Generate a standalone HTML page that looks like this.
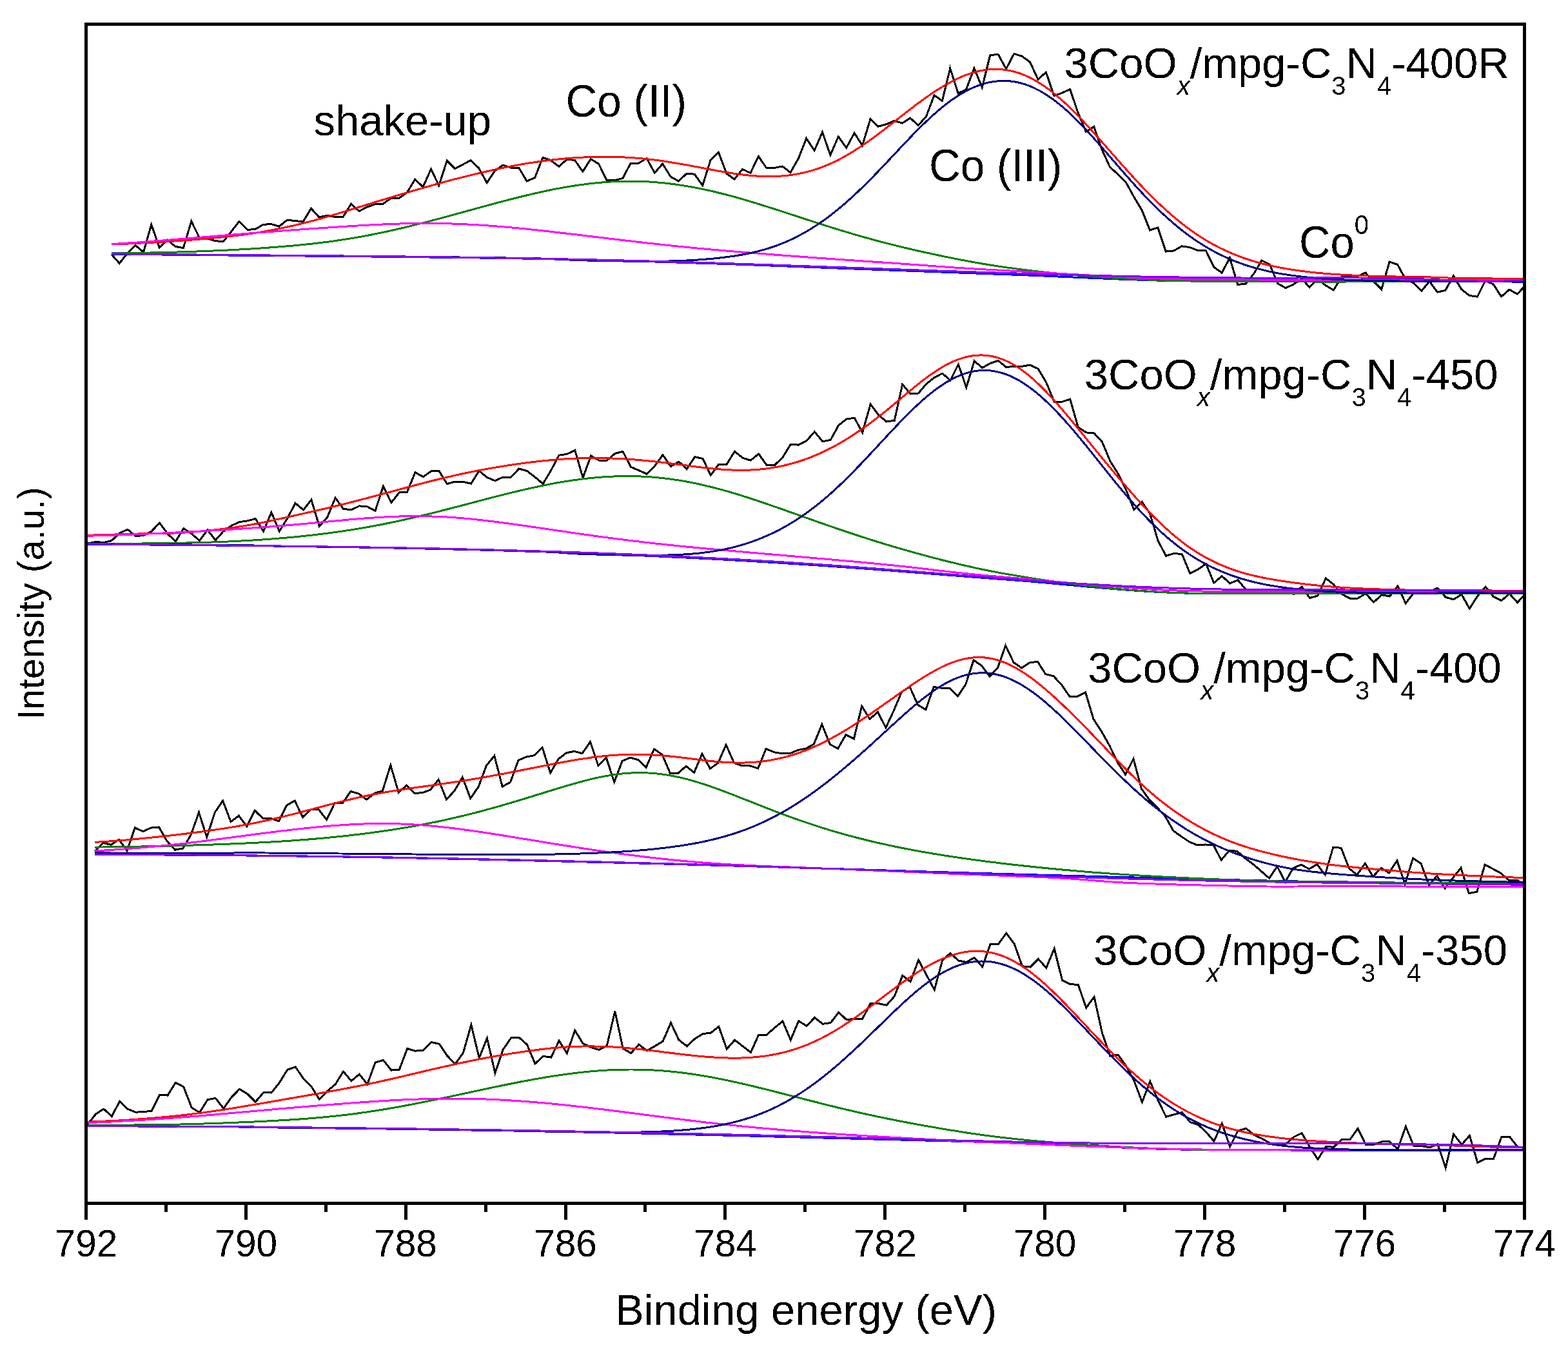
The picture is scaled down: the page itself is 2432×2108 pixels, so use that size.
<!DOCTYPE html>
<html><head><meta charset="utf-8"><title>XPS Co 2p3/2 spectra</title><style>
html,body{margin:0;padding:0;background:#fff;width:2432px;height:2108px;overflow:hidden}
svg{display:block}
.t{font-family:"Liberation Sans",Arial,sans-serif;fill:#000}
</style></head><body>
<svg xmlns="http://www.w3.org/2000/svg" width="2432" height="2108" viewBox="0 0 2432 2108">
<defs><filter id="bin" x="0" y="0" width="1" height="1" filterUnits="objectBoundingBox"><feComponentTransfer><feFuncA type="discrete" tableValues="0 1"/></feComponentTransfer></filter><clipPath id="c"><rect x="133.4" y="37.0" width="2230.8" height="1829.0"/></clipPath></defs>
<rect width="2432" height="2108" fill="#fff"/>
<g clip-path="url(#c)" fill="none" shape-rendering="crispEdges" stroke-width="3" stroke-linejoin="miter" stroke-miterlimit="4">
<polyline points="172.9,394.5 185.3,408.5 197.7,392.6 210.1,380.5 222.5,391.1 234.8,348.3 247.2,383.9 259.6,372.0 272.0,382.4 284.4,384.6 296.8,343.3 309.2,368.6 321.6,370.1 334.0,373.7 346.3,374.7 358.7,359.2 371.1,343.3 383.5,356.3 395.9,355.6 408.3,348.3 420.7,347.6 433.1,351.2 445.5,341.1 457.8,342.7 470.2,343.6 482.6,323.3 495.0,337.1 507.4,334.2 519.8,336.4 532.2,336.4 544.6,316.1 557.0,327.7 569.3,321.1 581.7,316.8 594.1,316.1 606.5,307.4 618.9,307.4 631.3,298.7 643.7,278.3 656.1,289.9 668.5,262.4 680.8,287.8 693.2,249.3 705.6,261.7 718.0,255.1 730.4,248.6 742.8,260.9 755.2,283.6 767.6,264.8 780.0,256.1 792.3,260.1 804.7,260.1 817.1,281.0 829.5,275.7 841.9,244.4 854.3,248.7 866.7,258.3 879.1,247.4 891.5,248.4 903.9,266.2 916.2,246.7 928.6,254.3 941.0,279.2 953.4,279.7 965.8,276.6 978.2,253.1 990.6,253.1 1003.0,245.6 1015.4,268.2 1027.7,254.0 1040.1,274.0 1052.5,281.0 1064.9,269.3 1077.3,270.2 1089.7,287.7 1102.1,248.4 1114.5,236.2 1126.9,269.3 1139.2,278.0 1151.6,262.4 1164.0,268.4 1176.4,242.3 1188.8,260.6 1201.2,260.3 1213.6,258.0 1226.0,267.6 1238.4,245.8 1250.7,214.5 1263.1,233.6 1275.5,204.9 1287.9,240.6 1300.3,211.9 1312.7,229.3 1325.1,206.3 1337.5,225.8 1349.9,184.9 1362.2,196.2 1374.6,192.7 1387.0,187.5 1399.4,191.0 1411.8,183.1 1424.2,194.5 1436.6,180.6 1449.0,147.7 1461.4,156.4 1473.7,105.9 1486.1,144.7 1498.5,139.0 1510.9,105.9 1523.3,135.5 1535.7,85.9 1548.1,84.2 1560.5,106.8 1572.9,83.3 1585.2,87.3 1597.6,96.3 1610.0,123.3 1622.4,112.0 1634.8,148.6 1647.2,144.2 1659.6,138.5 1672.0,174.7 1684.4,204.3 1696.7,196.4 1709.1,232.1 1721.5,259.1 1733.9,270.4 1746.3,282.6 1758.7,305.3 1771.1,326.0 1783.5,357.0 1795.9,353.0 1808.2,390.1 1820.6,388.9 1833.0,381.9 1845.4,383.7 1857.8,388.4 1870.2,388.4 1882.6,414.0 1895.0,423.2 1907.4,400.0 1919.7,441.5 1932.1,440.1 1944.5,424.9 1956.9,404.0 1969.3,410.1 1981.7,439.7 1994.1,446.7 2006.5,441.0 2018.9,432.2 2031.2,445.7 2043.6,433.0 2056.0,442.6 2068.4,450.0 2080.8,429.6 2093.2,428.7 2105.6,428.7 2118.0,423.0 2130.4,436.5 2142.8,448.7 2155.1,406.1 2167.5,410.3 2179.9,432.9 2192.3,438.7 2204.7,451.5 2217.1,436.4 2229.5,453.2 2241.9,450.3 2254.3,427.7 2266.6,448.6 2279.0,458.5 2291.4,460.2 2303.8,435.3 2316.2,441.0 2328.6,460.2 2341.0,449.2 2353.4,456.1 2365.8,442.8" stroke="#000"/>
<polyline points="136.0,843.0 148.4,840.5 160.8,841.5 173.2,838.6 185.6,827.0 197.9,821.2 210.3,831.4 222.7,830.7 235.1,824.1 247.5,811.1 259.9,827.8 272.3,840.1 284.7,819.5 297.1,827.8 309.4,838.6 321.8,822.0 334.2,837.9 346.6,824.1 359.0,815.4 371.4,809.6 383.8,807.9 396.2,804.6 408.6,824.1 420.9,794.8 433.3,824.1 445.7,804.0 458.1,780.5 470.5,791.0 482.9,775.3 495.3,816.2 507.7,802.3 520.1,772.2 532.4,789.2 544.8,791.0 557.2,784.9 569.6,785.8 582.0,792.4 594.4,754.1 606.8,779.7 619.2,764.0 631.6,763.1 643.9,732.7 656.3,739.6 668.7,730.9 681.1,730.9 693.5,750.6 705.9,747.1 718.3,747.5 730.7,750.1 743.1,730.4 755.4,740.5 767.8,745.7 780.2,740.1 792.6,740.1 805.0,727.0 817.4,730.5 829.8,740.1 842.2,750.5 854.6,729.6 867.0,706.1 879.3,704.4 891.7,698.3 904.1,741.0 916.5,707.0 928.9,714.0 941.3,714.3 953.7,703.5 966.1,700.4 978.5,724.4 990.8,729.6 1003.2,735.2 1015.6,722.7 1028.0,705.6 1040.4,723.5 1052.8,716.1 1065.2,727.5 1077.6,708.7 1090.0,711.4 1102.3,737.0 1114.7,720.4 1127.1,720.2 1139.5,700.2 1151.9,710.3 1164.3,714.1 1176.7,704.0 1189.1,721.4 1201.5,721.4 1213.8,709.7 1226.2,689.4 1238.6,690.1 1251.0,683.6 1263.4,669.7 1275.8,684.8 1288.2,682.4 1300.6,659.8 1313.0,650.0 1325.3,648.3 1337.7,670.9 1350.1,627.0 1362.5,643.6 1374.9,654.0 1387.3,652.3 1399.7,596.1 1412.1,611.0 1424.5,610.0 1436.8,595.4 1449.2,585.6 1461.6,579.2 1474.0,590.0 1486.4,565.2 1498.8,600.9 1511.2,560.0 1523.6,570.5 1536.0,563.5 1548.3,559.5 1560.7,569.6 1573.1,568.2 1585.5,568.2 1597.9,566.1 1610.3,572.2 1622.7,593.1 1635.1,623.2 1647.5,623.2 1659.8,619.2 1672.2,662.7 1684.6,670.9 1697.0,672.0 1709.4,685.4 1721.8,715.0 1734.2,735.0 1746.6,760.2 1759.0,790.7 1771.3,778.5 1783.7,796.9 1796.1,838.8 1808.5,862.3 1820.9,858.4 1833.3,859.7 1845.7,889.3 1858.1,883.2 1870.5,874.5 1882.8,904.1 1895.2,893.6 1907.6,904.9 1920.0,899.7 1932.4,914.5 1944.8,914.5 1957.2,914.5 1969.6,914.5 1982.0,915.4 1994.3,918.0 2006.7,921.5 2019.1,910.1 2031.5,927.6 2043.9,924.1 2056.3,897.1 2068.7,906.7 2081.1,921.5 2093.5,928.1 2105.9,928.1 2118.2,920.6 2130.6,934.1 2143.0,922.7 2155.4,925.1 2167.8,909.1 2180.2,935.8 2192.6,919.8 2205.0,918.6 2217.4,917.4 2229.7,912.1 2242.1,926.3 2254.5,929.8 2266.9,922.1 2279.3,944.0 2291.7,924.5 2304.1,910.3 2316.5,925.7 2328.9,931.6 2341.2,920.9 2353.6,934.6 2366.0,921.0" stroke="#000"/>
<polyline points="147.4,1320.4 159.8,1307.4 172.2,1310.3 184.6,1302.3 197.0,1319.7 209.3,1283.9 221.7,1289.7 234.1,1284.1 246.5,1283.0 258.9,1304.5 271.3,1318.2 283.7,1316.1 296.1,1295.0 308.5,1260.2 320.8,1298.7 333.2,1260.2 345.6,1242.1 358.0,1274.7 370.4,1265.3 382.8,1282.0 395.2,1257.3 407.6,1269.3 420.0,1269.5 432.3,1273.6 444.7,1249.2 457.1,1241.9 469.5,1267.5 481.9,1255.8 494.3,1255.8 506.7,1271.5 519.1,1245.8 531.5,1245.8 543.8,1227.5 556.2,1231.0 568.6,1240.2 581.0,1230.4 593.4,1226.6 605.8,1186.9 618.2,1229.2 630.6,1218.2 643.0,1230.4 655.3,1229.7 667.7,1224.9 680.1,1209.2 692.5,1240.2 704.9,1226.6 717.3,1205.7 729.7,1238.4 742.1,1220.5 754.5,1187.4 766.8,1172.4 779.2,1220.1 791.6,1213.2 804.0,1179.2 816.4,1174.0 828.8,1171.7 841.2,1159.5 853.6,1198.9 866.0,1177.5 878.4,1167.9 890.7,1165.3 903.1,1168.8 915.5,1150.5 927.9,1187.9 940.3,1175.2 952.7,1213.2 965.1,1180.4 977.5,1175.2 989.9,1178.7 1002.2,1190.2 1014.6,1161.8 1027.0,1170.5 1039.4,1199.2 1051.8,1199.2 1064.2,1188.4 1076.6,1198.4 1089.0,1169.3 1101.4,1192.3 1113.7,1183.5 1126.1,1155.4 1138.5,1183.2 1150.9,1187.9 1163.3,1187.9 1175.7,1191.9 1188.1,1161.5 1200.5,1166.7 1212.9,1168.8 1225.2,1168.8 1237.6,1163.5 1250.0,1161.1 1262.4,1154.2 1274.8,1123.5 1287.2,1154.5 1299.6,1161.1 1312.0,1139.7 1324.4,1146.1 1336.7,1095.3 1349.1,1115.3 1361.5,1104.4 1373.9,1128.7 1386.3,1102.3 1398.7,1072.7 1411.1,1065.7 1423.5,1093.2 1435.9,1100.9 1448.2,1065.4 1460.6,1067.3 1473.0,1067.5 1485.4,1080.2 1497.8,1061.4 1510.2,1024.0 1522.6,1032.7 1535.0,1049.2 1547.4,1036.1 1559.7,1001.3 1572.1,1027.4 1584.5,1036.1 1596.9,1028.0 1609.3,1026.2 1621.7,1045.7 1634.1,1048.8 1646.5,1062.2 1658.9,1080.2 1671.2,1080.2 1683.6,1073.9 1696.0,1115.3 1708.4,1134.5 1720.8,1156.3 1733.2,1182.4 1745.6,1201.5 1758.0,1177.2 1770.4,1223.3 1782.7,1240.7 1795.1,1252.9 1807.5,1266.5 1819.9,1288.7 1832.3,1297.5 1844.7,1305.8 1857.1,1311.0 1869.5,1310.0 1881.9,1310.5 1894.2,1334.0 1906.6,1319.2 1919.0,1320.4 1931.4,1331.4 1943.8,1340.6 1956.2,1351.4 1968.6,1362.2 1981.0,1344.1 1993.4,1368.0 2005.8,1346.5 2018.1,1341.3 2030.5,1347.9 2042.9,1340.6 2055.3,1357.0 2067.7,1314.5 2080.1,1315.2 2092.5,1347.1 2104.9,1357.0 2117.3,1339.2 2129.6,1359.8 2142.0,1346.2 2154.4,1354.0 2166.8,1335.0 2179.2,1371.2 2191.6,1331.1 2204.0,1339.5 2216.4,1372.9 2228.8,1358.9 2241.1,1377.9 2253.5,1361.7 2265.9,1346.2 2278.3,1385.6 2290.7,1383.4 2303.1,1341.2 2315.5,1347.8 2327.9,1354.5 2340.3,1365.6 2352.6,1365.1 2365.0,1372.3" stroke="#000"/>
<polyline points="136.1,1744.0 148.5,1728.1 160.9,1720.1 173.3,1731.7 185.7,1708.2 198.0,1720.1 210.4,1725.2 222.8,1724.5 235.2,1723.3 247.6,1698.3 260.0,1699.1 272.4,1679.2 284.8,1686.0 297.2,1717.9 309.5,1725.9 321.9,1705.9 334.3,1703.4 346.7,1719.4 359.1,1702.0 371.5,1689.3 383.9,1696.9 396.3,1709.2 408.7,1694.7 421.0,1695.0 433.4,1679.3 445.8,1659.3 458.2,1654.9 470.6,1673.2 483.0,1685.4 495.4,1705.4 507.8,1692.3 520.2,1681.9 532.5,1661.9 544.9,1676.7 557.3,1666.2 569.7,1681.9 582.1,1647.9 594.5,1644.5 606.9,1660.1 619.3,1659.3 631.7,1626.5 644.0,1630.2 656.4,1629.1 668.8,1616.6 681.2,1619.2 693.6,1637.5 706.0,1650.6 718.4,1633.1 730.8,1589.6 743.2,1641.0 755.5,1610.5 767.9,1664.5 780.3,1627.9 792.7,1610.0 805.1,1609.3 817.5,1620.4 829.9,1650.0 842.3,1638.4 854.7,1640.1 867.1,1614.5 879.4,1633.7 891.8,1598.3 904.2,1618.7 916.6,1624.4 929.0,1628.4 941.4,1621.8 953.8,1568.7 966.2,1626.2 978.6,1633.7 990.9,1620.1 1003.3,1629.7 1015.7,1622.7 1028.1,1615.2 1040.5,1586.7 1052.9,1613.1 1065.3,1622.7 1077.7,1611.4 1090.1,1603.5 1102.4,1602.3 1114.8,1592.2 1127.2,1627.2 1139.6,1613.2 1152.0,1622.8 1164.4,1632.4 1176.8,1605.0 1189.2,1605.0 1201.6,1594.1 1213.9,1584.1 1226.3,1613.2 1238.7,1583.6 1251.1,1591.5 1263.5,1578.4 1275.9,1588.3 1288.3,1586.6 1300.7,1570.2 1313.1,1581.9 1325.4,1580.1 1337.8,1580.1 1350.2,1556.3 1362.6,1556.6 1375.0,1559.3 1387.4,1545.3 1399.8,1513.1 1412.2,1522.7 1424.6,1489.1 1436.9,1512.2 1449.3,1535.4 1461.7,1489.5 1474.1,1478.4 1486.5,1490.1 1498.9,1492.3 1511.3,1485.4 1523.7,1499.6 1536.1,1464.5 1548.4,1464.5 1560.8,1447.4 1573.2,1464.0 1585.6,1498.8 1598.0,1500.0 1610.4,1487.5 1622.8,1501.4 1635.2,1471.4 1647.6,1520.5 1659.9,1526.6 1672.3,1527.5 1684.7,1563.2 1697.1,1546.3 1709.5,1602.4 1721.9,1638.0 1734.3,1636.3 1746.7,1653.7 1759.1,1676.8 1771.4,1709.6 1783.8,1677.4 1796.2,1707.0 1808.6,1732.3 1821.0,1728.8 1833.4,1725.3 1845.8,1740.6 1858.2,1744.5 1870.6,1755.8 1882.9,1770.2 1895.3,1742.7 1907.7,1778.4 1920.1,1754.0 1932.5,1750.5 1944.9,1760.1 1957.3,1766.2 1969.7,1773.2 1982.1,1774.0 1994.4,1774.4 2006.8,1763.6 2019.2,1757.5 2031.6,1779.3 2044.0,1798.4 2056.4,1778.4 2068.8,1779.3 2081.2,1767.1 2093.6,1768.0 2106.0,1750.6 2118.3,1775.5 2130.7,1775.5 2143.1,1770.9 2155.5,1770.9 2167.9,1782.4 2180.3,1747.4 2192.7,1777.4 2205.1,1777.6 2217.5,1779.8 2229.8,1774.8 2242.2,1811.4 2254.6,1759.2 2267.0,1775.5 2279.4,1761.5 2291.8,1803.6 2304.2,1797.0 2316.6,1797.3 2329.0,1763.1 2341.3,1763.1 2353.7,1778.8 2366.1,1780.7" stroke="#000"/>
<polyline points="172.9,394.2 178.9,394.3 184.9,394.3 190.9,394.4 196.9,394.5 202.9,394.5 208.9,394.6 214.9,394.7 220.9,394.7 226.9,394.8 232.9,394.8 238.9,394.9 244.9,395.0 250.9,395.0 256.9,395.1 262.9,395.2 268.9,395.2 274.9,395.3 280.9,395.3 286.9,395.4 292.9,395.5 298.9,395.5 304.9,395.6 310.9,395.6 316.9,395.7 322.9,395.7 328.9,395.8 334.9,395.8 340.9,395.9 346.9,395.9 352.9,396.0 358.9,396.1 364.9,396.1 370.9,396.2 376.9,396.2 382.9,396.3 388.9,396.3 394.9,396.4 400.9,396.4 406.9,396.5 412.9,396.5 418.9,396.6 424.9,396.6 430.9,396.7 436.9,396.7 442.9,396.8 448.9,396.8 454.9,396.9 460.9,396.9 466.9,397.0 472.9,397.0 478.9,397.1 484.9,397.1 490.9,397.2 496.9,397.2 502.9,397.3 508.9,397.4 514.9,397.4 520.9,397.5 526.9,397.5 532.9,397.6 538.9,397.6 544.9,397.7 550.9,397.8 556.9,397.8 562.9,397.9 568.9,397.9 574.9,398.0 580.9,398.1 586.9,398.1 592.9,398.2 598.9,398.3 604.9,398.3 610.9,398.4 616.9,398.4 622.9,398.5 628.9,398.6 634.9,398.6 640.9,398.7 646.9,398.8 652.9,398.8 658.9,398.9 664.9,399.0 670.9,399.1 676.9,399.1 682.9,399.2 688.9,399.3 694.9,399.4 700.9,399.4 706.9,399.5 712.9,399.6 718.9,399.7 724.9,399.7 730.9,399.8 736.9,399.9 742.9,400.0 748.9,400.1 754.9,400.2 760.9,400.3 766.9,400.4 772.9,400.4 778.9,400.5 784.9,400.6 790.9,400.7 796.9,400.8 802.9,400.9 808.9,401.0 814.9,401.1 820.9,401.2 826.9,401.4 832.9,401.5 838.9,401.6 844.9,401.7 850.9,401.8 856.9,401.9 862.9,402.1 868.9,402.2 874.9,402.3 880.9,402.4 886.9,402.6 892.9,402.7 898.9,402.9 904.9,403.0 910.9,403.1 916.9,403.3 922.9,403.4 928.9,403.6 934.9,403.8 940.9,403.9 946.9,404.1 952.9,404.2 958.9,404.4 964.9,404.6 970.9,404.7 976.9,404.9 982.9,405.1 988.9,405.2 994.9,405.4 1000.9,405.6 1006.9,405.8 1012.9,405.9 1018.9,406.1 1024.9,406.3 1030.9,406.5 1036.9,406.7 1042.9,406.9 1048.9,407.0 1054.9,407.2 1060.9,407.4 1066.9,407.6 1072.9,407.8 1078.9,408.0 1084.9,408.2 1090.9,408.3 1096.9,408.5 1102.9,408.7 1108.9,408.9 1114.9,409.1 1120.9,409.3 1126.9,409.5 1132.9,409.7 1138.9,409.9 1144.9,410.2 1150.9,410.4 1156.9,410.6 1162.9,410.8 1168.9,411.0 1174.9,411.2 1180.9,411.5 1186.9,411.7 1192.9,411.9 1198.9,412.2 1204.9,412.4 1210.9,412.6 1216.9,412.8 1222.9,413.1 1228.9,413.3 1234.9,413.5 1240.9,413.8 1246.9,414.0 1252.9,414.2 1258.9,414.5 1264.9,414.7 1270.9,414.9 1276.9,415.2 1282.9,415.4 1288.9,415.6 1294.9,415.8 1300.9,416.1 1306.9,416.3 1312.9,416.5 1318.9,416.7 1324.9,417.0 1330.9,417.2 1336.9,417.4 1342.9,417.6 1348.9,417.9 1354.9,418.1 1360.9,418.3 1366.9,418.5 1372.9,418.8 1378.9,419.0 1384.9,419.2 1390.9,419.4 1396.9,419.7 1402.9,419.9 1408.9,420.1 1414.9,420.3 1420.9,420.6 1426.9,420.8 1432.9,421.0 1438.9,421.2 1444.9,421.5 1450.9,421.7 1456.9,421.9 1462.9,422.1 1468.9,422.4 1474.9,422.6 1480.9,422.8 1486.9,423.0 1492.9,423.2 1498.9,423.5 1504.9,423.7 1510.9,423.9 1516.9,424.1 1522.9,424.3 1528.9,424.6 1534.9,424.8 1540.9,425.0 1546.9,425.2 1552.9,425.4 1558.9,425.6 1564.9,425.8 1570.9,426.1 1576.9,426.3 1582.9,426.5 1588.9,426.8 1594.9,427.0 1600.9,427.3 1606.9,427.5 1612.9,427.8 1618.9,428.0 1624.9,428.3 1630.9,428.5 1636.9,428.8 1642.9,429.1 1648.9,429.3 1654.9,429.6 1660.9,429.9 1666.9,430.1 1672.9,430.4 1678.9,430.7 1684.9,430.9 1690.9,431.2 1696.9,431.4 1702.9,431.7 1708.9,431.9 1714.9,432.2 1720.9,432.4 1726.9,432.7 1732.9,432.9 1738.9,433.2 1744.9,433.4 1750.9,433.6 1756.9,433.8 1762.9,434.0 1768.9,434.2 1774.9,434.4 1780.9,434.6 1786.9,434.8 1792.9,435.0 1798.9,435.1 1804.9,435.3 1810.9,435.4 1816.9,435.5 1822.9,435.7 1828.9,435.8 1834.9,435.9 1840.9,436.0 1846.9,436.0 1852.9,436.1 1858.9,436.1 1864.9,436.2 1870.9,436.2 1876.9,436.2 1882.9,436.2 1888.9,436.3 1894.9,436.3 1900.9,436.3 1906.9,436.3 1912.9,436.3 1918.9,436.3 1924.9,436.3 1930.9,436.3 1936.9,436.4 1942.9,436.4 1948.9,436.4 1954.9,436.4 1960.9,436.4 1966.9,436.4 1972.9,436.4 1978.9,436.4 1984.9,436.4 1990.9,436.4 1996.9,436.4 2002.9,436.4 2008.9,436.5 2014.9,436.5 2020.9,436.5 2026.9,436.5 2032.9,436.5 2038.9,436.5 2044.9,436.5 2050.9,436.5 2056.9,436.5 2062.9,436.5 2068.9,436.5 2074.9,436.5 2080.9,436.5 2086.9,436.6 2092.9,436.6 2098.9,436.6 2104.9,436.6 2110.9,436.6 2116.9,436.6 2122.9,436.6 2128.9,436.6 2134.9,436.6 2140.9,436.6 2146.9,436.6 2152.9,436.7 2158.9,436.7 2164.9,436.7 2170.9,436.7 2176.9,436.7 2182.9,436.7 2188.9,436.7 2194.9,436.7 2200.9,436.7 2206.9,436.7 2212.9,436.8 2218.9,436.8 2224.9,436.8 2230.9,436.8 2236.9,436.8 2242.9,436.8 2248.9,436.8 2254.9,436.8 2260.9,436.8 2266.9,436.8 2272.9,436.9 2278.9,436.9 2284.9,436.9 2290.9,436.9 2296.9,436.9 2302.9,436.9 2308.9,436.9 2314.9,436.9 2320.9,436.9 2326.9,436.9 2332.9,436.9 2338.9,437.0 2344.9,437.0 2350.9,437.0 2356.9,437.0 2362.9,437.0 2368.9,437.0" stroke="#0000FF"/>
<polyline points="172.9,392.7 178.9,392.7 184.9,392.6 190.9,392.6 196.9,392.5 202.9,392.4 208.9,392.4 214.9,392.3 220.9,392.2 226.9,392.1 232.9,392.0 238.9,391.9 244.9,391.8 250.9,391.6 256.9,391.5 262.9,391.3 268.9,391.2 274.9,391.0 280.9,390.8 286.9,390.7 292.9,390.5 298.9,390.3 304.9,390.0 310.9,389.8 316.9,389.6 322.9,389.4 328.9,389.1 334.9,388.8 340.9,388.6 346.9,388.3 352.9,388.0 358.9,387.7 364.9,387.4 370.9,387.0 376.9,386.7 382.9,386.3 388.9,386.0 394.9,385.6 400.9,385.2 406.9,384.8 412.9,384.4 418.9,383.9 424.9,383.5 430.9,383.0 436.9,382.5 442.9,382.0 448.9,381.5 454.9,381.0 460.9,380.4 466.9,379.8 472.9,379.2 478.9,378.6 484.9,378.0 490.9,377.3 496.9,376.6 502.9,375.8 508.9,375.1 514.9,374.3 520.9,373.4 526.9,372.5 532.9,371.6 538.9,370.7 544.9,369.7 550.9,368.7 556.9,367.7 562.9,366.6 568.9,365.5 574.9,364.3 580.9,363.1 586.9,361.9 592.9,360.6 598.9,359.4 604.9,358.0 610.9,356.7 616.9,355.3 622.9,353.9 628.9,352.5 634.9,351.1 640.9,349.6 646.9,348.1 652.9,346.6 658.9,345.0 664.9,343.5 670.9,341.9 676.9,340.3 682.9,338.7 688.9,337.1 694.9,335.5 700.9,333.8 706.9,332.2 712.9,330.5 718.9,328.9 724.9,327.2 730.9,325.6 736.9,323.9 742.9,322.3 748.9,320.6 754.9,319.0 760.9,317.4 766.9,315.7 772.9,314.1 778.9,312.5 784.9,311.0 790.9,309.4 796.9,307.9 802.9,306.4 808.9,304.9 814.9,303.4 820.9,302.0 826.9,300.6 832.9,299.2 838.9,297.9 844.9,296.6 850.9,295.3 856.9,294.1 862.9,292.9 868.9,291.8 874.9,290.7 880.9,289.7 886.9,288.7 892.9,287.8 898.9,286.9 904.9,286.1 910.9,285.3 916.9,284.6 922.9,284.0 928.9,283.4 934.9,282.9 940.9,282.4 946.9,282.0 952.9,281.7 958.9,281.5 964.9,281.3 970.9,281.2 976.9,281.1 982.9,281.2 988.9,281.3 994.9,281.4 1000.9,281.7 1006.9,282.0 1012.9,282.4 1018.9,282.9 1024.9,283.4 1030.9,284.0 1036.9,284.7 1042.9,285.4 1048.9,286.2 1054.9,287.1 1060.9,288.0 1066.9,289.0 1072.9,290.1 1078.9,291.2 1084.9,292.4 1090.9,293.6 1096.9,294.9 1102.9,296.2 1108.9,297.6 1114.9,299.1 1120.9,300.6 1126.9,302.1 1132.9,303.7 1138.9,305.3 1144.9,307.0 1150.9,308.7 1156.9,310.5 1162.9,312.3 1168.9,314.1 1174.9,315.9 1180.9,317.8 1186.9,319.7 1192.9,321.6 1198.9,323.5 1204.9,325.4 1210.9,327.3 1216.9,329.3 1222.9,331.3 1228.9,333.2 1234.9,335.2 1240.9,337.2 1246.9,339.1 1252.9,341.1 1258.9,343.0 1264.9,345.0 1270.9,346.9 1276.9,348.8 1282.9,350.7 1288.9,352.6 1294.9,354.5 1300.9,356.3 1306.9,358.1 1312.9,359.9 1318.9,361.7 1324.9,363.5 1330.9,365.2 1336.9,367.0 1342.9,368.6 1348.9,370.3 1354.9,372.0 1360.9,373.6 1366.9,375.2 1372.9,376.7 1378.9,378.3 1384.9,379.8 1390.9,381.3 1396.9,382.7 1402.9,384.2 1408.9,385.6 1414.9,387.0 1420.9,388.4 1426.9,389.8 1432.9,391.1 1438.9,392.4 1444.9,393.7 1450.9,395.0 1456.9,396.3 1462.9,397.5 1468.9,398.8 1474.9,400.0 1480.9,401.2 1486.9,402.4 1492.9,403.5 1498.9,404.6 1504.9,405.7 1510.9,406.8 1516.9,407.9 1522.9,408.9 1528.9,409.9 1534.9,410.9 1540.9,411.8 1546.9,412.8 1552.9,413.7 1558.9,414.5 1564.9,415.4 1570.9,416.2 1576.9,417.0 1582.9,417.8 1588.9,418.5 1594.9,419.3 1600.9,420.0 1606.9,420.7 1612.9,421.4 1618.9,422.0 1624.9,422.7 1630.9,423.3 1636.9,423.9 1642.9,424.5 1648.9,425.1 1654.9,425.6 1660.9,426.2 1666.9,426.7 1672.9,427.2 1678.9,427.7 1684.9,428.2 1690.9,428.7 1696.9,429.1 1702.9,429.5 1708.9,430.0 1714.9,430.4 1720.9,430.8 1726.9,431.1 1732.9,431.5 1738.9,431.9 1744.9,432.2 1750.9,432.5 1756.9,432.8 1762.9,433.1 1768.9,433.4 1774.9,433.7 1780.9,434.0 1786.9,434.2 1792.9,434.4 1798.9,434.7 1804.9,434.9 1810.9,435.1 1816.9,435.3 1822.9,435.4 1828.9,435.6 1834.9,435.7 1840.9,435.8 1846.9,436.0 1852.9,436.1 1858.9,436.1 1864.9,436.2 1870.9,436.3 1876.9,436.3 1882.9,436.3 1888.9,436.4 1894.9,436.4 1900.9,436.5 1906.9,436.5 1912.9,436.5 1918.9,436.6 1924.9,436.6 1930.9,436.6 1936.9,436.7 1942.9,436.7 1948.9,436.7 1954.9,436.7 1960.9,436.8 1966.9,436.8 1972.9,436.8 1978.9,436.8 1984.9,436.8 1990.9,436.8 1996.9,436.9 2002.9,436.9 2008.9,436.9 2014.9,436.9 2020.9,436.9 2026.9,436.9 2032.9,437.0 2038.9,437.0 2044.9,437.0 2050.9,437.0 2056.9,437.0 2062.9,437.0 2068.9,437.0 2074.9,437.0 2080.9,437.0 2086.9,437.0 2092.9,436.9 2098.9,436.9 2104.9,436.8 2110.9,436.7 2116.9,436.6 2122.9,436.5 2128.9,436.4 2134.9,436.3 2140.9,436.2 2146.9,436.1 2152.9,436.1 2158.9,436.0 2164.9,436.0 2170.9,436.0 2176.9,436.0 2182.9,436.0 2188.9,436.0 2194.9,436.0 2200.9,436.0 2206.9,436.1 2212.9,436.1 2218.9,436.1 2224.9,436.1 2230.9,436.1 2236.9,436.1 2242.9,436.2 2248.9,436.2 2254.9,436.2 2260.9,436.2 2266.9,436.2 2272.9,436.2 2278.9,436.3 2284.9,436.3 2290.9,436.3 2296.9,436.3 2302.9,436.3 2308.9,436.3 2314.9,436.4 2320.9,436.4 2326.9,436.4 2332.9,436.4 2338.9,436.4 2344.9,436.4 2350.9,436.5 2356.9,436.5 2362.9,436.5 2368.9,436.5" stroke="#008000"/>
<polyline points="172.9,379.0 178.9,378.8 184.9,378.5 190.9,378.3 196.9,378.1 202.9,377.8 208.9,377.5 214.9,377.2 220.9,376.9 226.9,376.6 232.9,376.3 238.9,376.0 244.9,375.6 250.9,375.3 256.9,374.9 262.9,374.5 268.9,374.1 274.9,373.7 280.9,373.3 286.9,372.8 292.9,372.4 298.9,371.9 304.9,371.4 310.9,370.9 316.9,370.4 322.9,369.9 328.9,369.3 334.9,368.8 340.9,368.2 346.9,367.6 352.9,367.0 358.9,366.3 364.9,365.6 370.9,364.9 376.9,364.1 382.9,363.3 388.9,362.4 394.9,361.5 400.9,360.6 406.9,359.6 412.9,358.5 418.9,357.4 424.9,356.3 430.9,355.1 436.9,353.9 442.9,352.6 448.9,351.3 454.9,350.0 460.9,348.5 466.9,347.1 472.9,345.6 478.9,344.1 484.9,342.5 490.9,340.9 496.9,339.2 502.9,337.5 508.9,335.8 514.9,334.0 520.9,332.3 526.9,330.4 532.9,328.6 538.9,326.8 544.9,324.9 550.9,323.1 556.9,321.2 562.9,319.4 568.9,317.5 574.9,315.7 580.9,313.8 586.9,312.0 592.9,310.2 598.9,308.4 604.9,306.6 610.9,304.8 616.9,303.0 622.9,301.2 628.9,299.4 634.9,297.7 640.9,295.9 646.9,294.2 652.9,292.4 658.9,290.7 664.9,289.0 670.9,287.3 676.9,285.6 682.9,284.0 688.9,282.3 694.9,280.7 700.9,279.1 706.9,277.6 712.9,276.0 718.9,274.5 724.9,273.0 730.9,271.5 736.9,270.1 742.9,268.7 748.9,267.3 754.9,265.9 760.9,264.5 766.9,263.2 772.9,261.9 778.9,260.7 784.9,259.4 790.9,258.3 796.9,257.1 802.9,256.0 808.9,254.9 814.9,253.9 820.9,252.9 826.9,252.0 832.9,251.1 838.9,250.2 844.9,249.4 850.9,248.7 856.9,247.9 862.9,247.3 868.9,246.7 874.9,246.1 880.9,245.6 886.9,245.1 892.9,244.7 898.9,244.3 904.9,244.0 910.9,243.7 916.9,243.5 922.9,243.3 928.9,243.2 934.9,243.2 940.9,243.2 946.9,243.2 952.9,243.4 958.9,243.5 964.9,243.8 970.9,244.1 976.9,244.4 982.9,244.8 988.9,245.3 994.9,245.8 1000.9,246.4 1006.9,247.1 1012.9,247.8 1018.9,248.5 1024.9,249.3 1030.9,250.2 1036.9,251.1 1042.9,252.1 1048.9,253.1 1054.9,254.1 1060.9,255.1 1066.9,256.2 1072.9,257.4 1078.9,258.5 1084.9,259.6 1090.9,260.8 1096.9,261.9 1102.9,263.1 1108.9,264.2 1114.9,265.3 1120.9,266.3 1126.9,267.4 1132.9,268.3 1138.9,269.3 1144.9,270.1 1150.9,270.9 1156.9,271.6 1162.9,272.2 1168.9,272.7 1174.9,273.1 1180.9,273.5 1186.9,273.7 1192.9,273.7 1198.9,273.7 1204.9,273.5 1210.9,273.1 1216.9,272.7 1222.9,272.0 1228.9,271.2 1234.9,270.3 1240.9,269.1 1246.9,267.8 1252.9,266.3 1258.9,264.7 1264.9,262.8 1270.9,260.8 1276.9,258.5 1282.9,256.1 1288.9,253.5 1294.9,250.7 1300.9,247.7 1306.9,244.5 1312.9,241.1 1318.9,237.6 1324.9,233.9 1330.9,230.1 1336.9,226.1 1342.9,222.0 1348.9,217.8 1354.9,213.4 1360.9,208.9 1366.9,204.4 1372.9,199.8 1378.9,195.1 1384.9,190.5 1390.9,185.8 1396.9,181.0 1402.9,176.4 1408.9,171.7 1414.9,167.1 1420.9,162.5 1426.9,158.1 1432.9,153.7 1438.9,149.5 1444.9,145.3 1450.9,141.3 1456.9,137.5 1462.9,133.8 1468.9,130.3 1474.9,127.1 1480.9,124.0 1486.9,121.1 1492.9,118.5 1498.9,116.1 1504.9,114.0 1510.9,112.2 1516.9,110.6 1522.9,109.3 1528.9,108.4 1534.9,107.7 1540.9,107.4 1546.9,107.3 1552.9,107.6 1558.9,108.3 1564.9,109.3 1570.9,110.6 1576.9,112.2 1582.9,114.2 1588.9,116.6 1594.9,119.2 1600.9,122.2 1606.9,125.6 1612.9,129.2 1618.9,133.1 1624.9,137.4 1630.9,141.9 1636.9,146.7 1642.9,151.8 1648.9,157.1 1654.9,162.6 1660.9,168.4 1666.9,174.3 1672.9,180.5 1678.9,186.8 1684.9,193.2 1690.9,199.7 1696.9,206.4 1702.9,213.1 1708.9,219.9 1714.9,226.7 1720.9,233.5 1726.9,240.4 1732.9,247.2 1738.9,254.0 1744.9,260.7 1750.9,267.4 1756.9,273.9 1762.9,280.4 1768.9,286.9 1774.9,293.1 1780.9,299.3 1786.9,305.3 1792.9,311.2 1798.9,317.0 1804.9,322.6 1810.9,328.0 1816.9,333.3 1822.9,338.4 1828.9,343.3 1834.9,348.1 1840.9,352.7 1846.9,357.1 1852.9,361.3 1858.9,365.3 1864.9,369.2 1870.9,372.9 1876.9,376.4 1882.9,379.7 1888.9,382.9 1894.9,385.9 1900.9,388.7 1906.9,391.4 1912.9,394.0 1918.9,396.4 1924.9,398.7 1930.9,400.8 1936.9,402.8 1942.9,404.7 1948.9,406.5 1954.9,408.1 1960.9,409.7 1966.9,411.1 1972.9,412.5 1978.9,413.8 1984.9,415.0 1990.9,416.1 1996.9,417.1 2002.9,418.1 2008.9,419.0 2014.9,419.9 2020.9,420.7 2026.9,421.4 2032.9,422.1 2038.9,422.8 2044.9,423.4 2050.9,423.9 2056.9,424.5 2062.9,424.9 2068.9,425.4 2074.9,425.8 2080.9,426.1 2086.9,426.5 2092.9,426.8 2098.9,427.1 2104.9,427.3 2110.9,427.6 2116.9,427.8 2122.9,428.0 2128.9,428.2 2134.9,428.3 2140.9,428.5 2146.9,428.6 2152.9,428.7 2158.9,428.9 2164.9,429.0 2170.9,429.1 2176.9,429.2 2182.9,429.3 2188.9,429.4 2194.9,429.5 2200.9,429.6 2206.9,429.7 2212.9,429.8 2218.9,430.0 2224.9,430.2 2230.9,430.4 2236.9,430.6 2242.9,430.9 2248.9,431.1 2254.9,431.2 2260.9,431.4 2266.9,431.5 2272.9,431.6 2278.9,431.7 2284.9,431.8 2290.9,431.8 2296.9,431.9 2302.9,431.9 2308.9,431.9 2314.9,432.0 2320.9,432.0 2326.9,432.0 2332.9,432.1 2338.9,432.1 2344.9,432.1 2350.9,432.1 2356.9,432.2 2362.9,432.2 2368.9,432.2" stroke="#FF0000"/>
<polyline points="172.9,378.7 178.9,378.3 184.9,377.9 190.9,377.5 196.9,377.1 202.9,376.7 208.9,376.3 214.9,375.9 220.9,375.4 226.9,375.0 232.9,374.5 238.9,374.0 244.9,373.6 250.9,373.1 256.9,372.6 262.9,372.1 268.9,371.6 274.9,371.1 280.9,370.6 286.9,370.2 292.9,369.7 298.9,369.2 304.9,368.7 310.9,368.2 316.9,367.7 322.9,367.2 328.9,366.7 334.9,366.2 340.9,365.7 346.9,365.2 352.9,364.7 358.9,364.2 364.9,363.7 370.9,363.2 376.9,362.8 382.9,362.3 388.9,361.8 394.9,361.3 400.9,360.8 406.9,360.4 412.9,359.9 418.9,359.4 424.9,359.0 430.9,358.5 436.9,358.1 442.9,357.6 448.9,357.2 454.9,356.7 460.9,356.3 466.9,355.9 472.9,355.4 478.9,355.0 484.9,354.6 490.9,354.2 496.9,353.8 502.9,353.4 508.9,353.0 514.9,352.6 520.9,352.2 526.9,351.8 532.9,351.4 538.9,351.0 544.9,350.6 550.9,350.3 556.9,349.9 562.9,349.6 568.9,349.2 574.9,348.9 580.9,348.6 586.9,348.3 592.9,348.0 598.9,347.8 604.9,347.5 610.9,347.3 616.9,347.1 622.9,346.9 628.9,346.8 634.9,346.6 640.9,346.5 646.9,346.5 652.9,346.4 658.9,346.4 664.9,346.4 670.9,346.4 676.9,346.5 682.9,346.6 688.9,346.7 694.9,346.8 700.9,347.0 706.9,347.2 712.9,347.4 718.9,347.7 724.9,348.0 730.9,348.3 736.9,348.6 742.9,349.0 748.9,349.4 754.9,349.8 760.9,350.2 766.9,350.7 772.9,351.2 778.9,351.7 784.9,352.2 790.9,352.7 796.9,353.3 802.9,353.8 808.9,354.4 814.9,355.0 820.9,355.7 826.9,356.3 832.9,356.9 838.9,357.6 844.9,358.2 850.9,358.9 856.9,359.6 862.9,360.3 868.9,361.0 874.9,361.7 880.9,362.4 886.9,363.1 892.9,363.8 898.9,364.5 904.9,365.2 910.9,366.0 916.9,366.7 922.9,367.4 928.9,368.1 934.9,368.8 940.9,369.6 946.9,370.3 952.9,371.0 958.9,371.7 964.9,372.4 970.9,373.1 976.9,373.8 982.9,374.5 988.9,375.2 994.9,375.9 1000.9,376.6 1006.9,377.3 1012.9,377.9 1018.9,378.6 1024.9,379.2 1030.9,379.9 1036.9,380.5 1042.9,381.2 1048.9,381.8 1054.9,382.4 1060.9,383.0 1066.9,383.6 1072.9,384.2 1078.9,384.8 1084.9,385.3 1090.9,385.9 1096.9,386.4 1102.9,387.0 1108.9,387.5 1114.9,388.0 1120.9,388.6 1126.9,389.1 1132.9,389.6 1138.9,390.1 1144.9,390.6 1150.9,391.1 1156.9,391.6 1162.9,392.0 1168.9,392.5 1174.9,393.0 1180.9,393.5 1186.9,393.9 1192.9,394.4 1198.9,394.9 1204.9,395.3 1210.9,395.8 1216.9,396.3 1222.9,396.7 1228.9,397.2 1234.9,397.6 1240.9,398.1 1246.9,398.5 1252.9,399.0 1258.9,399.4 1264.9,399.8 1270.9,400.3 1276.9,400.7 1282.9,401.1 1288.9,401.6 1294.9,402.0 1300.9,402.4 1306.9,402.8 1312.9,403.2 1318.9,403.6 1324.9,404.0 1330.9,404.4 1336.9,404.9 1342.9,405.3 1348.9,405.7 1354.9,406.1 1360.9,406.5 1366.9,406.9 1372.9,407.3 1378.9,407.7 1384.9,408.1 1390.9,408.5 1396.9,409.0 1402.9,409.4 1408.9,409.8 1414.9,410.3 1420.9,410.7 1426.9,411.1 1432.9,411.6 1438.9,412.0 1444.9,412.5 1450.9,412.9 1456.9,413.4 1462.9,413.8 1468.9,414.2 1474.9,414.6 1480.9,415.1 1486.9,415.5 1492.9,415.8 1498.9,416.2 1504.9,416.6 1510.9,417.0 1516.9,417.3 1522.9,417.7 1528.9,418.0 1534.9,418.3 1540.9,418.7 1546.9,419.0 1552.9,419.3 1558.9,419.6 1564.9,419.9 1570.9,420.2 1576.9,420.6 1582.9,420.9 1588.9,421.2 1594.9,421.5 1600.9,421.9 1606.9,422.2 1612.9,422.5 1618.9,422.9 1624.9,423.2 1630.9,423.6 1636.9,423.9 1642.9,424.3 1648.9,424.6 1654.9,425.0 1660.9,425.3 1666.9,425.7 1672.9,426.0 1678.9,426.4 1684.9,426.7 1690.9,427.1 1696.9,427.4 1702.9,427.8 1708.9,428.1 1714.9,428.4 1720.9,428.7 1726.9,429.0 1732.9,429.3 1738.9,429.6 1744.9,429.9 1750.9,430.2 1756.9,430.5 1762.9,430.7 1768.9,431.0 1774.9,431.2 1780.9,431.4 1786.9,431.6 1792.9,431.8 1798.9,432.0 1804.9,432.2 1810.9,432.4 1816.9,432.6 1822.9,432.7 1828.9,432.9 1834.9,433.0 1840.9,433.1 1846.9,433.2 1852.9,433.3 1858.9,433.4 1864.9,433.5 1870.9,433.5 1876.9,433.5 1882.9,433.6 1888.9,433.6 1894.9,433.7 1900.9,433.7 1906.9,433.7 1912.9,433.8 1918.9,433.8 1924.9,433.8 1930.9,433.9 1936.9,433.9 1942.9,433.9 1948.9,434.0 1954.9,434.0 1960.9,434.0 1966.9,434.1 1972.9,434.1 1978.9,434.1 1984.9,434.1 1990.9,434.2 1996.9,434.2 2002.9,434.2 2008.9,434.2 2014.9,434.2 2020.9,434.3 2026.9,434.3 2032.9,434.3 2038.9,434.3 2044.9,434.4 2050.9,434.4 2056.9,434.4 2062.9,434.4 2068.9,434.4 2074.9,434.4 2080.9,434.4 2086.9,434.4 2092.9,434.4 2098.9,434.4 2104.9,434.4 2110.9,434.4 2116.9,434.4 2122.9,434.3 2128.9,434.3 2134.9,434.3 2140.9,434.3 2146.9,434.2 2152.9,434.2 2158.9,434.2 2164.9,434.3 2170.9,434.3 2176.9,434.3 2182.9,434.3 2188.9,434.3 2194.9,434.3 2200.9,434.4 2206.9,434.4 2212.9,434.4 2218.9,434.4 2224.9,434.4 2230.9,434.5 2236.9,434.5 2242.9,434.5 2248.9,434.5 2254.9,434.6 2260.9,434.6 2266.9,434.6 2272.9,434.6 2278.9,434.6 2284.9,434.7 2290.9,434.7 2296.9,434.7 2302.9,434.7 2308.9,434.7 2314.9,434.8 2320.9,434.8 2326.9,434.8 2332.9,434.8 2338.9,434.8 2344.9,434.8 2350.9,434.9 2356.9,434.9 2362.9,434.9 2368.9,434.9" stroke="#FF00FF"/>
<polyline points="172.9,393.8 178.9,393.9 184.9,393.9 190.9,394.0 196.9,394.1 202.9,394.1 208.9,394.2 214.9,394.3 220.9,394.3 226.9,394.4 232.9,394.4 238.9,394.5 244.9,394.6 250.9,394.6 256.9,394.7 262.9,394.8 268.9,394.8 274.9,394.9 280.9,394.9 286.9,395.0 292.9,395.1 298.9,395.1 304.9,395.2 310.9,395.2 316.9,395.3 322.9,395.3 328.9,395.4 334.9,395.4 340.9,395.5 346.9,395.6 352.9,395.6 358.9,395.7 364.9,395.7 370.9,395.8 376.9,395.8 382.9,395.9 388.9,395.9 394.9,396.0 400.9,396.0 406.9,396.1 412.9,396.1 418.9,396.1 424.9,396.2 430.9,396.2 436.9,396.2 442.9,396.2 448.9,396.2 454.9,396.3 460.9,396.3 466.9,396.4 472.9,396.4 478.9,396.5 484.9,396.5 490.9,396.6 496.9,396.6 502.9,396.7 508.9,396.7 514.9,396.8 520.9,396.9 526.9,396.9 532.9,397.0 538.9,397.0 544.9,397.1 550.9,397.2 556.9,397.2 562.9,397.3 568.9,397.3 574.9,397.4 580.9,397.5 586.9,397.5 592.9,397.6 598.9,397.6 604.9,397.7 610.9,397.8 616.9,397.8 622.9,397.9 628.9,398.0 634.9,398.0 640.9,398.1 646.9,398.2 652.9,398.2 658.9,398.3 664.9,398.4 670.9,398.4 676.9,398.5 682.9,398.6 688.9,398.7 694.9,398.7 700.9,398.8 706.9,398.9 712.9,399.0 718.9,399.0 724.9,399.1 730.9,399.2 736.9,399.3 742.9,399.4 748.9,399.5 754.9,399.6 760.9,399.6 766.9,399.7 772.9,399.8 778.9,399.9 784.9,400.0 790.9,400.1 796.9,400.2 802.9,400.3 808.9,400.4 814.9,400.5 820.9,400.6 826.9,400.7 832.9,400.9 838.9,401.0 844.9,401.1 850.9,401.3 856.9,401.5 862.9,401.8 868.9,402.2 874.9,402.5 880.9,402.9 886.9,403.2 892.9,403.5 898.9,403.7 904.9,403.9 910.9,404.0 916.9,404.2 922.9,404.3 928.9,404.4 934.9,404.5 940.9,404.6 946.9,404.7 952.9,404.8 958.9,404.9 964.9,405.0 970.9,405.1 976.9,405.2 982.9,405.2 988.9,405.3 994.9,405.3 1000.9,405.3 1006.9,405.3 1012.9,405.3 1018.9,405.2 1024.9,405.2 1030.9,405.1 1036.9,405.0 1042.9,404.8 1048.9,404.7 1054.9,404.5 1060.9,404.2 1066.9,403.9 1072.9,403.6 1078.9,403.3 1084.9,402.9 1090.9,402.4 1096.9,401.9 1102.9,401.4 1108.9,400.8 1114.9,400.2 1120.9,399.5 1126.9,398.7 1132.9,397.9 1138.9,397.1 1144.9,396.1 1150.9,395.1 1156.9,394.0 1162.9,392.7 1168.9,391.4 1174.9,390.0 1180.9,388.4 1186.9,386.7 1192.9,384.9 1198.9,382.9 1204.9,380.8 1210.9,378.5 1216.9,376.1 1222.9,373.5 1228.9,370.7 1234.9,367.7 1240.9,364.6 1246.9,361.4 1252.9,357.9 1258.9,354.3 1264.9,350.4 1270.9,346.4 1276.9,342.3 1282.9,337.9 1288.9,333.4 1294.9,328.7 1300.9,323.8 1306.9,318.8 1312.9,313.6 1318.9,308.2 1324.9,302.7 1330.9,297.1 1336.9,291.3 1342.9,285.4 1348.9,279.4 1354.9,273.3 1360.9,267.1 1366.9,260.8 1372.9,254.5 1378.9,248.1 1384.9,241.7 1390.9,235.3 1396.9,228.9 1402.9,222.6 1408.9,216.3 1414.9,210.0 1420.9,203.9 1426.9,197.9 1432.9,192.0 1438.9,186.3 1444.9,180.7 1450.9,175.3 1456.9,170.1 1462.9,165.2 1468.9,160.5 1474.9,156.0 1480.9,151.8 1486.9,147.9 1492.9,144.3 1498.9,140.9 1504.9,137.9 1510.9,135.2 1516.9,132.8 1522.9,130.8 1528.9,129.0 1534.9,127.6 1540.9,126.6 1546.9,125.9 1552.9,125.5 1558.9,125.4 1564.9,125.7 1570.9,126.4 1576.9,127.4 1582.9,128.8 1588.9,130.5 1594.9,132.6 1600.9,135.1 1606.9,137.9 1612.9,141.0 1618.9,144.5 1624.9,148.3 1630.9,152.4 1636.9,156.8 1642.9,161.5 1648.9,166.5 1654.9,171.8 1660.9,177.4 1666.9,183.1 1672.9,189.1 1678.9,195.3 1684.9,201.7 1690.9,208.2 1696.9,214.9 1702.9,221.6 1708.9,228.5 1714.9,235.4 1720.9,242.3 1726.9,249.3 1732.9,256.2 1738.9,263.2 1744.9,270.0 1750.9,276.8 1756.9,283.6 1762.9,290.2 1768.9,296.7 1774.9,303.1 1780.9,309.3 1786.9,315.5 1792.9,321.4 1798.9,327.2 1804.9,332.9 1810.9,338.3 1816.9,343.6 1822.9,348.8 1828.9,353.7 1834.9,358.5 1840.9,363.1 1846.9,367.5 1852.9,371.7 1858.9,375.7 1864.9,379.5 1870.9,383.2 1876.9,386.7 1882.9,390.0 1888.9,393.1 1894.9,396.1 1900.9,398.9 1906.9,401.6 1912.9,404.1 1918.9,406.5 1924.9,408.7 1930.9,410.8 1936.9,412.7 1942.9,414.5 1948.9,416.2 1954.9,417.8 1960.9,419.3 1966.9,420.7 1972.9,422.0 1978.9,423.2 1984.9,424.3 1990.9,425.3 1996.9,426.2 2002.9,427.1 2008.9,427.9 2014.9,428.7 2020.9,429.4 2026.9,430.0 2032.9,430.6 2038.9,431.1 2044.9,431.6 2050.9,432.1 2056.9,432.5 2062.9,432.9 2068.9,433.2 2074.9,433.5 2080.9,433.8 2086.9,434.1 2092.9,434.3 2098.9,434.5 2104.9,434.7 2110.9,434.9 2116.9,435.1 2122.9,435.2 2128.9,435.3 2134.9,435.5 2140.9,435.6 2146.9,435.7 2152.9,435.7 2158.9,435.8 2164.9,435.9 2170.9,436.0 2176.9,436.0 2182.9,436.1 2188.9,436.1 2194.9,436.1 2200.9,436.2 2206.9,436.2 2212.9,436.2 2218.9,436.3 2224.9,436.3 2230.9,436.3 2236.9,436.3 2242.9,436.3 2248.9,436.3 2254.9,436.3 2260.9,436.3 2266.9,436.3 2272.9,436.3 2278.9,436.3 2284.9,436.4 2290.9,436.4 2296.9,436.4 2302.9,436.4 2308.9,436.4 2314.9,436.4 2320.9,436.4 2326.9,436.4 2332.9,436.4 2338.9,436.5 2344.9,436.5 2350.9,436.5 2356.9,436.5 2362.9,436.5 2368.9,436.5" stroke="#000080"/>
<polyline points="172.9,393.7 178.9,393.8 184.9,393.9 190.9,393.9 196.9,394.0 202.9,394.0 208.9,394.1 214.9,394.2 220.9,394.2 226.9,394.3 232.9,394.3 238.9,394.4 244.9,394.4 250.9,394.5 256.9,394.5 262.9,394.6 268.9,394.7 274.9,394.7 280.9,394.8 286.9,394.8 292.9,394.9 298.9,394.9 304.9,395.0 310.9,395.0 316.9,395.1 322.9,395.1 328.9,395.2 334.9,395.2 340.9,395.3 346.9,395.3 352.9,395.4 358.9,395.4 364.9,395.5 370.9,395.5 376.9,395.6 382.9,395.7 388.9,395.7 394.9,395.8 400.9,395.8 406.9,395.9 412.9,395.9 418.9,396.0 424.9,396.0 430.9,396.1 436.9,396.1 442.9,396.2 448.9,396.2 454.9,396.3 460.9,396.3 466.9,396.4 472.9,396.5 478.9,396.5 484.9,396.6 490.9,396.6 496.9,396.7 502.9,396.7 508.9,396.8 514.9,396.8 520.9,396.9 526.9,397.0 532.9,397.0 538.9,397.1 544.9,397.1 550.9,397.2 556.9,397.3 562.9,397.3 568.9,397.4 574.9,397.5 580.9,397.5 586.9,397.6 592.9,397.7 598.9,397.7 604.9,397.8 610.9,397.9 616.9,397.9 622.9,398.0 628.9,398.1 634.9,398.1 640.9,398.2 646.9,398.3 652.9,398.4 658.9,398.4 664.9,398.5 670.9,398.6 676.9,398.7 682.9,398.7 688.9,398.8 694.9,398.9 700.9,399.0 706.9,399.1 712.9,399.1 718.9,399.2 724.9,399.3 730.9,399.4 736.9,399.5 742.9,399.6 748.9,399.7 754.9,399.8 760.9,399.9 766.9,400.0 772.9,400.1 778.9,400.2 784.9,400.3 790.9,400.4 796.9,400.5 802.9,400.6 808.9,400.7 814.9,400.8 820.9,400.9 826.9,401.0 832.9,401.1 838.9,401.2 844.9,401.3 850.9,401.4 856.9,401.6 862.9,401.7 868.9,401.8 874.9,401.9 880.9,402.0 886.9,402.2 892.9,402.3 898.9,402.4 904.9,402.5 910.9,402.7 916.9,402.8 922.9,402.9 928.9,403.1 934.9,403.2 940.9,403.4 946.9,403.5 952.9,403.6 958.9,403.8 964.9,403.9 970.9,404.1 976.9,404.2 982.9,404.4 988.9,404.6 994.9,404.7 1000.9,404.9 1006.9,405.0 1012.9,405.2 1018.9,405.4 1024.9,405.5 1030.9,405.7 1036.9,405.9 1042.9,406.0 1048.9,406.2 1054.9,406.4 1060.9,406.6 1066.9,406.7 1072.9,406.9 1078.9,407.1 1084.9,407.3 1090.9,407.5 1096.9,407.7 1102.9,407.9 1108.9,408.0 1114.9,408.2 1120.9,408.4 1126.9,408.6 1132.9,408.8 1138.9,409.0 1144.9,409.2 1150.9,409.4 1156.9,409.6 1162.9,409.8 1168.9,410.0 1174.9,410.2 1180.9,410.4 1186.9,410.6 1192.9,410.8 1198.9,411.0 1204.9,411.2 1210.9,411.4 1216.9,411.6 1222.9,411.8 1228.9,412.1 1234.9,412.3 1240.9,412.5 1246.9,412.7 1252.9,412.9 1258.9,413.1 1264.9,413.3 1270.9,413.5 1276.9,413.7 1282.9,414.0 1288.9,414.2 1294.9,414.4 1300.9,414.6 1306.9,414.8 1312.9,415.0 1318.9,415.2 1324.9,415.4 1330.9,415.7 1336.9,415.9 1342.9,416.1 1348.9,416.3 1354.9,416.5 1360.9,416.7 1366.9,416.9 1372.9,417.2 1378.9,417.4 1384.9,417.6 1390.9,417.8 1396.9,418.0 1402.9,418.2 1408.9,418.4 1414.9,418.6 1420.9,418.8 1426.9,419.1 1432.9,419.3 1438.9,419.5 1444.9,419.7 1450.9,419.9 1456.9,420.1 1462.9,420.3 1468.9,420.5 1474.9,420.7 1480.9,420.9 1486.9,421.1 1492.9,421.3 1498.9,421.5 1504.9,421.7 1510.9,421.9 1516.9,422.1 1522.9,422.3 1528.9,422.5 1534.9,422.7 1540.9,422.9 1546.9,423.1 1552.9,423.3 1558.9,423.5 1564.9,423.7 1570.9,423.8 1576.9,424.0 1582.9,424.2 1588.9,424.4 1594.9,424.6 1600.9,424.8 1606.9,424.9 1612.9,425.1 1618.9,425.3 1624.9,425.4 1630.9,425.6 1636.9,425.8 1642.9,426.0 1648.9,426.1 1654.9,426.3 1660.9,426.4 1666.9,426.6 1672.9,426.8 1678.9,426.9 1684.9,427.1 1690.9,427.2 1696.9,427.4 1702.9,427.5 1708.9,427.7 1714.9,427.8 1720.9,427.9 1726.9,428.1 1732.9,428.2 1738.9,428.3 1744.9,428.5 1750.9,428.6 1756.9,428.7 1762.9,428.8 1768.9,429.0 1774.9,429.1 1780.9,429.2 1786.9,429.3 1792.9,429.4 1798.9,429.5 1804.9,429.6 1810.9,429.7 1816.9,429.8 1822.9,429.9 1828.9,430.0 1834.9,430.1 1840.9,430.2 1846.9,430.2 1852.9,430.3 1858.9,430.4 1864.9,430.5 1870.9,430.5 1876.9,430.6 1882.9,430.6 1888.9,430.7 1894.9,430.8 1900.9,430.8 1906.9,430.8 1912.9,430.9 1918.9,430.9 1924.9,431.0 1930.9,431.0 1936.9,431.0 1942.9,431.0 1948.9,431.1 1954.9,431.1 1960.9,431.1 1966.9,431.1 1972.9,431.1 1978.9,431.1 1984.9,431.1 1990.9,431.1 1996.9,431.1 2002.9,431.1 2008.9,431.1 2014.9,431.0 2020.9,431.0 2026.9,431.0 2032.9,431.0 2038.9,431.0 2044.9,430.9 2050.9,430.9 2056.9,430.9 2062.9,430.9 2068.9,430.9 2074.9,430.9 2080.9,430.9 2086.9,430.9 2092.9,430.9 2098.9,430.9 2104.9,431.0 2110.9,431.0 2116.9,431.0 2122.9,431.1 2128.9,431.1 2134.9,431.2 2140.9,431.3 2146.9,431.4 2152.9,431.5 2158.9,431.6 2164.9,431.7 2170.9,431.8 2176.9,432.0 2182.9,432.1 2188.9,432.3 2194.9,432.5 2200.9,432.7 2206.9,432.9 2212.9,433.2 2218.9,433.4 2224.9,433.7 2230.9,433.9 2236.9,434.2 2242.9,434.4 2248.9,434.7 2254.9,434.9 2260.9,435.1 2266.9,435.3 2272.9,435.5 2278.9,435.7 2284.9,435.9 2290.9,436.0 2296.9,436.1 2302.9,436.2 2308.9,436.2 2314.9,436.2 2320.9,436.2 2326.9,436.1 2332.9,436.0 2338.9,435.8 2344.9,435.6 2350.9,435.4 2356.9,435.0 2362.9,434.6 2368.9,434.2" stroke="#8000FF"/>
<polyline points="136.0,844.3 142.0,844.4 148.0,844.4 154.0,844.4 160.0,844.5 166.0,844.5 172.0,844.6 178.0,844.6 184.0,844.7 190.0,844.7 196.0,844.8 202.0,844.8 208.0,844.8 214.0,844.9 220.0,844.9 226.0,845.0 232.0,845.0 238.0,845.1 244.0,845.2 250.0,845.2 256.0,845.3 262.0,845.3 268.0,845.4 274.0,845.4 280.0,845.5 286.0,845.5 292.0,845.6 298.0,845.6 304.0,845.7 310.0,845.8 316.0,845.8 322.0,845.9 328.0,845.9 334.0,846.0 340.0,846.1 346.0,846.1 352.0,846.2 358.0,846.3 364.0,846.3 370.0,846.4 376.0,846.5 382.0,846.5 388.0,846.6 394.0,846.7 400.0,846.7 406.0,846.8 412.0,846.9 418.0,847.0 424.0,847.0 430.0,847.1 436.0,847.2 442.0,847.3 448.0,847.3 454.0,847.4 460.0,847.5 466.0,847.6 472.0,847.7 478.0,847.8 484.0,847.8 490.0,847.9 496.0,848.0 502.0,848.1 508.0,848.2 514.0,848.3 520.0,848.4 526.0,848.5 532.0,848.6 538.0,848.7 544.0,848.8 550.0,848.9 556.0,849.0 562.0,849.1 568.0,849.2 574.0,849.3 580.0,849.4 586.0,849.5 592.0,849.6 598.0,849.8 604.0,849.9 610.0,850.0 616.0,850.1 622.0,850.2 628.0,850.4 634.0,850.5 640.0,850.6 646.0,850.7 652.0,850.9 658.0,851.0 664.0,851.1 670.0,851.2 676.0,851.4 682.0,851.5 688.0,851.6 694.0,851.8 700.0,851.9 706.0,852.1 712.0,852.2 718.0,852.3 724.0,852.5 730.0,852.6 736.0,852.8 742.0,852.9 748.0,853.1 754.0,853.3 760.0,853.4 766.0,853.6 772.0,853.7 778.0,853.9 784.0,854.1 790.0,854.3 796.0,854.4 802.0,854.6 808.0,854.8 814.0,855.0 820.0,855.2 826.0,855.3 832.0,855.5 838.0,855.7 844.0,855.9 850.0,856.1 856.0,856.3 862.0,856.5 868.0,856.7 874.0,856.9 880.0,857.2 886.0,857.4 892.0,857.6 898.0,857.8 904.0,858.0 910.0,858.3 916.0,858.5 922.0,858.7 928.0,859.0 934.0,859.2 940.0,859.5 946.0,859.7 952.0,859.9 958.0,860.2 964.0,860.5 970.0,860.7 976.0,861.0 982.0,861.2 988.0,861.5 994.0,861.8 1000.0,862.0 1006.0,862.3 1012.0,862.6 1018.0,862.8 1024.0,863.1 1030.0,863.4 1036.0,863.7 1042.0,864.0 1048.0,864.3 1054.0,864.5 1060.0,864.8 1066.0,865.1 1072.0,865.4 1078.0,865.7 1084.0,866.0 1090.0,866.3 1096.0,866.6 1102.0,866.9 1108.0,867.2 1114.0,867.6 1120.0,867.9 1126.0,868.2 1132.0,868.5 1138.0,868.9 1144.0,869.2 1150.0,869.5 1156.0,869.9 1162.0,870.2 1168.0,870.6 1174.0,871.0 1180.0,871.3 1186.0,871.7 1192.0,872.1 1198.0,872.4 1204.0,872.8 1210.0,873.2 1216.0,873.6 1222.0,874.0 1228.0,874.4 1234.0,874.7 1240.0,875.1 1246.0,875.5 1252.0,875.9 1258.0,876.3 1264.0,876.7 1270.0,877.1 1276.0,877.5 1282.0,877.9 1288.0,878.3 1294.0,878.7 1300.0,879.2 1306.0,879.6 1312.0,880.0 1318.0,880.4 1324.0,880.8 1330.0,881.2 1336.0,881.7 1342.0,882.1 1348.0,882.6 1354.0,883.0 1360.0,883.5 1366.0,883.9 1372.0,884.4 1378.0,884.8 1384.0,885.3 1390.0,885.8 1396.0,886.2 1402.0,886.7 1408.0,887.2 1414.0,887.6 1420.0,888.1 1426.0,888.6 1432.0,889.0 1438.0,889.5 1444.0,890.0 1450.0,890.5 1456.0,890.9 1462.0,891.4 1468.0,891.9 1474.0,892.4 1480.0,892.8 1486.0,893.3 1492.0,893.8 1498.0,894.3 1504.0,894.7 1510.0,895.2 1516.0,895.7 1522.0,896.1 1528.0,896.6 1534.0,897.0 1540.0,897.5 1546.0,897.9 1552.0,898.4 1558.0,898.8 1564.0,899.2 1570.0,899.7 1576.0,900.2 1582.0,900.6 1588.0,901.1 1594.0,901.6 1600.0,902.1 1606.0,902.7 1612.0,903.2 1618.0,903.7 1624.0,904.2 1630.0,904.8 1636.0,905.3 1642.0,905.9 1648.0,906.4 1654.0,907.0 1660.0,907.5 1666.0,908.1 1672.0,908.7 1678.0,909.2 1684.0,909.8 1690.0,910.3 1696.0,910.8 1702.0,911.4 1708.0,911.9 1714.0,912.4 1720.0,912.9 1726.0,913.4 1732.0,913.9 1738.0,914.4 1744.0,914.9 1750.0,915.3 1756.0,915.8 1762.0,916.2 1768.0,916.6 1774.0,917.0 1780.0,917.4 1786.0,917.8 1792.0,918.1 1798.0,918.4 1804.0,918.7 1810.0,919.0 1816.0,919.3 1822.0,919.5 1828.0,919.7 1834.0,919.9 1840.0,920.1 1846.0,920.2 1852.0,920.3 1858.0,920.4 1864.0,920.5 1870.0,920.5 1876.0,920.5 1882.0,920.5 1888.0,920.5 1894.0,920.5 1900.0,920.5 1906.0,920.5 1912.0,920.5 1918.0,920.5 1924.0,920.5 1930.0,920.6 1936.0,920.6 1942.0,920.6 1948.0,920.6 1954.0,920.6 1960.0,920.6 1966.0,920.6 1972.0,920.6 1978.0,920.6 1984.0,920.6 1990.0,920.6 1996.0,920.6 2002.0,920.6 2008.0,920.6 2014.0,920.6 2020.0,920.6 2026.0,920.6 2032.0,920.6 2038.0,920.6 2044.0,920.6 2050.0,920.6 2056.0,920.6 2062.0,920.6 2068.0,920.6 2074.0,920.6 2080.0,920.6 2086.0,920.6 2092.0,920.6 2098.0,920.6 2104.0,920.6 2110.0,920.6 2116.0,920.6 2122.0,920.7 2128.0,920.7 2134.0,920.7 2140.0,920.7 2146.0,920.7 2152.0,920.7 2158.0,920.7 2164.0,920.7 2170.0,920.7 2176.0,920.7 2182.0,920.7 2188.0,920.7 2194.0,920.7 2200.0,920.7 2206.0,920.7 2212.0,920.7 2218.0,920.7 2224.0,920.7 2230.0,920.7 2236.0,920.7 2242.0,920.7 2248.0,920.7 2254.0,920.7 2260.0,920.7 2266.0,920.7 2272.0,920.7 2278.0,920.7 2284.0,920.8 2290.0,920.8 2296.0,920.8 2302.0,920.8 2308.0,920.8 2314.0,920.8 2320.0,920.8 2326.0,920.8 2332.0,920.8 2338.0,920.8 2344.0,920.8 2350.0,920.8 2356.0,920.8 2362.0,920.8 2368.0,920.8" stroke="#0000FF"/>
<polyline points="136.0,843.2 142.0,843.2 148.0,843.2 154.0,843.2 160.0,843.2 166.0,843.2 172.0,843.2 178.0,843.2 184.0,843.1 190.0,843.1 196.0,843.1 202.0,843.1 208.0,843.0 214.0,843.0 220.0,843.0 226.0,842.9 232.0,842.9 238.0,842.8 244.0,842.7 250.0,842.7 256.0,842.6 262.0,842.5 268.0,842.4 274.0,842.3 280.0,842.2 286.0,842.1 292.0,841.9 298.0,841.8 304.0,841.7 310.0,841.5 316.0,841.3 322.0,841.2 328.0,841.0 334.0,840.8 340.0,840.5 346.0,840.3 352.0,840.1 358.0,839.8 364.0,839.5 370.0,839.2 376.0,838.9 382.0,838.6 388.0,838.2 394.0,837.9 400.0,837.5 406.0,837.1 412.0,836.7 418.0,836.2 424.0,835.8 430.0,835.3 436.0,834.8 442.0,834.3 448.0,833.8 454.0,833.2 460.0,832.6 466.0,832.0 472.0,831.4 478.0,830.7 484.0,830.1 490.0,829.4 496.0,828.6 502.0,827.9 508.0,827.1 514.0,826.3 520.0,825.5 526.0,824.7 532.0,823.8 538.0,822.9 544.0,822.0 550.0,821.0 556.0,820.0 562.0,819.0 568.0,818.0 574.0,816.9 580.0,815.8 586.0,814.7 592.0,813.5 598.0,812.3 604.0,811.1 610.0,809.8 616.0,808.6 622.0,807.3 628.0,805.9 634.0,804.6 640.0,803.2 646.0,801.8 652.0,800.4 658.0,798.9 664.0,797.5 670.0,796.0 676.0,794.5 682.0,793.0 688.0,791.4 694.0,789.9 700.0,788.3 706.0,786.8 712.0,785.2 718.0,783.6 724.0,782.1 730.0,780.5 736.0,778.9 742.0,777.3 748.0,775.7 754.0,774.2 760.0,772.6 766.0,771.0 772.0,769.5 778.0,768.0 784.0,766.5 790.0,765.0 796.0,763.5 802.0,762.1 808.0,760.6 814.0,759.3 820.0,757.9 826.0,756.6 832.0,755.3 838.0,754.0 844.0,752.8 850.0,751.6 856.0,750.4 862.0,749.3 868.0,748.2 874.0,747.2 880.0,746.3 886.0,745.3 892.0,744.5 898.0,743.7 904.0,742.9 910.0,742.2 916.0,741.5 922.0,741.0 928.0,740.4 934.0,740.0 940.0,739.6 946.0,739.2 952.0,739.0 958.0,738.8 964.0,738.6 970.0,738.6 976.0,738.6 982.0,738.7 988.0,738.8 994.0,739.0 1000.0,739.3 1006.0,739.7 1012.0,740.1 1018.0,740.6 1024.0,741.2 1030.0,741.9 1036.0,742.6 1042.0,743.4 1048.0,744.3 1054.0,745.2 1060.0,746.2 1066.0,747.3 1072.0,748.4 1078.0,749.6 1084.0,750.9 1090.0,752.3 1096.0,753.7 1102.0,755.1 1108.0,756.6 1114.0,758.2 1120.0,759.8 1126.0,761.5 1132.0,763.2 1138.0,765.0 1144.0,766.8 1150.0,768.7 1156.0,770.6 1162.0,772.5 1168.0,774.5 1174.0,776.4 1180.0,778.5 1186.0,780.5 1192.0,782.6 1198.0,784.6 1204.0,786.7 1210.0,788.8 1216.0,790.9 1222.0,793.1 1228.0,795.2 1234.0,797.3 1240.0,799.5 1246.0,801.6 1252.0,803.7 1258.0,805.8 1264.0,808.0 1270.0,810.1 1276.0,812.2 1282.0,814.3 1288.0,816.4 1294.0,818.4 1300.0,820.5 1306.0,822.5 1312.0,824.5 1318.0,826.5 1324.0,828.5 1330.0,830.5 1336.0,832.5 1342.0,834.4 1348.0,836.3 1354.0,838.2 1360.0,840.1 1366.0,841.9 1372.0,843.8 1378.0,845.6 1384.0,847.4 1390.0,849.1 1396.0,850.9 1402.0,852.6 1408.0,854.3 1414.0,856.0 1420.0,857.7 1426.0,859.3 1432.0,861.0 1438.0,862.6 1444.0,864.2 1450.0,865.8 1456.0,867.3 1462.0,868.9 1468.0,870.4 1474.0,871.9 1480.0,873.3 1486.0,874.8 1492.0,876.2 1498.0,877.6 1504.0,878.9 1510.0,880.3 1516.0,881.6 1522.0,882.9 1528.0,884.1 1534.0,885.3 1540.0,886.5 1546.0,887.6 1552.0,888.8 1558.0,889.8 1564.0,890.9 1570.0,891.9 1576.0,892.9 1582.0,893.9 1588.0,894.9 1594.0,895.9 1600.0,896.8 1606.0,897.8 1612.0,898.7 1618.0,899.6 1624.0,900.5 1630.0,901.4 1636.0,902.2 1642.0,903.0 1648.0,903.9 1654.0,904.7 1660.0,905.4 1666.0,906.2 1672.0,906.9 1678.0,907.7 1684.0,908.4 1690.0,909.1 1696.0,909.7 1702.0,910.4 1708.0,911.0 1714.0,911.6 1720.0,912.2 1726.0,912.8 1732.0,913.4 1738.0,913.9 1744.0,914.4 1750.0,914.9 1756.0,915.4 1762.0,915.9 1768.0,916.3 1774.0,916.7 1780.0,917.1 1786.0,917.5 1792.0,917.9 1798.0,918.2 1804.0,918.5 1810.0,918.8 1816.0,919.1 1822.0,919.3 1828.0,919.6 1834.0,919.8 1840.0,919.9 1846.0,920.1 1852.0,920.2 1858.0,920.3 1864.0,920.3 1870.0,920.4 1876.0,920.4 1882.0,920.4 1888.0,920.4 1894.0,920.4 1900.0,920.4 1906.0,920.5 1912.0,920.5 1918.0,920.5 1924.0,920.5 1930.0,920.5 1936.0,920.5 1942.0,920.5 1948.0,920.5 1954.0,920.5 1960.0,920.5 1966.0,920.6 1972.0,920.6 1978.0,920.6 1984.0,920.6 1990.0,920.6 1996.0,920.6 2002.0,920.6 2008.0,920.6 2014.0,920.6 2020.0,920.6 2026.0,920.6 2032.0,920.6 2038.0,920.6 2044.0,920.6 2050.0,920.6 2056.0,920.6 2062.0,920.6 2068.0,920.6 2074.0,920.6 2080.0,920.6 2086.0,920.6 2092.0,920.6 2098.0,920.6 2104.0,920.5 2110.0,920.5 2116.0,920.4 2122.0,920.4 2128.0,920.3 2134.0,920.2 2140.0,920.2 2146.0,920.2 2152.0,920.1 2158.0,920.1 2164.0,920.1 2170.0,920.1 2176.0,920.1 2182.0,920.1 2188.0,920.1 2194.0,920.1 2200.0,920.1 2206.0,920.1 2212.0,920.1 2218.0,920.1 2224.0,920.1 2230.0,920.1 2236.0,920.1 2242.0,920.2 2248.0,920.2 2254.0,920.2 2260.0,920.2 2266.0,920.2 2272.0,920.2 2278.0,920.2 2284.0,920.2 2290.0,920.2 2296.0,920.2 2302.0,920.2 2308.0,920.2 2314.0,920.2 2320.0,920.2 2326.0,920.3 2332.0,920.3 2338.0,920.3 2344.0,920.3 2350.0,920.3 2356.0,920.3 2362.0,920.3 2368.0,920.3" stroke="#008000"/>
<polyline points="136.0,830.2 142.0,830.1 148.0,829.9 154.0,829.7 160.0,829.5 166.0,829.3 172.0,829.2 178.0,829.0 184.0,828.8 190.0,828.6 196.0,828.4 202.0,828.3 208.0,828.1 214.0,828.0 220.0,827.9 226.0,827.8 232.0,827.8 238.0,827.7 244.0,827.7 250.0,827.6 256.0,827.5 262.0,827.3 268.0,827.1 274.0,826.8 280.0,826.5 286.0,826.1 292.0,825.7 298.0,825.3 304.0,824.8 310.0,824.2 316.0,823.7 322.0,823.1 328.0,822.5 334.0,821.8 340.0,821.1 346.0,820.4 352.0,819.6 358.0,818.8 364.0,818.0 370.0,817.1 376.0,816.2 382.0,815.2 388.0,814.2 394.0,813.1 400.0,812.0 406.0,810.8 412.0,809.6 418.0,808.3 424.0,807.0 430.0,805.6 436.0,804.3 442.0,803.0 448.0,801.6 454.0,800.3 460.0,799.0 466.0,797.6 472.0,796.3 478.0,794.9 484.0,793.6 490.0,792.2 496.0,790.8 502.0,789.4 508.0,788.0 514.0,786.5 520.0,785.1 526.0,783.6 532.0,782.2 538.0,780.7 544.0,779.2 550.0,777.6 556.0,776.1 562.0,774.5 568.0,773.0 574.0,771.4 580.0,769.8 586.0,768.2 592.0,766.6 598.0,765.0 604.0,763.4 610.0,761.8 616.0,760.2 622.0,758.5 628.0,756.9 634.0,755.3 640.0,753.7 646.0,752.1 652.0,750.5 658.0,749.0 664.0,747.4 670.0,745.9 676.0,744.4 682.0,742.9 688.0,741.5 694.0,740.1 700.0,738.7 706.0,737.3 712.0,736.0 718.0,734.7 724.0,733.5 730.0,732.2 736.0,731.0 742.0,729.8 748.0,728.7 754.0,727.6 760.0,726.5 766.0,725.5 772.0,724.5 778.0,723.5 784.0,722.5 790.0,721.6 796.0,720.7 802.0,719.9 808.0,719.0 814.0,718.2 820.0,717.4 826.0,716.7 832.0,716.0 838.0,715.3 844.0,714.7 850.0,714.1 856.0,713.5 862.0,713.0 868.0,712.5 874.0,712.1 880.0,711.7 886.0,711.4 892.0,711.1 898.0,710.9 904.0,710.7 910.0,710.6 916.0,710.5 922.0,710.5 928.0,710.5 934.0,710.6 940.0,710.7 946.0,710.8 952.0,711.1 958.0,711.3 964.0,711.6 970.0,712.0 976.0,712.4 982.0,712.8 988.0,713.3 994.0,713.8 1000.0,714.4 1006.0,714.9 1012.0,715.6 1018.0,716.2 1024.0,716.9 1030.0,717.6 1036.0,718.4 1042.0,719.1 1048.0,719.9 1054.0,720.7 1060.0,721.4 1066.0,722.2 1072.0,723.0 1078.0,723.8 1084.0,724.5 1090.0,725.3 1096.0,725.9 1102.0,726.6 1108.0,727.2 1114.0,727.7 1120.0,728.2 1126.0,728.6 1132.0,728.9 1138.0,729.1 1144.0,729.3 1150.0,729.3 1156.0,729.3 1162.0,729.1 1168.0,728.8 1174.0,728.4 1180.0,727.9 1186.0,727.2 1192.0,726.5 1198.0,725.6 1204.0,724.5 1210.0,723.4 1216.0,722.1 1222.0,720.6 1228.0,719.0 1234.0,717.3 1240.0,715.5 1246.0,713.5 1252.0,711.3 1258.0,709.1 1264.0,706.6 1270.0,704.0 1276.0,701.3 1282.0,698.4 1288.0,695.4 1294.0,692.2 1300.0,688.9 1306.0,685.5 1312.0,681.9 1318.0,678.2 1324.0,674.3 1330.0,670.3 1336.0,666.2 1342.0,662.0 1348.0,657.6 1354.0,653.1 1360.0,648.5 1366.0,643.9 1372.0,639.1 1378.0,634.2 1384.0,629.2 1390.0,624.2 1396.0,619.2 1402.0,614.1 1408.0,609.1 1414.0,604.1 1420.0,599.1 1426.0,594.3 1432.0,589.6 1438.0,585.1 1444.0,580.8 1450.0,576.7 1456.0,572.8 1462.0,569.2 1468.0,565.8 1474.0,562.8 1480.0,560.0 1486.0,557.6 1492.0,555.6 1498.0,553.9 1504.0,552.6 1510.0,551.6 1516.0,551.1 1522.0,550.9 1528.0,551.2 1534.0,551.8 1540.0,552.9 1546.0,554.4 1552.0,556.3 1558.0,558.6 1564.0,561.3 1570.0,564.5 1576.0,568.0 1582.0,572.0 1588.0,576.3 1594.0,580.9 1600.0,586.0 1606.0,591.3 1612.0,597.0 1618.0,602.9 1624.0,609.1 1630.0,615.5 1636.0,622.1 1642.0,628.9 1648.0,635.8 1654.0,642.9 1660.0,650.1 1666.0,657.3 1672.0,664.6 1678.0,672.0 1684.0,679.4 1690.0,686.7 1696.0,694.1 1702.0,701.5 1708.0,708.8 1714.0,716.1 1720.0,723.3 1726.0,730.5 1732.0,737.6 1738.0,744.7 1744.0,751.7 1750.0,758.6 1756.0,765.4 1762.0,772.2 1768.0,778.8 1774.0,785.3 1780.0,791.6 1786.0,797.9 1792.0,803.9 1798.0,809.8 1804.0,815.5 1810.0,821.0 1816.0,826.4 1822.0,831.5 1828.0,836.4 1834.0,841.1 1840.0,845.6 1846.0,849.9 1852.0,853.9 1858.0,857.7 1864.0,861.3 1870.0,864.7 1876.0,867.9 1882.0,870.9 1888.0,873.8 1894.0,876.4 1900.0,878.9 1906.0,881.3 1912.0,883.5 1918.0,885.5 1924.0,887.4 1930.0,889.1 1936.0,890.8 1942.0,892.3 1948.0,893.7 1954.0,895.0 1960.0,896.3 1966.0,897.4 1972.0,898.5 1978.0,899.5 1984.0,900.5 1990.0,901.4 1996.0,902.3 2002.0,903.2 2008.0,904.0 2014.0,904.7 2020.0,905.5 2026.0,906.2 2032.0,906.9 2038.0,907.5 2044.0,908.1 2050.0,908.7 2056.0,909.3 2062.0,909.8 2068.0,910.3 2074.0,910.7 2080.0,911.2 2086.0,911.5 2092.0,911.9 2098.0,912.2 2104.0,912.5 2110.0,912.8 2116.0,913.1 2122.0,913.3 2128.0,913.6 2134.0,913.8 2140.0,914.0 2146.0,914.2 2152.0,914.3 2158.0,914.5 2164.0,914.7 2170.0,914.8 2176.0,914.9 2182.0,915.1 2188.0,915.2 2194.0,915.3 2200.0,915.4 2206.0,915.5 2212.0,915.5 2218.0,915.6 2224.0,915.6 2230.0,915.6 2236.0,915.5 2242.0,915.5 2248.0,915.5 2254.0,915.5 2260.0,915.5 2266.0,915.5 2272.0,915.5 2278.0,915.6 2284.0,915.6 2290.0,915.7 2296.0,915.8 2302.0,915.8 2308.0,915.9 2314.0,916.0 2320.0,916.0 2326.0,916.1 2332.0,916.2 2338.0,916.2 2344.0,916.3 2350.0,916.4 2356.0,916.4 2362.0,916.5 2368.0,916.5" stroke="#FF0000"/>
<polyline points="136.0,831.2 142.0,831.1 148.0,830.9 154.0,830.7 160.0,830.5 166.0,830.4 172.0,830.2 178.0,830.0 184.0,829.8 190.0,829.6 196.0,829.3 202.0,829.1 208.0,828.9 214.0,828.7 220.0,828.4 226.0,828.2 232.0,827.9 238.0,827.6 244.0,827.4 250.0,827.1 256.0,826.8 262.0,826.5 268.0,826.2 274.0,825.9 280.0,825.6 286.0,825.3 292.0,825.0 298.0,824.7 304.0,824.4 310.0,824.1 316.0,823.7 322.0,823.4 328.0,823.0 334.0,822.7 340.0,822.3 346.0,821.9 352.0,821.6 358.0,821.2 364.0,820.8 370.0,820.4 376.0,820.0 382.0,819.6 388.0,819.2 394.0,818.8 400.0,818.3 406.0,817.9 412.0,817.5 418.0,817.0 424.0,816.5 430.0,816.1 436.0,815.6 442.0,815.1 448.0,814.6 454.0,814.1 460.0,813.5 466.0,813.0 472.0,812.5 478.0,811.9 484.0,811.4 490.0,810.8 496.0,810.2 502.0,809.7 508.0,809.1 514.0,808.6 520.0,808.0 526.0,807.4 532.0,806.9 538.0,806.3 544.0,805.8 550.0,805.3 556.0,804.8 562.0,804.3 568.0,803.8 574.0,803.4 580.0,803.0 586.0,802.6 592.0,802.2 598.0,801.9 604.0,801.6 610.0,801.3 616.0,801.1 622.0,800.9 628.0,800.8 634.0,800.7 640.0,800.6 646.0,800.6 652.0,800.6 658.0,800.7 664.0,800.8 670.0,801.0 676.0,801.2 682.0,801.4 688.0,801.7 694.0,802.1 700.0,802.5 706.0,802.9 712.0,803.3 718.0,803.8 724.0,804.4 730.0,804.9 736.0,805.6 742.0,806.2 748.0,806.9 754.0,807.6 760.0,808.3 766.0,809.0 772.0,809.8 778.0,810.6 784.0,811.4 790.0,812.2 796.0,813.0 802.0,813.8 808.0,814.7 814.0,815.5 820.0,816.4 826.0,817.3 832.0,818.2 838.0,819.0 844.0,819.9 850.0,820.8 856.0,821.7 862.0,822.6 868.0,823.5 874.0,824.3 880.0,825.2 886.0,826.1 892.0,827.0 898.0,827.8 904.0,828.7 910.0,829.5 916.0,830.4 922.0,831.2 928.0,832.0 934.0,832.8 940.0,833.7 946.0,834.4 952.0,835.2 958.0,836.0 964.0,836.8 970.0,837.5 976.0,838.3 982.0,839.0 988.0,839.7 994.0,840.4 1000.0,841.1 1006.0,841.8 1012.0,842.5 1018.0,843.2 1024.0,843.8 1030.0,844.5 1036.0,845.1 1042.0,845.7 1048.0,846.4 1054.0,847.0 1060.0,847.6 1066.0,848.2 1072.0,848.8 1078.0,849.3 1084.0,849.9 1090.0,850.5 1096.0,851.0 1102.0,851.6 1108.0,852.1 1114.0,852.6 1120.0,853.2 1126.0,853.7 1132.0,854.2 1138.0,854.8 1144.0,855.3 1150.0,855.8 1156.0,856.4 1162.0,856.9 1168.0,857.4 1174.0,857.9 1180.0,858.4 1186.0,859.0 1192.0,859.5 1198.0,860.0 1204.0,860.5 1210.0,861.0 1216.0,861.6 1222.0,862.1 1228.0,862.6 1234.0,863.1 1240.0,863.7 1246.0,864.2 1252.0,864.7 1258.0,865.2 1264.0,865.7 1270.0,866.3 1276.0,866.8 1282.0,867.3 1288.0,867.8 1294.0,868.4 1300.0,868.9 1306.0,869.4 1312.0,870.0 1318.0,870.5 1324.0,871.0 1330.0,871.6 1336.0,872.1 1342.0,872.7 1348.0,873.3 1354.0,873.8 1360.0,874.4 1366.0,875.0 1372.0,875.6 1378.0,876.2 1384.0,876.8 1390.0,877.4 1396.0,878.1 1402.0,878.7 1408.0,879.4 1414.0,880.0 1420.0,880.7 1426.0,881.4 1432.0,882.1 1438.0,882.8 1444.0,883.6 1450.0,884.3 1456.0,885.0 1462.0,885.7 1468.0,886.4 1474.0,887.0 1480.0,887.7 1486.0,888.4 1492.0,889.0 1498.0,889.6 1504.0,890.2 1510.0,890.8 1516.0,891.4 1522.0,892.0 1528.0,892.5 1534.0,893.1 1540.0,893.6 1546.0,894.1 1552.0,894.6 1558.0,895.1 1564.0,895.7 1570.0,896.2 1576.0,896.7 1582.0,897.2 1588.0,897.8 1594.0,898.3 1600.0,898.9 1606.0,899.4 1612.0,900.0 1618.0,900.5 1624.0,901.1 1630.0,901.6 1636.0,902.2 1642.0,902.7 1648.0,903.3 1654.0,903.8 1660.0,904.4 1666.0,904.9 1672.0,905.4 1678.0,905.9 1684.0,906.4 1690.0,906.9 1696.0,907.3 1702.0,907.8 1708.0,908.3 1714.0,908.8 1720.0,909.2 1726.0,909.7 1732.0,910.2 1738.0,910.6 1744.0,911.1 1750.0,911.5 1756.0,912.0 1762.0,912.4 1768.0,912.8 1774.0,913.3 1780.0,913.6 1786.0,914.0 1792.0,914.4 1798.0,914.7 1804.0,915.1 1810.0,915.4 1816.0,915.7 1822.0,915.9 1828.0,916.1 1834.0,916.4 1840.0,916.5 1846.0,916.7 1852.0,916.8 1858.0,916.9 1864.0,917.0 1870.0,917.1 1876.0,917.1 1882.0,917.1 1888.0,917.1 1894.0,917.2 1900.0,917.2 1906.0,917.2 1912.0,917.3 1918.0,917.3 1924.0,917.3 1930.0,917.3 1936.0,917.3 1942.0,917.4 1948.0,917.4 1954.0,917.4 1960.0,917.4 1966.0,917.5 1972.0,917.5 1978.0,917.5 1984.0,917.5 1990.0,917.5 1996.0,917.6 2002.0,917.6 2008.0,917.6 2014.0,917.6 2020.0,917.6 2026.0,917.7 2032.0,917.7 2038.0,917.7 2044.0,917.7 2050.0,917.7 2056.0,917.7 2062.0,917.8 2068.0,917.8 2074.0,917.8 2080.0,917.8 2086.0,917.8 2092.0,917.8 2098.0,917.8 2104.0,917.8 2110.0,917.8 2116.0,917.8 2122.0,917.8 2128.0,917.8 2134.0,917.8 2140.0,917.8 2146.0,917.8 2152.0,917.8 2158.0,917.8 2164.0,917.8 2170.0,917.8 2176.0,917.8 2182.0,917.9 2188.0,917.9 2194.0,917.9 2200.0,917.9 2206.0,917.9 2212.0,918.0 2218.0,918.0 2224.0,918.0 2230.0,918.0 2236.0,918.0 2242.0,918.0 2248.0,918.1 2254.0,918.1 2260.0,918.1 2266.0,918.1 2272.0,918.1 2278.0,918.2 2284.0,918.2 2290.0,918.2 2296.0,918.2 2302.0,918.2 2308.0,918.2 2314.0,918.3 2320.0,918.3 2326.0,918.3 2332.0,918.3 2338.0,918.3 2344.0,918.3 2350.0,918.4 2356.0,918.4 2362.0,918.4 2368.0,918.4" stroke="#FF00FF"/>
<polyline points="136.0,843.7 142.0,843.7 148.0,843.8 154.0,843.8 160.0,843.9 166.0,843.9 172.0,843.9 178.0,844.0 184.0,844.0 190.0,844.1 196.0,844.1 202.0,844.2 208.0,844.2 214.0,844.2 220.0,844.3 226.0,844.3 232.0,844.4 238.0,844.4 244.0,844.5 250.0,844.5 256.0,844.6 262.0,844.6 268.0,844.7 274.0,844.8 280.0,844.8 286.0,844.9 292.0,844.9 298.0,845.0 304.0,845.0 310.0,845.1 316.0,845.1 322.0,845.2 328.0,845.3 334.0,845.3 340.0,845.4 346.0,845.4 352.0,845.5 358.0,845.6 364.0,845.6 370.0,845.7 376.0,845.8 382.0,845.8 388.0,845.9 394.0,846.0 400.0,846.1 406.0,846.2 412.0,846.4 418.0,846.7 424.0,846.9 430.0,847.1 436.0,847.2 442.0,847.3 448.0,847.4 454.0,847.5 460.0,847.6 466.0,847.7 472.0,847.7 478.0,847.8 484.0,847.9 490.0,848.0 496.0,848.1 502.0,848.2 508.0,848.3 514.0,848.3 520.0,848.4 526.0,848.5 532.0,848.6 538.0,848.7 544.0,848.8 550.0,848.9 556.0,849.0 562.0,849.1 568.0,849.2 574.0,849.3 580.0,849.4 586.0,849.6 592.0,849.7 598.0,849.8 604.0,849.9 610.0,850.0 616.0,850.1 622.0,850.2 628.0,850.4 634.0,850.5 640.0,850.6 646.0,850.7 652.0,850.9 658.0,851.0 664.0,851.1 670.0,851.2 676.0,851.4 682.0,851.5 688.0,851.6 694.0,851.8 700.0,851.9 706.0,852.0 712.0,852.2 718.0,852.3 724.0,852.5 730.0,852.6 736.0,852.8 742.0,852.9 748.0,853.1 754.0,853.2 760.0,853.4 766.0,853.5 772.0,853.7 778.0,853.8 784.0,854.0 790.0,854.2 796.0,854.4 802.0,854.5 808.0,854.7 814.0,854.9 820.0,855.1 826.0,855.2 832.0,855.4 838.0,855.6 844.0,855.9 850.0,856.1 856.0,856.4 862.0,856.7 868.0,857.1 874.0,857.6 880.0,858.0 886.0,858.4 892.0,858.8 898.0,859.1 904.0,859.3 910.0,859.5 916.0,859.7 922.0,859.9 928.0,860.1 934.0,860.3 940.0,860.4 946.0,860.6 952.0,860.7 958.0,860.9 964.0,861.0 970.0,861.1 976.0,861.2 982.0,861.3 988.0,861.4 994.0,861.4 1000.0,861.4 1006.0,861.4 1012.0,861.4 1018.0,861.4 1024.0,861.3 1030.0,861.2 1036.0,861.0 1042.0,860.9 1048.0,860.6 1054.0,860.3 1060.0,860.0 1066.0,859.6 1072.0,859.2 1078.0,858.7 1084.0,858.1 1090.0,857.4 1096.0,856.7 1102.0,855.9 1108.0,854.9 1114.0,853.9 1120.0,852.8 1126.0,851.6 1132.0,850.2 1138.0,848.8 1144.0,847.2 1150.0,845.5 1156.0,843.7 1162.0,841.7 1168.0,839.6 1174.0,837.4 1180.0,835.0 1186.0,832.5 1192.0,829.9 1198.0,827.1 1204.0,824.2 1210.0,821.1 1216.0,817.8 1222.0,814.4 1228.0,810.9 1234.0,807.1 1240.0,803.2 1246.0,799.2 1252.0,794.9 1258.0,790.5 1264.0,785.9 1270.0,781.1 1276.0,776.2 1282.0,771.1 1288.0,765.9 1294.0,760.4 1300.0,754.9 1306.0,749.2 1312.0,743.3 1318.0,737.4 1324.0,731.3 1330.0,725.1 1336.0,718.9 1342.0,712.5 1348.0,706.1 1354.0,699.7 1360.0,693.2 1366.0,686.8 1372.0,680.3 1378.0,673.8 1384.0,667.4 1390.0,661.1 1396.0,654.8 1402.0,648.6 1408.0,642.6 1414.0,636.7 1420.0,630.9 1426.0,625.3 1432.0,619.9 1438.0,614.8 1444.0,609.9 1450.0,605.2 1456.0,600.8 1462.0,596.7 1468.0,592.9 1474.0,589.4 1480.0,586.3 1486.0,583.5 1492.0,581.1 1498.0,579.0 1504.0,577.3 1510.0,576.0 1516.0,575.1 1522.0,574.6 1528.0,574.5 1534.0,574.7 1540.0,575.4 1546.0,576.5 1552.0,578.0 1558.0,579.8 1564.0,582.0 1570.0,584.7 1576.0,587.6 1582.0,591.0 1588.0,594.7 1594.0,598.8 1600.0,603.2 1606.0,607.9 1612.0,612.9 1618.0,618.2 1624.0,623.8 1630.0,629.6 1636.0,635.6 1642.0,641.9 1648.0,648.4 1654.0,655.1 1660.0,661.9 1666.0,668.9 1672.0,676.1 1678.0,683.3 1684.0,690.7 1690.0,698.1 1696.0,705.6 1702.0,713.1 1708.0,720.7 1714.0,728.2 1720.0,735.7 1726.0,743.1 1732.0,750.5 1738.0,757.7 1744.0,764.9 1750.0,772.0 1756.0,778.9 1762.0,785.6 1768.0,792.2 1774.0,798.6 1780.0,804.9 1786.0,810.9 1792.0,816.8 1798.0,822.5 1804.0,828.0 1810.0,833.3 1816.0,838.3 1822.0,843.2 1828.0,847.9 1834.0,852.4 1840.0,856.6 1846.0,860.7 1852.0,864.5 1858.0,868.2 1864.0,871.6 1870.0,874.9 1876.0,878.0 1882.0,880.9 1888.0,883.6 1894.0,886.2 1900.0,888.7 1906.0,891.0 1912.0,893.2 1918.0,895.2 1924.0,897.1 1930.0,898.9 1936.0,900.6 1942.0,902.1 1948.0,903.6 1954.0,904.9 1960.0,906.2 1966.0,907.4 1972.0,908.4 1978.0,909.4 1984.0,910.4 1990.0,911.2 1996.0,912.0 2002.0,912.7 2008.0,913.4 2014.0,914.0 2020.0,914.6 2026.0,915.2 2032.0,915.6 2038.0,916.1 2044.0,916.5 2050.0,916.9 2056.0,917.2 2062.0,917.5 2068.0,917.8 2074.0,918.1 2080.0,918.3 2086.0,918.5 2092.0,918.7 2098.0,918.9 2104.0,919.0 2110.0,919.2 2116.0,919.3 2122.0,919.4 2128.0,919.5 2134.0,919.6 2140.0,919.6 2146.0,919.7 2152.0,919.8 2158.0,919.8 2164.0,919.9 2170.0,919.9 2176.0,919.9 2182.0,920.0 2188.0,920.0 2194.0,920.0 2200.0,920.0 2206.0,920.0 2212.0,920.0 2218.0,920.0 2224.0,920.0 2230.0,920.0 2236.0,919.9 2242.0,919.9 2248.0,919.9 2254.0,919.8 2260.0,919.8 2266.0,919.8 2272.0,919.8 2278.0,919.8 2284.0,919.8 2290.0,919.8 2296.0,919.8 2302.0,919.8 2308.0,919.8 2314.0,919.8 2320.0,919.8 2326.0,919.8 2332.0,919.8 2338.0,919.8 2344.0,919.8 2350.0,919.8 2356.0,919.8 2362.0,919.8 2368.0,919.8" stroke="#000080"/>
<polyline points="136.0,843.6 142.0,843.7 148.0,843.7 154.0,843.8 160.0,843.9 166.0,843.9 172.0,844.0 178.0,844.1 184.0,844.1 190.0,844.2 196.0,844.3 202.0,844.3 208.0,844.4 214.0,844.5 220.0,844.5 226.0,844.6 232.0,844.7 238.0,844.7 244.0,844.8 250.0,844.8 256.0,844.9 262.0,845.0 268.0,845.0 274.0,845.1 280.0,845.2 286.0,845.2 292.0,845.3 298.0,845.4 304.0,845.4 310.0,845.5 316.0,845.6 322.0,845.6 328.0,845.7 334.0,845.8 340.0,845.8 346.0,845.9 352.0,846.0 358.0,846.0 364.0,846.1 370.0,846.2 376.0,846.2 382.0,846.3 388.0,846.4 394.0,846.5 400.0,846.5 406.0,846.6 412.0,846.7 418.0,846.7 424.0,846.8 430.0,846.9 436.0,847.0 442.0,847.0 448.0,847.1 454.0,847.2 460.0,847.3 466.0,847.4 472.0,847.4 478.0,847.5 484.0,847.6 490.0,847.7 496.0,847.8 502.0,847.9 508.0,848.0 514.0,848.0 520.0,848.1 526.0,848.2 532.0,848.3 538.0,848.4 544.0,848.5 550.0,848.6 556.0,848.7 562.0,848.8 568.0,848.9 574.0,849.0 580.0,849.1 586.0,849.2 592.0,849.3 598.0,849.4 604.0,849.5 610.0,849.6 616.0,849.7 622.0,849.8 628.0,849.9 634.0,850.1 640.0,850.2 646.0,850.3 652.0,850.4 658.0,850.5 664.0,850.7 670.0,850.8 676.0,850.9 682.0,851.0 688.0,851.2 694.0,851.3 700.0,851.4 706.0,851.6 712.0,851.7 718.0,851.8 724.0,852.0 730.0,852.1 736.0,852.3 742.0,852.4 748.0,852.6 754.0,852.7 760.0,852.9 766.0,853.0 772.0,853.2 778.0,853.3 784.0,853.5 790.0,853.6 796.0,853.8 802.0,854.0 808.0,854.1 814.0,854.3 820.0,854.5 826.0,854.7 832.0,854.8 838.0,855.0 844.0,855.2 850.0,855.4 856.0,855.6 862.0,855.8 868.0,855.9 874.0,856.1 880.0,856.3 886.0,856.5 892.0,856.7 898.0,856.9 904.0,857.2 910.0,857.4 916.0,857.6 922.0,857.8 928.0,858.0 934.0,858.2 940.0,858.4 946.0,858.7 952.0,858.9 958.0,859.1 964.0,859.4 970.0,859.6 976.0,859.8 982.0,860.1 988.0,860.3 994.0,860.6 1000.0,860.8 1006.0,861.1 1012.0,861.3 1018.0,861.6 1024.0,861.9 1030.0,862.1 1036.0,862.4 1042.0,862.7 1048.0,863.0 1054.0,863.2 1060.0,863.5 1066.0,863.8 1072.0,864.1 1078.0,864.4 1084.0,864.7 1090.0,865.0 1096.0,865.3 1102.0,865.6 1108.0,865.9 1114.0,866.2 1120.0,866.5 1126.0,866.8 1132.0,867.2 1138.0,867.5 1144.0,867.8 1150.0,868.1 1156.0,868.5 1162.0,868.8 1168.0,869.2 1174.0,869.5 1180.0,869.9 1186.0,870.2 1192.0,870.6 1198.0,870.9 1204.0,871.3 1210.0,871.7 1216.0,872.0 1222.0,872.4 1228.0,872.8 1234.0,873.2 1240.0,873.6 1246.0,874.0 1252.0,874.4 1258.0,874.8 1264.0,875.2 1270.0,875.6 1276.0,876.0 1282.0,876.4 1288.0,876.8 1294.0,877.3 1300.0,877.7 1306.0,878.1 1312.0,878.6 1318.0,879.0 1324.0,879.4 1330.0,879.9 1336.0,880.3 1342.0,880.8 1348.0,881.2 1354.0,881.7 1360.0,882.1 1366.0,882.6 1372.0,883.0 1378.0,883.5 1384.0,884.0 1390.0,884.4 1396.0,884.9 1402.0,885.4 1408.0,885.8 1414.0,886.3 1420.0,886.8 1426.0,887.2 1432.0,887.7 1438.0,888.2 1444.0,888.6 1450.0,889.1 1456.0,889.6 1462.0,890.0 1468.0,890.5 1474.0,891.0 1480.0,891.4 1486.0,891.9 1492.0,892.4 1498.0,892.8 1504.0,893.3 1510.0,893.8 1516.0,894.2 1522.0,894.7 1528.0,895.1 1534.0,895.6 1540.0,896.0 1546.0,896.5 1552.0,896.9 1558.0,897.4 1564.0,897.8 1570.0,898.3 1576.0,898.7 1582.0,899.1 1588.0,899.6 1594.0,900.0 1600.0,900.4 1606.0,900.8 1612.0,901.3 1618.0,901.7 1624.0,902.1 1630.0,902.5 1636.0,902.9 1642.0,903.3 1648.0,903.7 1654.0,904.0 1660.0,904.4 1666.0,904.8 1672.0,905.2 1678.0,905.5 1684.0,905.9 1690.0,906.3 1696.0,906.6 1702.0,906.9 1708.0,907.3 1714.0,907.6 1720.0,907.9 1726.0,908.3 1732.0,908.6 1738.0,908.9 1744.0,909.2 1750.0,909.5 1756.0,909.7 1762.0,910.0 1768.0,910.3 1774.0,910.5 1780.0,910.8 1786.0,911.0 1792.0,911.3 1798.0,911.5 1804.0,911.7 1810.0,911.9 1816.0,912.1 1822.0,912.3 1828.0,912.5 1834.0,912.7 1840.0,912.9 1846.0,913.0 1852.0,913.2 1858.0,913.3 1864.0,913.5 1870.0,913.6 1876.0,913.7 1882.0,913.8 1888.0,913.9 1894.0,914.0 1900.0,914.1 1906.0,914.2 1912.0,914.3 1918.0,914.3 1924.0,914.4 1930.0,914.5 1936.0,914.5 1942.0,914.6 1948.0,914.6 1954.0,914.6 1960.0,914.7 1966.0,914.7 1972.0,914.7 1978.0,914.8 1984.0,914.8 1990.0,914.8 1996.0,914.8 2002.0,914.8 2008.0,914.8 2014.0,914.9 2020.0,914.9 2026.0,914.9 2032.0,914.9 2038.0,914.9 2044.0,914.9 2050.0,914.9 2056.0,914.9 2062.0,914.9 2068.0,914.9 2074.0,914.9 2080.0,914.9 2086.0,915.0 2092.0,915.0 2098.0,915.0 2104.0,915.0 2110.0,915.0 2116.0,915.1 2122.0,915.1 2128.0,915.1 2134.0,915.1 2140.0,915.2 2146.0,915.2 2152.0,915.3 2158.0,915.3 2164.0,915.4 2170.0,915.4 2176.0,915.5 2182.0,915.5 2188.0,915.6 2194.0,915.7 2200.0,915.7 2206.0,915.8 2212.0,915.9 2218.0,915.9 2224.0,916.0 2230.0,916.1 2236.0,916.2 2242.0,916.3 2248.0,916.3 2254.0,916.4 2260.0,916.5 2266.0,916.6 2272.0,916.6 2278.0,916.7 2284.0,916.8 2290.0,916.9 2296.0,917.0 2302.0,917.0 2308.0,917.1 2314.0,917.2 2320.0,917.3 2326.0,917.3 2332.0,917.4 2338.0,917.5 2344.0,917.5 2350.0,917.6 2356.0,917.7 2362.0,917.7 2368.0,917.8" stroke="#8000FF"/>
<polyline points="147.4,1325.5 153.4,1325.5 159.4,1325.6 165.4,1325.6 171.4,1325.6 177.4,1325.6 183.4,1325.6 189.4,1325.7 195.4,1325.7 201.4,1325.7 207.4,1325.7 213.4,1325.8 219.4,1325.8 225.4,1325.8 231.4,1325.9 237.4,1325.9 243.4,1325.9 249.4,1326.0 255.4,1326.0 261.4,1326.0 267.4,1326.1 273.4,1326.1 279.4,1326.1 285.4,1326.2 291.4,1326.2 297.4,1326.3 303.4,1326.3 309.4,1326.3 315.4,1326.4 321.4,1326.4 327.4,1326.5 333.4,1326.5 339.4,1326.6 345.4,1326.6 351.4,1326.7 357.4,1326.8 363.4,1326.8 369.4,1326.9 375.4,1326.9 381.4,1327.0 387.4,1327.1 393.4,1327.2 399.4,1327.2 405.4,1327.3 411.4,1327.4 417.4,1327.4 423.4,1327.5 429.4,1327.6 435.4,1327.7 441.4,1327.8 447.4,1327.8 453.4,1327.9 459.4,1328.0 465.4,1328.1 471.4,1328.2 477.4,1328.2 483.4,1328.3 489.4,1328.4 495.4,1328.5 501.4,1328.6 507.4,1328.7 513.4,1328.7 519.4,1328.8 525.4,1328.9 531.4,1329.0 537.4,1329.1 543.4,1329.2 549.4,1329.3 555.4,1329.4 561.4,1329.5 567.4,1329.6 573.4,1329.7 579.4,1329.8 585.4,1329.9 591.4,1330.0 597.4,1330.1 603.4,1330.2 609.4,1330.4 615.4,1330.5 621.4,1330.6 627.4,1330.7 633.4,1330.8 639.4,1330.9 645.4,1331.0 651.4,1331.2 657.4,1331.3 663.4,1331.4 669.4,1331.5 675.4,1331.6 681.4,1331.7 687.4,1331.9 693.4,1332.0 699.4,1332.1 705.4,1332.2 711.4,1332.3 717.4,1332.5 723.4,1332.6 729.4,1332.7 735.4,1332.9 741.4,1333.0 747.4,1333.1 753.4,1333.3 759.4,1333.4 765.4,1333.5 771.4,1333.7 777.4,1333.8 783.4,1333.9 789.4,1334.1 795.4,1334.2 801.4,1334.4 807.4,1334.5 813.4,1334.6 819.4,1334.8 825.4,1334.9 831.4,1335.1 837.4,1335.2 843.4,1335.4 849.4,1335.5 855.4,1335.6 861.4,1335.8 867.4,1335.9 873.4,1336.1 879.4,1336.2 885.4,1336.4 891.4,1336.5 897.4,1336.7 903.4,1336.8 909.4,1337.0 915.4,1337.1 921.4,1337.3 927.4,1337.4 933.4,1337.6 939.4,1337.7 945.4,1337.9 951.4,1338.0 957.4,1338.2 963.4,1338.3 969.4,1338.5 975.4,1338.6 981.4,1338.8 987.4,1338.9 993.4,1339.1 999.4,1339.2 1005.4,1339.4 1011.4,1339.5 1017.4,1339.7 1023.4,1339.9 1029.4,1340.0 1035.4,1340.2 1041.4,1340.3 1047.4,1340.5 1053.4,1340.7 1059.4,1340.8 1065.4,1341.0 1071.4,1341.1 1077.4,1341.3 1083.4,1341.5 1089.4,1341.6 1095.4,1341.8 1101.4,1342.0 1107.4,1342.1 1113.4,1342.3 1119.4,1342.5 1125.4,1342.6 1131.4,1342.8 1137.4,1343.0 1143.4,1343.1 1149.4,1343.3 1155.4,1343.5 1161.4,1343.7 1167.4,1343.8 1173.4,1344.0 1179.4,1344.2 1185.4,1344.4 1191.4,1344.5 1197.4,1344.7 1203.4,1344.9 1209.4,1345.1 1215.4,1345.2 1221.4,1345.4 1227.4,1345.6 1233.4,1345.8 1239.4,1346.0 1245.4,1346.1 1251.4,1346.3 1257.4,1346.5 1263.4,1346.7 1269.4,1346.9 1275.4,1347.0 1281.4,1347.2 1287.4,1347.4 1293.4,1347.6 1299.4,1347.8 1305.4,1347.9 1311.4,1348.1 1317.4,1348.3 1323.4,1348.5 1329.4,1348.7 1335.4,1348.8 1341.4,1349.0 1347.4,1349.2 1353.4,1349.4 1359.4,1349.6 1365.4,1349.8 1371.4,1349.9 1377.4,1350.1 1383.4,1350.3 1389.4,1350.5 1395.4,1350.7 1401.4,1350.9 1407.4,1351.1 1413.4,1351.2 1419.4,1351.4 1425.4,1351.6 1431.4,1351.8 1437.4,1352.0 1443.4,1352.2 1449.4,1352.3 1455.4,1352.5 1461.4,1352.7 1467.4,1352.9 1473.4,1353.1 1479.4,1353.3 1485.4,1353.4 1491.4,1353.6 1497.4,1353.8 1503.4,1354.0 1509.4,1354.2 1515.4,1354.3 1521.4,1354.5 1527.4,1354.7 1533.4,1354.9 1539.4,1355.0 1545.4,1355.2 1551.4,1355.4 1557.4,1355.5 1563.4,1355.7 1569.4,1355.9 1575.4,1356.1 1581.4,1356.2 1587.4,1356.4 1593.4,1356.6 1599.4,1356.7 1605.4,1356.9 1611.4,1357.1 1617.4,1357.2 1623.4,1357.4 1629.4,1357.6 1635.4,1357.7 1641.4,1357.9 1647.4,1358.0 1653.4,1358.2 1659.4,1358.4 1665.4,1358.5 1671.4,1358.7 1677.4,1358.9 1683.4,1359.0 1689.4,1359.2 1695.4,1359.3 1701.4,1359.5 1707.4,1359.7 1713.4,1359.8 1719.4,1360.0 1725.4,1360.1 1731.4,1360.3 1737.4,1360.5 1743.4,1360.6 1749.4,1360.8 1755.4,1360.9 1761.4,1361.1 1767.4,1361.2 1773.4,1361.4 1779.4,1361.5 1785.4,1361.7 1791.4,1361.8 1797.4,1362.0 1803.4,1362.1 1809.4,1362.3 1815.4,1362.4 1821.4,1362.6 1827.4,1362.7 1833.4,1362.9 1839.4,1363.0 1845.4,1363.1 1851.4,1363.3 1857.4,1363.4 1863.4,1363.5 1869.4,1363.7 1875.4,1363.8 1881.4,1364.0 1887.4,1364.1 1893.4,1364.2 1899.4,1364.4 1905.4,1364.5 1911.4,1364.7 1917.4,1364.8 1923.4,1365.0 1929.4,1365.1 1935.4,1365.2 1941.4,1365.4 1947.4,1365.5 1953.4,1365.7 1959.4,1365.8 1965.4,1366.0 1971.4,1366.1 1977.4,1366.2 1983.4,1366.4 1989.4,1366.5 1995.4,1366.6 2001.4,1366.8 2007.4,1366.9 2013.4,1367.0 2019.4,1367.1 2025.4,1367.3 2031.4,1367.4 2037.4,1367.5 2043.4,1367.6 2049.4,1367.7 2055.4,1367.8 2061.4,1367.9 2067.4,1368.0 2073.4,1368.1 2079.4,1368.1 2085.4,1368.2 2091.4,1368.3 2097.4,1368.3 2103.4,1368.4 2109.4,1368.5 2115.4,1368.5 2121.4,1368.6 2127.4,1368.6 2133.4,1368.7 2139.4,1368.7 2145.4,1368.8 2151.4,1368.8 2157.4,1368.9 2163.4,1369.0 2169.4,1369.0 2175.4,1369.1 2181.4,1369.1 2187.4,1369.2 2193.4,1369.2 2199.4,1369.3 2205.4,1369.3 2211.4,1369.4 2217.4,1369.4 2223.4,1369.4 2229.4,1369.5 2235.4,1369.5 2241.4,1369.6 2247.4,1369.6 2253.4,1369.6 2259.4,1369.7 2265.4,1369.7 2271.4,1369.7 2277.4,1369.8 2283.4,1369.8 2289.4,1369.8 2295.4,1369.9 2301.4,1369.9 2307.4,1369.9 2313.4,1369.9 2319.4,1369.9 2325.4,1370.0 2331.4,1370.0 2337.4,1370.0 2343.4,1370.0 2349.4,1370.0 2355.4,1370.0 2361.4,1370.0 2367.4,1370.0" stroke="#0000FF"/>
<polyline points="147.4,1314.1 153.4,1314.0 159.4,1314.0 165.4,1313.9 171.4,1313.8 177.4,1313.7 183.4,1313.6 189.4,1313.5 195.4,1313.4 201.4,1313.3 207.4,1313.2 213.4,1313.1 219.4,1313.0 225.4,1312.9 231.4,1312.8 237.4,1312.6 243.4,1312.5 249.4,1312.4 255.4,1312.2 261.4,1312.1 267.4,1312.0 273.4,1311.8 279.4,1311.6 285.4,1311.5 291.4,1311.3 297.4,1311.1 303.4,1310.9 309.4,1310.8 315.4,1310.6 321.4,1310.4 327.4,1310.2 333.4,1309.9 339.4,1309.7 345.4,1309.5 351.4,1309.3 357.4,1309.0 363.4,1308.8 369.4,1308.5 375.4,1308.3 381.4,1308.0 387.4,1307.7 393.4,1307.4 399.4,1307.1 405.4,1306.8 411.4,1306.5 417.4,1306.2 423.4,1305.8 429.4,1305.5 435.4,1305.1 441.4,1304.7 447.4,1304.3 453.4,1303.9 459.4,1303.5 465.4,1303.0 471.4,1302.6 477.4,1302.1 483.4,1301.6 489.4,1301.1 495.4,1300.6 501.4,1300.1 507.4,1299.5 513.4,1298.9 519.4,1298.3 525.4,1297.7 531.4,1297.1 537.4,1296.4 543.4,1295.7 549.4,1295.0 555.4,1294.3 561.4,1293.6 567.4,1292.8 573.4,1292.1 579.4,1291.3 585.4,1290.4 591.4,1289.6 597.4,1288.7 603.4,1287.8 609.4,1286.9 615.4,1286.0 621.4,1285.0 627.4,1284.0 633.4,1283.0 639.4,1281.9 645.4,1280.9 651.4,1279.7 657.4,1278.6 663.4,1277.4 669.4,1276.2 675.4,1275.0 681.4,1273.8 687.4,1272.5 693.4,1271.2 699.4,1269.8 705.4,1268.4 711.4,1267.0 717.4,1265.6 723.4,1264.1 729.4,1262.6 735.4,1261.1 741.4,1259.5 747.4,1258.0 753.4,1256.3 759.4,1254.7 765.4,1253.1 771.4,1251.4 777.4,1249.7 783.4,1247.9 789.4,1246.2 795.4,1244.4 801.4,1242.6 807.4,1240.8 813.4,1239.0 819.4,1237.1 825.4,1235.3 831.4,1233.4 837.4,1231.6 843.4,1229.7 849.4,1227.8 855.4,1226.0 861.4,1224.2 867.4,1222.3 873.4,1220.5 879.4,1218.7 885.4,1217.0 891.4,1215.3 897.4,1213.6 903.4,1212.0 909.4,1210.4 915.4,1208.9 921.4,1207.5 927.4,1206.2 933.4,1204.9 939.4,1203.8 945.4,1202.7 951.4,1201.8 957.4,1200.9 963.4,1200.2 969.4,1199.6 975.4,1199.2 981.4,1198.9 987.4,1198.7 993.4,1198.6 999.4,1198.7 1005.4,1199.0 1011.4,1199.3 1017.4,1199.8 1023.4,1200.5 1029.4,1201.3 1035.4,1202.2 1041.4,1203.2 1047.4,1204.4 1053.4,1205.7 1059.4,1207.1 1065.4,1208.6 1071.4,1210.2 1077.4,1212.0 1083.4,1213.8 1089.4,1215.7 1095.4,1217.6 1101.4,1219.7 1107.4,1221.8 1113.4,1223.9 1119.4,1226.1 1125.4,1228.4 1131.4,1230.7 1137.4,1233.0 1143.4,1235.3 1149.4,1237.7 1155.4,1240.1 1161.4,1242.4 1167.4,1244.8 1173.4,1247.2 1179.4,1249.6 1185.4,1251.9 1191.4,1254.3 1197.4,1256.6 1203.4,1258.9 1209.4,1261.1 1215.4,1263.4 1221.4,1265.6 1227.4,1267.8 1233.4,1270.0 1239.4,1272.1 1245.4,1274.2 1251.4,1276.2 1257.4,1278.2 1263.4,1280.2 1269.4,1282.2 1275.4,1284.1 1281.4,1285.9 1287.4,1287.8 1293.4,1289.5 1299.4,1291.3 1305.4,1293.0 1311.4,1294.7 1317.4,1296.3 1323.4,1297.9 1329.4,1299.5 1335.4,1301.0 1341.4,1302.5 1347.4,1304.0 1353.4,1305.4 1359.4,1306.8 1365.4,1308.2 1371.4,1309.5 1377.4,1310.8 1383.4,1312.1 1389.4,1313.4 1395.4,1314.6 1401.4,1315.8 1407.4,1316.9 1413.4,1318.1 1419.4,1319.2 1425.4,1320.3 1431.4,1321.4 1437.4,1322.4 1443.4,1323.5 1449.4,1324.5 1455.4,1325.4 1461.4,1326.4 1467.4,1327.4 1473.4,1328.3 1479.4,1329.2 1485.4,1330.1 1491.4,1331.0 1497.4,1331.8 1503.4,1332.7 1509.4,1333.5 1515.4,1334.3 1521.4,1335.1 1527.4,1335.9 1533.4,1336.7 1539.4,1337.4 1545.4,1338.1 1551.4,1338.9 1557.4,1339.6 1563.4,1340.3 1569.4,1341.0 1575.4,1341.6 1581.4,1342.3 1587.4,1343.0 1593.4,1343.6 1599.4,1344.2 1605.4,1344.9 1611.4,1345.5 1617.4,1346.1 1623.4,1346.7 1629.4,1347.3 1635.4,1347.8 1641.4,1348.4 1647.4,1349.0 1653.4,1349.5 1659.4,1350.0 1665.4,1350.6 1671.4,1351.1 1677.4,1351.6 1683.4,1352.1 1689.4,1352.6 1695.4,1353.1 1701.4,1353.5 1707.4,1354.0 1713.4,1354.4 1719.4,1354.9 1725.4,1355.3 1731.4,1355.7 1737.4,1356.1 1743.4,1356.5 1749.4,1356.9 1755.4,1357.3 1761.4,1357.6 1767.4,1358.0 1773.4,1358.4 1779.4,1358.7 1785.4,1359.0 1791.4,1359.4 1797.4,1359.7 1803.4,1360.0 1809.4,1360.3 1815.4,1360.6 1821.4,1360.9 1827.4,1361.2 1833.4,1361.5 1839.4,1361.8 1845.4,1362.1 1851.4,1362.4 1857.4,1362.6 1863.4,1362.9 1869.4,1363.1 1875.4,1363.4 1881.4,1363.7 1887.4,1363.9 1893.4,1364.1 1899.4,1364.4 1905.4,1364.6 1911.4,1364.9 1917.4,1365.1 1923.4,1365.3 1929.4,1365.5 1935.4,1365.7 1941.4,1365.9 1947.4,1366.1 1953.4,1366.3 1959.4,1366.5 1965.4,1366.6 1971.4,1366.7 1977.4,1366.9 1983.4,1367.0 1989.4,1367.1 1995.4,1367.2 2001.4,1367.2 2007.4,1367.3 2013.4,1367.3 2019.4,1367.4 2025.4,1367.4 2031.4,1367.4 2037.4,1367.5 2043.4,1367.5 2049.4,1367.5 2055.4,1367.6 2061.4,1367.6 2067.4,1367.7 2073.4,1367.8 2079.4,1367.8 2085.4,1367.9 2091.4,1368.0 2097.4,1368.1 2103.4,1368.1 2109.4,1368.2 2115.4,1368.3 2121.4,1368.4 2127.4,1368.5 2133.4,1368.6 2139.4,1368.7 2145.4,1368.8 2151.4,1368.9 2157.4,1368.9 2163.4,1369.0 2169.4,1369.1 2175.4,1369.2 2181.4,1369.2 2187.4,1369.3 2193.4,1369.3 2199.4,1369.4 2205.4,1369.4 2211.4,1369.4 2217.4,1369.4 2223.4,1369.4 2229.4,1369.4 2235.4,1369.4 2241.4,1369.4 2247.4,1369.3 2253.4,1369.3 2259.4,1369.3 2265.4,1369.3 2271.4,1369.2 2277.4,1369.2 2283.4,1369.2 2289.4,1369.2 2295.4,1369.2 2301.4,1369.2 2307.4,1369.2 2313.4,1369.3 2319.4,1369.3 2325.4,1369.3 2331.4,1369.4 2337.4,1369.4 2343.4,1369.4 2349.4,1369.5 2355.4,1369.5 2361.4,1369.6 2367.4,1369.6" stroke="#008000"/>
<polyline points="147.4,1306.4 153.4,1306.0 159.4,1305.7 165.4,1305.3 171.4,1304.8 177.4,1304.4 183.4,1303.9 189.4,1303.5 195.4,1303.0 201.4,1302.4 207.4,1301.9 213.4,1301.3 219.4,1300.7 225.4,1300.1 231.4,1299.5 237.4,1298.9 243.4,1298.3 249.4,1297.6 255.4,1297.0 261.4,1296.3 267.4,1295.6 273.4,1295.0 279.4,1294.2 285.4,1293.5 291.4,1292.8 297.4,1292.0 303.4,1291.3 309.4,1290.5 315.4,1289.7 321.4,1288.8 327.4,1288.0 333.4,1287.1 339.4,1286.3 345.4,1285.4 351.4,1284.4 357.4,1283.5 363.4,1282.5 369.4,1281.4 375.4,1280.3 381.4,1279.2 387.4,1278.1 393.4,1276.9 399.4,1275.7 405.4,1274.4 411.4,1273.1 417.4,1271.8 423.4,1270.4 429.4,1269.0 435.4,1267.6 441.4,1266.1 447.4,1264.6 453.4,1263.1 459.4,1261.6 465.4,1260.1 471.4,1258.5 477.4,1256.9 483.4,1255.4 489.4,1253.8 495.4,1252.2 501.4,1250.6 507.4,1249.0 513.4,1247.4 519.4,1245.9 525.4,1244.4 531.4,1242.9 537.4,1241.4 543.4,1240.0 549.4,1238.6 555.4,1237.2 561.4,1235.9 567.4,1234.6 573.4,1233.4 579.4,1232.2 585.4,1231.1 591.4,1230.0 597.4,1228.9 603.4,1227.9 609.4,1226.9 615.4,1225.9 621.4,1225.0 627.4,1224.1 633.4,1223.3 639.4,1222.4 645.4,1221.6 651.4,1220.7 657.4,1219.9 663.4,1219.1 669.4,1218.2 675.4,1217.4 681.4,1216.5 687.4,1215.7 693.4,1214.8 699.4,1213.9 705.4,1213.0 711.4,1212.1 717.4,1211.2 723.4,1210.2 729.4,1209.3 735.4,1208.3 741.4,1207.3 747.4,1206.2 753.4,1205.2 759.4,1204.1 765.4,1203.0 771.4,1201.9 777.4,1200.8 783.4,1199.7 789.4,1198.5 795.4,1197.3 801.4,1196.2 807.4,1195.0 813.4,1193.8 819.4,1192.6 825.4,1191.5 831.4,1190.3 837.4,1189.1 843.4,1187.9 849.4,1186.8 855.4,1185.6 861.4,1184.4 867.4,1183.3 873.4,1182.2 879.4,1181.1 885.4,1180.0 891.4,1179.0 897.4,1178.0 903.4,1177.1 909.4,1176.2 915.4,1175.3 921.4,1174.5 927.4,1173.8 933.4,1173.1 939.4,1172.5 945.4,1171.9 951.4,1171.5 957.4,1171.1 963.4,1170.8 969.4,1170.5 975.4,1170.4 981.4,1170.3 987.4,1170.3 993.4,1170.3 999.4,1170.5 1005.4,1170.7 1011.4,1170.9 1017.4,1171.3 1023.4,1171.7 1029.4,1172.2 1035.4,1172.7 1041.4,1173.3 1047.4,1173.9 1053.4,1174.6 1059.4,1175.3 1065.4,1176.0 1071.4,1176.8 1077.4,1177.5 1083.4,1178.3 1089.4,1179.0 1095.4,1179.7 1101.4,1180.4 1107.4,1181.0 1113.4,1181.5 1119.4,1182.0 1125.4,1182.4 1131.4,1182.8 1137.4,1183.0 1143.4,1183.1 1149.4,1183.1 1155.4,1183.0 1161.4,1182.8 1167.4,1182.5 1173.4,1182.0 1179.4,1181.4 1185.4,1180.7 1191.4,1179.8 1197.4,1178.8 1203.4,1177.6 1209.4,1176.3 1215.4,1174.9 1221.4,1173.3 1227.4,1171.6 1233.4,1169.7 1239.4,1167.7 1245.4,1165.5 1251.4,1163.2 1257.4,1160.7 1263.4,1158.1 1269.4,1155.4 1275.4,1152.5 1281.4,1149.5 1287.4,1146.4 1293.4,1143.1 1299.4,1139.8 1305.4,1136.3 1311.4,1132.7 1317.4,1129.0 1323.4,1125.2 1329.4,1121.3 1335.4,1117.3 1341.4,1113.3 1347.4,1109.2 1353.4,1105.1 1359.4,1100.9 1365.4,1096.7 1371.4,1092.4 1377.4,1088.2 1383.4,1083.9 1389.4,1079.7 1395.4,1075.4 1401.4,1071.2 1407.4,1067.1 1413.4,1063.0 1419.4,1059.0 1425.4,1055.0 1431.4,1051.2 1437.4,1047.5 1443.4,1044.0 1449.4,1040.6 1455.4,1037.3 1461.4,1034.3 1467.4,1031.6 1473.4,1029.0 1479.4,1026.8 1485.4,1024.8 1491.4,1023.1 1497.4,1021.7 1503.4,1020.7 1509.4,1020.0 1515.4,1019.6 1521.4,1019.7 1527.4,1020.0 1533.4,1020.8 1539.4,1021.9 1545.4,1023.4 1551.4,1025.2 1557.4,1027.4 1563.4,1029.9 1569.4,1032.8 1575.4,1036.0 1581.4,1039.5 1587.4,1043.2 1593.4,1047.3 1599.4,1051.5 1605.4,1056.0 1611.4,1060.8 1617.4,1065.7 1623.4,1070.8 1629.4,1076.0 1635.4,1081.4 1641.4,1086.9 1647.4,1092.5 1653.4,1098.3 1659.4,1104.1 1665.4,1110.0 1671.4,1116.0 1677.4,1122.0 1683.4,1128.1 1689.4,1134.3 1695.4,1140.5 1701.4,1146.7 1707.4,1153.0 1713.4,1159.3 1719.4,1165.6 1725.4,1171.8 1731.4,1178.1 1737.4,1184.2 1743.4,1190.3 1749.4,1196.3 1755.4,1202.3 1761.4,1208.0 1767.4,1213.7 1773.4,1219.2 1779.4,1224.6 1785.4,1229.8 1791.4,1234.9 1797.4,1239.9 1803.4,1244.6 1809.4,1249.2 1815.4,1253.7 1821.4,1258.0 1827.4,1262.2 1833.4,1266.2 1839.4,1270.1 1845.4,1273.8 1851.4,1277.4 1857.4,1280.9 1863.4,1284.2 1869.4,1287.4 1875.4,1290.5 1881.4,1293.4 1887.4,1296.2 1893.4,1298.9 1899.4,1301.5 1905.4,1303.9 1911.4,1306.3 1917.4,1308.5 1923.4,1310.6 1929.4,1312.6 1935.4,1314.5 1941.4,1316.4 1947.4,1318.1 1953.4,1319.8 1959.4,1321.4 1965.4,1322.9 1971.4,1324.4 1977.4,1325.8 1983.4,1327.2 1989.4,1328.5 1995.4,1329.8 2001.4,1331.0 2007.4,1332.2 2013.4,1333.3 2019.4,1334.4 2025.4,1335.4 2031.4,1336.4 2037.4,1337.4 2043.4,1338.3 2049.4,1339.2 2055.4,1340.1 2061.4,1340.9 2067.4,1341.7 2073.4,1342.4 2079.4,1343.1 2085.4,1343.8 2091.4,1344.4 2097.4,1345.0 2103.4,1345.6 2109.4,1346.2 2115.4,1346.7 2121.4,1347.3 2127.4,1347.8 2133.4,1348.3 2139.4,1348.8 2145.4,1349.3 2151.4,1349.8 2157.4,1350.3 2163.4,1350.8 2169.4,1351.3 2175.4,1351.8 2181.4,1352.3 2187.4,1352.8 2193.4,1353.2 2199.4,1353.7 2205.4,1354.1 2211.4,1354.5 2217.4,1354.9 2223.4,1355.3 2229.4,1355.6 2235.4,1355.9 2241.4,1356.3 2247.4,1356.6 2253.4,1356.9 2259.4,1357.2 2265.4,1357.5 2271.4,1357.8 2277.4,1358.1 2283.4,1358.4 2289.4,1358.6 2295.4,1358.9 2301.4,1359.2 2307.4,1359.4 2313.4,1359.7 2319.4,1360.0 2325.4,1360.2 2331.4,1360.4 2337.4,1360.7 2343.4,1360.9 2349.4,1361.1 2355.4,1361.3 2361.4,1361.4 2367.4,1361.6" stroke="#FF0000"/>
<polyline points="147.4,1319.9 153.4,1319.5 159.4,1319.2 165.4,1318.8 171.4,1318.4 177.4,1318.0 183.4,1317.6 189.4,1317.2 195.4,1316.8 201.4,1316.3 207.4,1315.8 213.4,1315.4 219.4,1314.9 225.4,1314.3 231.4,1313.8 237.4,1313.3 243.4,1312.7 249.4,1312.1 255.4,1311.5 261.4,1310.9 267.4,1310.3 273.4,1309.6 279.4,1309.0 285.4,1308.3 291.4,1307.6 297.4,1306.9 303.4,1306.2 309.4,1305.4 315.4,1304.7 321.4,1303.9 327.4,1303.1 333.4,1302.4 339.4,1301.6 345.4,1300.8 351.4,1300.0 357.4,1299.2 363.4,1298.4 369.4,1297.6 375.4,1296.8 381.4,1296.0 387.4,1295.2 393.4,1294.4 399.4,1293.6 405.4,1292.8 411.4,1292.1 417.4,1291.3 423.4,1290.6 429.4,1289.8 435.4,1289.1 441.4,1288.4 447.4,1287.7 453.4,1287.0 459.4,1286.3 465.4,1285.6 471.4,1285.0 477.4,1284.4 483.4,1283.8 489.4,1283.2 495.4,1282.6 501.4,1282.0 507.4,1281.5 513.4,1281.0 519.4,1280.5 525.4,1280.1 531.4,1279.7 537.4,1279.3 543.4,1278.9 549.4,1278.6 555.4,1278.3 561.4,1278.1 567.4,1277.9 573.4,1277.7 579.4,1277.6 585.4,1277.5 591.4,1277.5 597.4,1277.5 603.4,1277.5 609.4,1277.6 615.4,1277.8 621.4,1278.0 627.4,1278.2 633.4,1278.5 639.4,1278.8 645.4,1279.2 651.4,1279.6 657.4,1280.1 663.4,1280.5 669.4,1281.1 675.4,1281.6 681.4,1282.3 687.4,1282.9 693.4,1283.6 699.4,1284.3 705.4,1285.0 711.4,1285.8 717.4,1286.6 723.4,1287.4 729.4,1288.2 735.4,1289.1 741.4,1289.9 747.4,1290.8 753.4,1291.7 759.4,1292.7 765.4,1293.6 771.4,1294.5 777.4,1295.5 783.4,1296.5 789.4,1297.4 795.4,1298.4 801.4,1299.4 807.4,1300.4 813.4,1301.4 819.4,1302.3 825.4,1303.3 831.4,1304.3 837.4,1305.3 843.4,1306.3 849.4,1307.2 855.4,1308.2 861.4,1309.2 867.4,1310.1 873.4,1311.1 879.4,1312.0 885.4,1313.0 891.4,1313.9 897.4,1314.8 903.4,1315.8 909.4,1316.7 915.4,1317.6 921.4,1318.5 927.4,1319.3 933.4,1320.2 939.4,1321.1 945.4,1321.9 951.4,1322.8 957.4,1323.6 963.4,1324.4 969.4,1325.2 975.4,1326.0 981.4,1326.7 987.4,1327.5 993.4,1328.2 999.4,1329.0 1005.4,1329.7 1011.4,1330.4 1017.4,1331.1 1023.4,1331.7 1029.4,1332.4 1035.4,1333.0 1041.4,1333.6 1047.4,1334.2 1053.4,1334.8 1059.4,1335.4 1065.4,1336.0 1071.4,1336.5 1077.4,1337.0 1083.4,1337.5 1089.4,1338.0 1095.4,1338.4 1101.4,1338.9 1107.4,1339.3 1113.4,1339.7 1119.4,1340.1 1125.4,1340.5 1131.4,1340.8 1137.4,1341.2 1143.4,1341.5 1149.4,1341.8 1155.4,1342.1 1161.4,1342.4 1167.4,1342.7 1173.4,1343.0 1179.4,1343.2 1185.4,1343.5 1191.4,1343.7 1197.4,1344.0 1203.4,1344.2 1209.4,1344.4 1215.4,1344.7 1221.4,1344.9 1227.4,1345.1 1233.4,1345.4 1239.4,1345.6 1245.4,1345.8 1251.4,1346.1 1257.4,1346.3 1263.4,1346.5 1269.4,1346.7 1275.4,1347.0 1281.4,1347.2 1287.4,1347.4 1293.4,1347.7 1299.4,1347.9 1305.4,1348.1 1311.4,1348.4 1317.4,1348.6 1323.4,1348.8 1329.4,1349.1 1335.4,1349.3 1341.4,1349.5 1347.4,1349.8 1353.4,1350.0 1359.4,1350.2 1365.4,1350.5 1371.4,1350.7 1377.4,1351.0 1383.4,1351.2 1389.4,1351.5 1395.4,1351.7 1401.4,1352.0 1407.4,1352.2 1413.4,1352.5 1419.4,1352.8 1425.4,1353.0 1431.4,1353.3 1437.4,1353.6 1443.4,1353.8 1449.4,1354.1 1455.4,1354.4 1461.4,1354.6 1467.4,1354.9 1473.4,1355.1 1479.4,1355.4 1485.4,1355.6 1491.4,1355.9 1497.4,1356.1 1503.4,1356.4 1509.4,1356.6 1515.4,1356.8 1521.4,1357.0 1527.4,1357.3 1533.4,1357.5 1539.4,1357.7 1545.4,1357.9 1551.4,1358.1 1557.4,1358.3 1563.4,1358.6 1569.4,1358.8 1575.4,1359.0 1581.4,1359.2 1587.4,1359.4 1593.4,1359.6 1599.4,1359.9 1605.4,1360.1 1611.4,1360.4 1617.4,1360.6 1623.4,1360.9 1629.4,1361.2 1635.4,1361.5 1641.4,1361.8 1647.4,1362.2 1653.4,1362.5 1659.4,1362.9 1665.4,1363.3 1671.4,1363.8 1677.4,1364.3 1683.4,1364.7 1689.4,1365.2 1695.4,1365.7 1701.4,1366.2 1707.4,1366.7 1713.4,1367.1 1719.4,1367.6 1725.4,1368.0 1731.4,1368.4 1737.4,1368.7 1743.4,1369.1 1749.4,1369.4 1755.4,1369.7 1761.4,1369.9 1767.4,1370.2 1773.4,1370.4 1779.4,1370.6 1785.4,1370.8 1791.4,1371.0 1797.4,1371.2 1803.4,1371.4 1809.4,1371.6 1815.4,1371.7 1821.4,1371.9 1827.4,1372.1 1833.4,1372.2 1839.4,1372.4 1845.4,1372.6 1851.4,1372.7 1857.4,1372.8 1863.4,1373.0 1869.4,1373.1 1875.4,1373.3 1881.4,1373.4 1887.4,1373.6 1893.4,1373.7 1899.4,1373.8 1905.4,1374.0 1911.4,1374.1 1917.4,1374.2 1923.4,1374.4 1929.4,1374.5 1935.4,1374.6 1941.4,1374.7 1947.4,1374.8 1953.4,1374.9 1959.4,1374.9 1965.4,1375.0 1971.4,1375.0 1977.4,1375.1 1983.4,1375.1 1989.4,1375.1 1995.4,1375.1 2001.4,1375.1 2007.4,1375.0 2013.4,1375.0 2019.4,1374.9 2025.4,1374.9 2031.4,1374.8 2037.4,1374.8 2043.4,1374.7 2049.4,1374.7 2055.4,1374.6 2061.4,1374.6 2067.4,1374.6 2073.4,1374.5 2079.4,1374.5 2085.4,1374.5 2091.4,1374.5 2097.4,1374.5 2103.4,1374.5 2109.4,1374.6 2115.4,1374.6 2121.4,1374.6 2127.4,1374.6 2133.4,1374.7 2139.4,1374.7 2145.4,1374.8 2151.4,1374.8 2157.4,1374.9 2163.4,1374.9 2169.4,1374.9 2175.4,1375.0 2181.4,1375.0 2187.4,1375.0 2193.4,1375.1 2199.4,1375.1 2205.4,1375.1 2211.4,1375.1 2217.4,1375.2 2223.4,1375.2 2229.4,1375.2 2235.4,1375.2 2241.4,1375.2 2247.4,1375.2 2253.4,1375.2 2259.4,1375.2 2265.4,1375.2 2271.4,1375.2 2277.4,1375.2 2283.4,1375.2 2289.4,1375.2 2295.4,1375.2 2301.4,1375.2 2307.4,1375.2 2313.4,1375.2 2319.4,1375.3 2325.4,1375.3 2331.4,1375.3 2337.4,1375.3 2343.4,1375.3 2349.4,1375.3 2355.4,1375.3 2361.4,1375.3 2367.4,1375.3" stroke="#FF00FF"/>
<polyline points="147.4,1322.9 153.4,1322.9 159.4,1322.9 165.4,1322.9 171.4,1323.0 177.4,1323.0 183.4,1323.0 189.4,1323.0 195.4,1323.0 201.4,1323.1 207.4,1323.1 213.4,1323.1 219.4,1323.1 225.4,1323.1 231.4,1323.2 237.4,1323.2 243.4,1323.2 249.4,1323.2 255.4,1323.3 261.4,1323.3 267.4,1323.3 273.4,1323.4 279.4,1323.4 285.4,1323.4 291.4,1323.4 297.4,1323.5 303.4,1323.5 309.4,1323.5 315.4,1323.5 321.4,1323.6 327.4,1323.6 333.4,1323.6 339.4,1323.5 345.4,1323.5 351.4,1323.3 357.4,1323.1 363.4,1323.0 369.4,1322.9 375.4,1322.8 381.4,1322.8 387.4,1322.8 393.4,1322.9 399.4,1322.9 405.4,1322.9 411.4,1323.0 417.4,1323.0 423.4,1323.1 429.4,1323.1 435.4,1323.2 441.4,1323.2 447.4,1323.3 453.4,1323.3 459.4,1323.4 465.4,1323.5 471.4,1323.5 477.4,1323.6 483.4,1323.6 489.4,1323.7 495.4,1323.7 501.4,1323.8 507.4,1323.8 513.4,1323.8 519.4,1323.9 525.4,1324.0 531.4,1324.0 537.4,1324.1 543.4,1324.1 549.4,1324.2 555.4,1324.2 561.4,1324.3 567.4,1324.3 573.4,1324.4 579.4,1324.4 585.4,1324.5 591.4,1324.6 597.4,1324.6 603.4,1324.7 609.4,1324.7 615.4,1324.8 621.4,1324.8 627.4,1324.9 633.4,1324.9 639.4,1325.0 645.4,1325.0 651.4,1325.1 657.4,1325.1 663.4,1325.2 669.4,1325.2 675.4,1325.3 681.4,1325.3 687.4,1325.3 693.4,1325.4 699.4,1325.4 705.4,1325.4 711.4,1325.5 717.4,1325.5 723.4,1325.5 729.4,1325.6 735.4,1325.6 741.4,1325.6 747.4,1325.6 753.4,1325.6 759.4,1325.7 765.4,1325.7 771.4,1325.7 777.4,1325.7 783.4,1325.7 789.4,1325.7 795.4,1325.7 801.4,1325.6 807.4,1325.6 813.4,1325.6 819.4,1325.5 825.4,1325.5 831.4,1325.4 837.4,1325.4 843.4,1325.3 849.4,1325.2 855.4,1325.1 861.4,1325.0 867.4,1324.9 873.4,1324.8 879.4,1324.6 885.4,1324.5 891.4,1324.3 897.4,1324.1 903.4,1323.9 909.4,1323.7 915.4,1323.5 921.4,1323.3 927.4,1323.0 933.4,1322.8 939.4,1322.5 945.4,1322.2 951.4,1321.8 957.4,1321.5 963.4,1321.1 969.4,1320.7 975.4,1320.3 981.4,1319.9 987.4,1319.4 993.4,1318.9 999.4,1318.4 1005.4,1317.9 1011.4,1317.3 1017.4,1316.7 1023.4,1316.0 1029.4,1315.3 1035.4,1314.6 1041.4,1313.8 1047.4,1313.0 1053.4,1312.2 1059.4,1311.3 1065.4,1310.3 1071.4,1309.3 1077.4,1308.2 1083.4,1307.1 1089.4,1305.9 1095.4,1304.6 1101.4,1303.2 1107.4,1301.8 1113.4,1300.3 1119.4,1298.7 1125.4,1297.0 1131.4,1295.2 1137.4,1293.4 1143.4,1291.4 1149.4,1289.3 1155.4,1287.2 1161.4,1284.9 1167.4,1282.5 1173.4,1279.9 1179.4,1277.3 1185.4,1274.5 1191.4,1271.7 1197.4,1268.7 1203.4,1265.6 1209.4,1262.3 1215.4,1258.9 1221.4,1255.5 1227.4,1251.9 1233.4,1248.1 1239.4,1244.3 1245.4,1240.3 1251.4,1236.2 1257.4,1232.1 1263.4,1227.8 1269.4,1223.4 1275.4,1218.9 1281.4,1214.3 1287.4,1209.6 1293.4,1204.8 1299.4,1199.9 1305.4,1195.0 1311.4,1189.9 1317.4,1184.8 1323.4,1179.7 1329.4,1174.4 1335.4,1169.1 1341.4,1163.8 1347.4,1158.4 1353.4,1153.0 1359.4,1147.5 1365.4,1142.0 1371.4,1136.5 1377.4,1131.0 1383.4,1125.5 1389.4,1120.0 1395.4,1114.6 1401.4,1109.2 1407.4,1103.9 1413.4,1098.7 1419.4,1093.6 1425.4,1088.6 1431.4,1083.8 1437.4,1079.2 1443.4,1074.8 1449.4,1070.6 1455.4,1066.7 1461.4,1063.0 1467.4,1059.6 1473.4,1056.5 1479.4,1053.7 1485.4,1051.3 1491.4,1049.1 1497.4,1047.3 1503.4,1045.9 1509.4,1044.8 1515.4,1044.1 1521.4,1043.8 1527.4,1043.8 1533.4,1044.2 1539.4,1045.0 1545.4,1046.2 1551.4,1047.7 1557.4,1049.5 1563.4,1051.8 1569.4,1054.4 1575.4,1057.3 1581.4,1060.5 1587.4,1064.0 1593.4,1067.9 1599.4,1072.0 1605.4,1076.4 1611.4,1081.0 1617.4,1085.8 1623.4,1090.9 1629.4,1096.2 1635.4,1101.6 1641.4,1107.2 1647.4,1112.9 1653.4,1118.7 1659.4,1124.6 1665.4,1130.7 1671.4,1136.7 1677.4,1142.9 1683.4,1149.0 1689.4,1155.2 1695.4,1161.4 1701.4,1167.6 1707.4,1173.7 1713.4,1179.8 1719.4,1185.9 1725.4,1191.9 1731.4,1197.9 1737.4,1203.7 1743.4,1209.5 1749.4,1215.2 1755.4,1220.8 1761.4,1226.3 1767.4,1231.6 1773.4,1236.9 1779.4,1242.0 1785.4,1247.0 1791.4,1251.9 1797.4,1256.6 1803.4,1261.2 1809.4,1265.6 1815.4,1270.0 1821.4,1274.2 1827.4,1278.2 1833.4,1282.2 1839.4,1286.0 1845.4,1289.6 1851.4,1293.2 1857.4,1296.6 1863.4,1299.8 1869.4,1303.0 1875.4,1306.1 1881.4,1309.0 1887.4,1311.8 1893.4,1314.5 1899.4,1317.1 1905.4,1319.6 1911.4,1322.0 1917.4,1324.3 1923.4,1326.5 1929.4,1328.6 1935.4,1330.6 1941.4,1332.6 1947.4,1334.4 1953.4,1336.2 1959.4,1337.8 1965.4,1339.4 1971.4,1340.9 1977.4,1342.3 1983.4,1343.7 1989.4,1344.9 1995.4,1346.1 2001.4,1347.2 2007.4,1348.2 2013.4,1349.2 2019.4,1350.1 2025.4,1350.9 2031.4,1351.7 2037.4,1352.4 2043.4,1353.0 2049.4,1353.6 2055.4,1354.2 2061.4,1354.8 2067.4,1355.3 2073.4,1355.8 2079.4,1356.3 2085.4,1356.8 2091.4,1357.2 2097.4,1357.7 2103.4,1358.1 2109.4,1358.5 2115.4,1358.9 2121.4,1359.4 2127.4,1359.7 2133.4,1360.1 2139.4,1360.5 2145.4,1360.9 2151.4,1361.2 2157.4,1361.6 2163.4,1361.9 2169.4,1362.2 2175.4,1362.6 2181.4,1362.9 2187.4,1363.2 2193.4,1363.5 2199.4,1363.7 2205.4,1364.0 2211.4,1364.3 2217.4,1364.5 2223.4,1364.8 2229.4,1365.0 2235.4,1365.2 2241.4,1365.5 2247.4,1365.7 2253.4,1365.9 2259.4,1366.1 2265.4,1366.3 2271.4,1366.4 2277.4,1366.6 2283.4,1366.8 2289.4,1366.9 2295.4,1367.1 2301.4,1367.2 2307.4,1367.4 2313.4,1367.5 2319.4,1367.6 2325.4,1367.7 2331.4,1367.9 2337.4,1368.0 2343.4,1368.1 2349.4,1368.2 2355.4,1368.3 2361.4,1368.4 2367.4,1368.6" stroke="#000080"/>
<polyline points="147.4,1325.0 153.4,1325.0 159.4,1325.0 165.4,1325.1 171.4,1325.1 177.4,1325.1 183.4,1325.2 189.4,1325.2 195.4,1325.2 201.4,1325.3 207.4,1325.3 213.4,1325.3 219.4,1325.4 225.4,1325.4 231.4,1325.5 237.4,1325.5 243.4,1325.5 249.4,1325.6 255.4,1325.6 261.4,1325.7 267.4,1325.7 273.4,1325.8 279.4,1325.8 285.4,1325.9 291.4,1325.9 297.4,1326.0 303.4,1326.0 309.4,1326.1 315.4,1326.1 321.4,1326.2 327.4,1326.2 333.4,1326.3 339.4,1326.4 345.4,1326.4 351.4,1326.5 357.4,1326.5 363.4,1326.6 369.4,1326.7 375.4,1326.7 381.4,1326.8 387.4,1326.9 393.4,1326.9 399.4,1327.0 405.4,1327.1 411.4,1327.1 417.4,1327.2 423.4,1327.3 429.4,1327.4 435.4,1327.4 441.4,1327.5 447.4,1327.6 453.4,1327.7 459.4,1327.7 465.4,1327.8 471.4,1327.9 477.4,1328.0 483.4,1328.1 489.4,1328.2 495.4,1328.2 501.4,1328.3 507.4,1328.4 513.4,1328.5 519.4,1328.6 525.4,1328.7 531.4,1328.8 537.4,1328.9 543.4,1329.0 549.4,1329.1 555.4,1329.2 561.4,1329.2 567.4,1329.3 573.4,1329.4 579.4,1329.5 585.4,1329.6 591.4,1329.7 597.4,1329.8 603.4,1329.9 609.4,1330.0 615.4,1330.2 621.4,1330.3 627.4,1330.4 633.4,1330.5 639.4,1330.6 645.4,1330.7 651.4,1330.8 657.4,1330.9 663.4,1331.0 669.4,1331.1 675.4,1331.3 681.4,1331.4 687.4,1331.5 693.4,1331.6 699.4,1331.7 705.4,1331.8 711.4,1332.0 717.4,1332.1 723.4,1332.2 729.4,1332.3 735.4,1332.4 741.4,1332.6 747.4,1332.7 753.4,1332.8 759.4,1333.0 765.4,1333.1 771.4,1333.2 777.4,1333.3 783.4,1333.5 789.4,1333.6 795.4,1333.7 801.4,1333.9 807.4,1334.0 813.4,1334.1 819.4,1334.3 825.4,1334.4 831.4,1334.5 837.4,1334.7 843.4,1334.8 849.4,1335.0 855.4,1335.1 861.4,1335.2 867.4,1335.4 873.4,1335.5 879.4,1335.7 885.4,1335.8 891.4,1336.0 897.4,1336.1 903.4,1336.3 909.4,1336.4 915.4,1336.6 921.4,1336.7 927.4,1336.9 933.4,1337.0 939.4,1337.2 945.4,1337.3 951.4,1337.5 957.4,1337.6 963.4,1337.8 969.4,1338.0 975.4,1338.1 981.4,1338.3 987.4,1338.4 993.4,1338.6 999.4,1338.8 1005.4,1338.9 1011.4,1339.1 1017.4,1339.3 1023.4,1339.4 1029.4,1339.6 1035.4,1339.8 1041.4,1339.9 1047.4,1340.1 1053.4,1340.3 1059.4,1340.4 1065.4,1340.6 1071.4,1340.8 1077.4,1340.9 1083.4,1341.1 1089.4,1341.3 1095.4,1341.5 1101.4,1341.6 1107.4,1341.8 1113.4,1342.0 1119.4,1342.2 1125.4,1342.4 1131.4,1342.5 1137.4,1342.7 1143.4,1342.9 1149.4,1343.1 1155.4,1343.3 1161.4,1343.5 1167.4,1343.6 1173.4,1343.8 1179.4,1344.0 1185.4,1344.2 1191.4,1344.4 1197.4,1344.6 1203.4,1344.8 1209.4,1345.0 1215.4,1345.1 1221.4,1345.3 1227.4,1345.5 1233.4,1345.7 1239.4,1345.9 1245.4,1346.1 1251.4,1346.3 1257.4,1346.5 1263.4,1346.7 1269.4,1346.9 1275.4,1347.1 1281.4,1347.3 1287.4,1347.5 1293.4,1347.7 1299.4,1347.9 1305.4,1348.1 1311.4,1348.3 1317.4,1348.5 1323.4,1348.7 1329.4,1348.9 1335.4,1349.1 1341.4,1349.3 1347.4,1349.5 1353.4,1349.8 1359.4,1350.0 1365.4,1350.2 1371.4,1350.4 1377.4,1350.6 1383.4,1350.8 1389.4,1351.0 1395.4,1351.2 1401.4,1351.4 1407.4,1351.6 1413.4,1351.9 1419.4,1352.1 1425.4,1352.3 1431.4,1352.5 1437.4,1352.7 1443.4,1352.9 1449.4,1353.1 1455.4,1353.3 1461.4,1353.5 1467.4,1353.8 1473.4,1354.0 1479.4,1354.2 1485.4,1354.4 1491.4,1354.6 1497.4,1354.8 1503.4,1355.0 1509.4,1355.2 1515.4,1355.4 1521.4,1355.6 1527.4,1355.9 1533.4,1356.1 1539.4,1356.3 1545.4,1356.5 1551.4,1356.7 1557.4,1356.9 1563.4,1357.1 1569.4,1357.3 1575.4,1357.5 1581.4,1357.7 1587.4,1357.9 1593.4,1358.1 1599.4,1358.3 1605.4,1358.5 1611.4,1358.7 1617.4,1358.9 1623.4,1359.1 1629.4,1359.3 1635.4,1359.5 1641.4,1359.7 1647.4,1359.9 1653.4,1360.1 1659.4,1360.3 1665.4,1360.4 1671.4,1360.6 1677.4,1360.8 1683.4,1361.0 1689.4,1361.2 1695.4,1361.4 1701.4,1361.6 1707.4,1361.7 1713.4,1361.9 1719.4,1362.1 1725.4,1362.3 1731.4,1362.4 1737.4,1362.6 1743.4,1362.8 1749.4,1363.0 1755.4,1363.1 1761.4,1363.3 1767.4,1363.5 1773.4,1363.6 1779.4,1363.8 1785.4,1363.9 1791.4,1364.1 1797.4,1364.2 1803.4,1364.4 1809.4,1364.6 1815.4,1364.7 1821.4,1364.8 1827.4,1365.0 1833.4,1365.1 1839.4,1365.3 1845.4,1365.4 1851.4,1365.6 1857.4,1365.7 1863.4,1365.8 1869.4,1366.0 1875.4,1366.1 1881.4,1366.2 1887.4,1366.3 1893.4,1366.5 1899.4,1366.6 1905.4,1366.7 1911.4,1366.8 1917.4,1366.9 1923.4,1367.0 1929.4,1367.1 1935.4,1367.3 1941.4,1367.4 1947.4,1367.5 1953.4,1367.6 1959.4,1367.7 1965.4,1367.8 1971.4,1367.9 1977.4,1368.0 1983.4,1368.1 1989.4,1368.1 1995.4,1368.2 2001.4,1368.3 2007.4,1368.4 2013.4,1368.5 2019.4,1368.6 2025.4,1368.7 2031.4,1368.7 2037.4,1368.8 2043.4,1368.9 2049.4,1369.0 2055.4,1369.1 2061.4,1369.1 2067.4,1369.2 2073.4,1369.3 2079.4,1369.4 2085.4,1369.4 2091.4,1369.5 2097.4,1369.6 2103.4,1369.6 2109.4,1369.7 2115.4,1369.8 2121.4,1369.8 2127.4,1369.9 2133.4,1370.0 2139.4,1370.0 2145.4,1370.1 2151.4,1370.2 2157.4,1370.2 2163.4,1370.3 2169.4,1370.3 2175.4,1370.4 2181.4,1370.5 2187.4,1370.5 2193.4,1370.6 2199.4,1370.6 2205.4,1370.7 2211.4,1370.7 2217.4,1370.8 2223.4,1370.9 2229.4,1370.9 2235.4,1371.0 2241.4,1371.0 2247.4,1371.1 2253.4,1371.1 2259.4,1371.2 2265.4,1371.3 2271.4,1371.3 2277.4,1371.4 2283.4,1371.4 2289.4,1371.5 2295.4,1371.5 2301.4,1371.6 2307.4,1371.7 2313.4,1371.7 2319.4,1371.8 2325.4,1371.8 2331.4,1371.9 2337.4,1372.0 2343.4,1372.0 2349.4,1372.1 2355.4,1372.1 2361.4,1372.2 2367.4,1372.3" stroke="#8000FF"/>
<polyline points="136.1,1746.7 142.1,1746.7 148.1,1746.7 154.1,1746.8 160.1,1746.8 166.1,1746.8 172.1,1746.8 178.1,1746.8 184.1,1746.9 190.1,1746.9 196.1,1746.9 202.1,1746.9 208.1,1747.0 214.1,1747.0 220.1,1747.0 226.1,1747.1 232.1,1747.1 238.1,1747.1 244.1,1747.1 250.1,1747.2 256.1,1747.2 262.1,1747.2 268.1,1747.3 274.1,1747.3 280.1,1747.3 286.1,1747.4 292.1,1747.4 298.1,1747.5 304.1,1747.5 310.1,1747.5 316.1,1747.6 322.1,1747.6 328.1,1747.7 334.1,1747.7 340.1,1747.8 346.1,1747.8 352.1,1747.8 358.1,1747.9 364.1,1748.0 370.1,1748.0 376.1,1748.1 382.1,1748.1 388.1,1748.2 394.1,1748.2 400.1,1748.3 406.1,1748.4 412.1,1748.4 418.1,1748.5 424.1,1748.5 430.1,1748.6 436.1,1748.7 442.1,1748.7 448.1,1748.8 454.1,1748.9 460.1,1748.9 466.1,1749.0 472.1,1749.1 478.1,1749.1 484.1,1749.2 490.1,1749.3 496.1,1749.3 502.1,1749.4 508.1,1749.5 514.1,1749.5 520.1,1749.6 526.1,1749.7 532.1,1749.8 538.1,1749.8 544.1,1749.9 550.1,1750.0 556.1,1750.1 562.1,1750.2 568.1,1750.2 574.1,1750.3 580.1,1750.4 586.1,1750.5 592.1,1750.6 598.1,1750.7 604.1,1750.7 610.1,1750.8 616.1,1750.9 622.1,1751.0 628.1,1751.1 634.1,1751.2 640.1,1751.3 646.1,1751.4 652.1,1751.5 658.1,1751.6 664.1,1751.7 670.1,1751.7 676.1,1751.8 682.1,1751.9 688.1,1752.0 694.1,1752.1 700.1,1752.2 706.1,1752.3 712.1,1752.4 718.1,1752.5 724.1,1752.6 730.1,1752.7 736.1,1752.8 742.1,1752.9 748.1,1753.0 754.1,1753.1 760.1,1753.2 766.1,1753.3 772.1,1753.4 778.1,1753.5 784.1,1753.6 790.1,1753.7 796.1,1753.9 802.1,1754.0 808.1,1754.1 814.1,1754.2 820.1,1754.3 826.1,1754.4 832.1,1754.5 838.1,1754.6 844.1,1754.8 850.1,1754.9 856.1,1755.0 862.1,1755.1 868.1,1755.2 874.1,1755.4 880.1,1755.5 886.1,1755.6 892.1,1755.7 898.1,1755.8 904.1,1756.0 910.1,1756.1 916.1,1756.2 922.1,1756.4 928.1,1756.5 934.1,1756.6 940.1,1756.8 946.1,1756.9 952.1,1757.0 958.1,1757.2 964.1,1757.3 970.1,1757.4 976.1,1757.6 982.1,1757.7 988.1,1757.8 994.1,1758.0 1000.1,1758.1 1006.1,1758.3 1012.1,1758.4 1018.1,1758.5 1024.1,1758.7 1030.1,1758.8 1036.1,1759.0 1042.1,1759.1 1048.1,1759.2 1054.1,1759.4 1060.1,1759.5 1066.1,1759.7 1072.1,1759.8 1078.1,1760.0 1084.1,1760.1 1090.1,1760.2 1096.1,1760.4 1102.1,1760.5 1108.1,1760.7 1114.1,1760.8 1120.1,1761.0 1126.1,1761.1 1132.1,1761.3 1138.1,1761.4 1144.1,1761.6 1150.1,1761.7 1156.1,1761.9 1162.1,1762.0 1168.1,1762.2 1174.1,1762.3 1180.1,1762.5 1186.1,1762.6 1192.1,1762.8 1198.1,1762.9 1204.1,1763.1 1210.1,1763.2 1216.1,1763.4 1222.1,1763.6 1228.1,1763.7 1234.1,1763.9 1240.1,1764.0 1246.1,1764.2 1252.1,1764.3 1258.1,1764.5 1264.1,1764.6 1270.1,1764.8 1276.1,1765.0 1282.1,1765.1 1288.1,1765.3 1294.1,1765.4 1300.1,1765.6 1306.1,1765.7 1312.1,1765.9 1318.1,1766.0 1324.1,1766.2 1330.1,1766.3 1336.1,1766.5 1342.1,1766.7 1348.1,1766.8 1354.1,1767.0 1360.1,1767.1 1366.1,1767.3 1372.1,1767.4 1378.1,1767.6 1384.1,1767.7 1390.1,1767.9 1396.1,1768.0 1402.1,1768.2 1408.1,1768.3 1414.1,1768.5 1420.1,1768.6 1426.1,1768.8 1432.1,1768.9 1438.1,1769.1 1444.1,1769.2 1450.1,1769.4 1456.1,1769.5 1462.1,1769.7 1468.1,1769.8 1474.1,1770.0 1480.1,1770.2 1486.1,1770.3 1492.1,1770.5 1498.1,1770.6 1504.1,1770.8 1510.1,1771.0 1516.1,1771.1 1522.1,1771.3 1528.1,1771.5 1534.1,1771.7 1540.1,1771.8 1546.1,1772.0 1552.1,1772.2 1558.1,1772.4 1564.1,1772.5 1570.1,1772.7 1576.1,1772.9 1582.1,1773.1 1588.1,1773.4 1594.1,1773.6 1600.1,1773.8 1606.1,1774.1 1612.1,1774.3 1618.1,1774.6 1624.1,1774.8 1630.1,1775.1 1636.1,1775.3 1642.1,1775.6 1648.1,1775.9 1654.1,1776.1 1660.1,1776.4 1666.1,1776.7 1672.1,1777.0 1678.1,1777.2 1684.1,1777.5 1690.1,1777.8 1696.1,1778.1 1702.1,1778.3 1708.1,1778.6 1714.1,1778.9 1720.1,1779.2 1726.1,1779.4 1732.1,1779.7 1738.1,1779.9 1744.1,1780.2 1750.1,1780.4 1756.1,1780.7 1762.1,1780.9 1768.1,1781.1 1774.1,1781.4 1780.1,1781.6 1786.1,1781.8 1792.1,1782.0 1798.1,1782.2 1804.1,1782.3 1810.1,1782.5 1816.1,1782.7 1822.1,1782.8 1828.1,1782.9 1834.1,1783.1 1840.1,1783.2 1846.1,1783.3 1852.1,1783.3 1858.1,1783.4 1864.1,1783.5 1870.1,1783.5 1876.1,1783.5 1882.1,1783.6 1888.1,1783.6 1894.1,1783.6 1900.1,1783.6 1906.1,1783.7 1912.1,1783.7 1918.1,1783.7 1924.1,1783.7 1930.1,1783.8 1936.1,1783.8 1942.1,1783.8 1948.1,1783.8 1954.1,1783.8 1960.1,1783.9 1966.1,1783.9 1972.1,1783.9 1978.1,1783.9 1984.1,1783.9 1990.1,1783.9 1996.1,1784.0 2002.1,1784.0 2008.1,1784.0 2014.1,1784.0 2020.1,1784.0 2026.1,1784.0 2032.1,1784.0 2038.1,1784.0 2044.1,1784.1 2050.1,1784.1 2056.1,1784.1 2062.1,1784.1 2068.1,1784.1 2074.1,1784.1 2080.1,1784.1 2086.1,1784.1 2092.1,1784.1 2098.1,1784.2 2104.1,1784.2 2110.1,1784.2 2116.1,1784.2 2122.1,1784.2 2128.1,1784.2 2134.1,1784.2 2140.1,1784.2 2146.1,1784.2 2152.1,1784.2 2158.1,1784.3 2164.1,1784.3 2170.1,1784.3 2176.1,1784.3 2182.1,1784.3 2188.1,1784.3 2194.1,1784.3 2200.1,1784.3 2206.1,1784.3 2212.1,1784.3 2218.1,1784.4 2224.1,1784.4 2230.1,1784.4 2236.1,1784.4 2242.1,1784.4 2248.1,1784.4 2254.1,1784.4 2260.1,1784.4 2266.1,1784.4 2272.1,1784.4 2278.1,1784.4 2284.1,1784.4 2290.1,1784.4 2296.1,1784.4 2302.1,1784.5 2308.1,1784.5 2314.1,1784.5 2320.1,1784.5 2326.1,1784.5 2332.1,1784.5 2338.1,1784.5 2344.1,1784.5 2350.1,1784.5 2356.1,1784.5 2362.1,1784.5 2368.1,1784.5" stroke="#0000FF"/>
<polyline points="136.1,1745.4 142.1,1745.3 148.1,1745.3 154.1,1745.3 160.1,1745.3 166.1,1745.3 172.1,1745.2 178.1,1745.2 184.1,1745.2 190.1,1745.1 196.1,1745.1 202.1,1745.0 208.1,1745.0 214.1,1744.9 220.1,1744.9 226.1,1744.8 232.1,1744.8 238.1,1744.7 244.1,1744.6 250.1,1744.5 256.1,1744.4 262.1,1744.3 268.1,1744.2 274.1,1744.1 280.1,1744.0 286.1,1743.8 292.1,1743.7 298.1,1743.5 304.1,1743.4 310.1,1743.2 316.1,1743.0 322.1,1742.8 328.1,1742.6 334.1,1742.4 340.1,1742.2 346.1,1742.0 352.1,1741.8 358.1,1741.5 364.1,1741.3 370.1,1741.0 376.1,1740.8 382.1,1740.5 388.1,1740.3 394.1,1740.0 400.1,1739.7 406.1,1739.4 412.1,1739.1 418.1,1738.8 424.1,1738.5 430.1,1738.1 436.1,1737.8 442.1,1737.4 448.1,1737.1 454.1,1736.7 460.1,1736.3 466.1,1735.9 472.1,1735.4 478.1,1735.0 484.1,1734.5 490.1,1734.0 496.1,1733.4 502.1,1732.9 508.1,1732.3 514.1,1731.7 520.1,1731.1 526.1,1730.4 532.1,1729.8 538.1,1729.1 544.1,1728.3 550.1,1727.6 556.1,1726.8 562.1,1725.9 568.1,1725.1 574.1,1724.2 580.1,1723.3 586.1,1722.3 592.1,1721.4 598.1,1720.4 604.1,1719.4 610.1,1718.3 616.1,1717.3 622.1,1716.2 628.1,1715.1 634.1,1713.9 640.1,1712.8 646.1,1711.6 652.1,1710.4 658.1,1709.2 664.1,1708.0 670.1,1706.8 676.1,1705.6 682.1,1704.3 688.1,1703.1 694.1,1701.8 700.1,1700.5 706.1,1699.2 712.1,1698.0 718.1,1696.7 724.1,1695.4 730.1,1694.1 736.1,1692.8 742.1,1691.5 748.1,1690.2 754.1,1689.0 760.1,1687.7 766.1,1686.4 772.1,1685.2 778.1,1683.9 784.1,1682.7 790.1,1681.5 796.1,1680.3 802.1,1679.1 808.1,1677.9 814.1,1676.8 820.1,1675.7 826.1,1674.6 832.1,1673.5 838.1,1672.5 844.1,1671.4 850.1,1670.4 856.1,1669.5 862.1,1668.6 868.1,1667.7 874.1,1666.8 880.1,1666.0 886.1,1665.2 892.1,1664.5 898.1,1663.8 904.1,1663.1 910.1,1662.5 916.1,1661.9 922.1,1661.4 928.1,1660.9 934.1,1660.5 940.1,1660.1 946.1,1659.8 952.1,1659.5 958.1,1659.3 964.1,1659.2 970.1,1659.1 976.1,1659.0 982.1,1659.0 988.1,1659.1 994.1,1659.2 1000.1,1659.4 1006.1,1659.6 1012.1,1659.9 1018.1,1660.2 1024.1,1660.6 1030.1,1661.1 1036.1,1661.6 1042.1,1662.2 1048.1,1662.8 1054.1,1663.5 1060.1,1664.2 1066.1,1665.0 1072.1,1665.8 1078.1,1666.7 1084.1,1667.7 1090.1,1668.6 1096.1,1669.7 1102.1,1670.7 1108.1,1671.9 1114.1,1673.0 1120.1,1674.2 1126.1,1675.4 1132.1,1676.7 1138.1,1678.0 1144.1,1679.3 1150.1,1680.7 1156.1,1682.1 1162.1,1683.5 1168.1,1684.9 1174.1,1686.4 1180.1,1687.9 1186.1,1689.3 1192.1,1690.8 1198.1,1692.3 1204.1,1693.9 1210.1,1695.4 1216.1,1696.9 1222.1,1698.5 1228.1,1700.0 1234.1,1701.6 1240.1,1703.1 1246.1,1704.6 1252.1,1706.2 1258.1,1707.7 1264.1,1709.2 1270.1,1710.7 1276.1,1712.3 1282.1,1713.8 1288.1,1715.2 1294.1,1716.7 1300.1,1718.2 1306.1,1719.6 1312.1,1721.0 1318.1,1722.4 1324.1,1723.8 1330.1,1725.2 1336.1,1726.6 1342.1,1727.9 1348.1,1729.2 1354.1,1730.5 1360.1,1731.8 1366.1,1733.0 1372.1,1734.3 1378.1,1735.5 1384.1,1736.7 1390.1,1737.9 1396.1,1739.1 1402.1,1740.2 1408.1,1741.3 1414.1,1742.5 1420.1,1743.6 1426.1,1744.7 1432.1,1745.8 1438.1,1746.8 1444.1,1747.9 1450.1,1748.9 1456.1,1750.0 1462.1,1751.0 1468.1,1752.0 1474.1,1753.0 1480.1,1753.9 1486.1,1754.9 1492.1,1755.8 1498.1,1756.8 1504.1,1757.7 1510.1,1758.6 1516.1,1759.4 1522.1,1760.3 1528.1,1761.1 1534.1,1761.9 1540.1,1762.6 1546.1,1763.4 1552.1,1764.1 1558.1,1764.8 1564.1,1765.5 1570.1,1766.1 1576.1,1766.8 1582.1,1767.4 1588.1,1768.0 1594.1,1768.6 1600.1,1769.2 1606.1,1769.7 1612.1,1770.3 1618.1,1770.8 1624.1,1771.3 1630.1,1771.8 1636.1,1772.3 1642.1,1772.8 1648.1,1773.2 1654.1,1773.7 1660.1,1774.1 1666.1,1774.6 1672.1,1775.0 1678.1,1775.4 1684.1,1775.8 1690.1,1776.2 1696.1,1776.6 1702.1,1776.9 1708.1,1777.3 1714.1,1777.7 1720.1,1778.0 1726.1,1778.3 1732.1,1778.7 1738.1,1779.0 1744.1,1779.3 1750.1,1779.6 1756.1,1779.9 1762.1,1780.2 1768.1,1780.5 1774.1,1780.7 1780.1,1781.0 1786.1,1781.2 1792.1,1781.5 1798.1,1781.7 1804.1,1781.9 1810.1,1782.1 1816.1,1782.3 1822.1,1782.4 1828.1,1782.6 1834.1,1782.7 1840.1,1782.9 1846.1,1783.0 1852.1,1783.1 1858.1,1783.2 1864.1,1783.2 1870.1,1783.3 1876.1,1783.3 1882.1,1783.4 1888.1,1783.4 1894.1,1783.5 1900.1,1783.5 1906.1,1783.5 1912.1,1783.6 1918.1,1783.6 1924.1,1783.6 1930.1,1783.7 1936.1,1783.7 1942.1,1783.7 1948.1,1783.7 1954.1,1783.7 1960.1,1783.8 1966.1,1783.8 1972.1,1783.8 1978.1,1783.8 1984.1,1783.8 1990.1,1783.8 1996.1,1783.8 2002.1,1783.8 2008.1,1783.8 2014.1,1783.8 2020.1,1783.7 2026.1,1783.7 2032.1,1783.7 2038.1,1783.7 2044.1,1783.7 2050.1,1783.7 2056.1,1783.7 2062.1,1783.7 2068.1,1783.7 2074.1,1783.7 2080.1,1783.7 2086.1,1783.7 2092.1,1783.7 2098.1,1783.7 2104.1,1783.7 2110.1,1783.7 2116.1,1783.7 2122.1,1783.7 2128.1,1783.8 2134.1,1783.8 2140.1,1783.8 2146.1,1783.8 2152.1,1783.8 2158.1,1783.8 2164.1,1783.8 2170.1,1783.8 2176.1,1783.8 2182.1,1783.9 2188.1,1783.9 2194.1,1783.9 2200.1,1783.9 2206.1,1783.9 2212.1,1783.9 2218.1,1783.9 2224.1,1783.9 2230.1,1783.9 2236.1,1783.9 2242.1,1783.9 2248.1,1783.9 2254.1,1783.9 2260.1,1783.9 2266.1,1783.9 2272.1,1783.9 2278.1,1783.9 2284.1,1784.0 2290.1,1784.0 2296.1,1784.0 2302.1,1784.0 2308.1,1784.0 2314.1,1784.0 2320.1,1784.0 2326.1,1784.0 2332.1,1784.0 2338.1,1784.0 2344.1,1784.0 2350.1,1784.0 2356.1,1784.0 2362.1,1784.0 2368.1,1784.0" stroke="#008000"/>
<polyline points="136.1,1740.3 142.1,1740.0 148.1,1739.8 154.1,1739.5 160.1,1739.2 166.1,1738.9 172.1,1738.6 178.1,1738.3 184.1,1738.0 190.1,1737.6 196.1,1737.3 202.1,1736.9 208.1,1736.5 214.1,1736.0 220.1,1735.6 226.1,1735.2 232.1,1734.7 238.1,1734.2 244.1,1733.7 250.1,1733.1 256.1,1732.6 262.1,1732.0 268.1,1731.4 274.1,1730.8 280.1,1730.1 286.1,1729.5 292.1,1728.8 298.1,1728.0 304.1,1727.3 310.1,1726.5 316.1,1725.7 322.1,1724.9 328.1,1724.0 334.1,1723.2 340.1,1722.3 346.1,1721.4 352.1,1720.4 358.1,1719.5 364.1,1718.5 370.1,1717.5 376.1,1716.5 382.1,1715.5 388.1,1714.5 394.1,1713.5 400.1,1712.5 406.1,1711.5 412.1,1710.4 418.1,1709.4 424.1,1708.3 430.1,1707.3 436.1,1706.2 442.1,1705.2 448.1,1704.1 454.1,1703.1 460.1,1702.1 466.1,1701.0 472.1,1700.0 478.1,1698.9 484.1,1697.9 490.1,1696.8 496.1,1695.8 502.1,1694.7 508.1,1693.6 514.1,1692.5 520.1,1691.4 526.1,1690.3 532.1,1689.2 538.1,1688.1 544.1,1686.9 550.1,1685.7 556.1,1684.6 562.1,1683.4 568.1,1682.1 574.1,1680.9 580.1,1679.6 586.1,1678.3 592.1,1677.0 598.1,1675.7 604.1,1674.3 610.1,1672.9 616.1,1671.6 622.1,1670.2 628.1,1668.7 634.1,1667.3 640.1,1665.9 646.1,1664.5 652.1,1663.1 658.1,1661.6 664.1,1660.2 670.1,1658.8 676.1,1657.5 682.1,1656.1 688.1,1654.7 694.1,1653.4 700.1,1652.0 706.1,1650.7 712.1,1649.4 718.1,1648.1 724.1,1646.9 730.1,1645.6 736.1,1644.4 742.1,1643.2 748.1,1642.1 754.1,1640.9 760.1,1639.8 766.1,1638.7 772.1,1637.7 778.1,1636.6 784.1,1635.6 790.1,1634.7 796.1,1633.7 802.1,1632.8 808.1,1631.9 814.1,1631.0 820.1,1630.2 826.1,1629.3 832.1,1628.6 838.1,1627.8 844.1,1627.1 850.1,1626.4 856.1,1625.8 862.1,1625.3 868.1,1624.8 874.1,1624.3 880.1,1623.9 886.1,1623.6 892.1,1623.3 898.1,1623.1 904.1,1623.0 910.1,1622.9 916.1,1622.9 922.1,1623.0 928.1,1623.1 934.1,1623.2 940.1,1623.5 946.1,1623.7 952.1,1624.1 958.1,1624.5 964.1,1624.9 970.1,1625.4 976.1,1625.9 982.1,1626.5 988.1,1627.1 994.1,1627.7 1000.1,1628.4 1006.1,1629.0 1012.1,1629.8 1018.1,1630.5 1024.1,1631.2 1030.1,1632.0 1036.1,1632.7 1042.1,1633.5 1048.1,1634.2 1054.1,1634.9 1060.1,1635.7 1066.1,1636.3 1072.1,1637.0 1078.1,1637.6 1084.1,1638.2 1090.1,1638.8 1096.1,1639.3 1102.1,1639.7 1108.1,1640.1 1114.1,1640.5 1120.1,1640.7 1126.1,1640.9 1132.1,1641.1 1138.1,1641.1 1144.1,1641.1 1150.1,1641.0 1156.1,1640.8 1162.1,1640.4 1168.1,1640.0 1174.1,1639.5 1180.1,1638.8 1186.1,1638.1 1192.1,1637.2 1198.1,1636.1 1204.1,1635.0 1210.1,1633.7 1216.1,1632.3 1222.1,1630.7 1228.1,1628.9 1234.1,1627.1 1240.1,1625.0 1246.1,1622.8 1252.1,1620.5 1258.1,1617.9 1264.1,1615.2 1270.1,1612.4 1276.1,1609.4 1282.1,1606.2 1288.1,1602.9 1294.1,1599.4 1300.1,1595.8 1306.1,1592.1 1312.1,1588.2 1318.1,1584.2 1324.1,1580.1 1330.1,1575.8 1336.1,1571.5 1342.1,1567.1 1348.1,1562.7 1354.1,1558.2 1360.1,1553.7 1366.1,1549.1 1372.1,1544.6 1378.1,1540.0 1384.1,1535.5 1390.1,1531.1 1396.1,1526.7 1402.1,1522.4 1408.1,1518.2 1414.1,1514.1 1420.1,1510.1 1426.1,1506.3 1432.1,1502.6 1438.1,1499.1 1444.1,1495.8 1450.1,1492.7 1456.1,1489.8 1462.1,1487.1 1468.1,1484.7 1474.1,1482.5 1480.1,1480.6 1486.1,1478.9 1492.1,1477.6 1498.1,1476.5 1504.1,1475.8 1510.1,1475.4 1516.1,1475.3 1522.1,1475.5 1528.1,1476.1 1534.1,1477.0 1540.1,1478.3 1546.1,1479.9 1552.1,1481.8 1558.1,1484.1 1564.1,1486.7 1570.1,1489.7 1576.1,1493.0 1582.1,1496.6 1588.1,1500.5 1594.1,1504.7 1600.1,1509.2 1606.1,1513.9 1612.1,1518.9 1618.1,1524.2 1624.1,1529.6 1630.1,1535.2 1636.1,1541.0 1642.1,1546.9 1648.1,1553.0 1654.1,1559.2 1660.1,1565.4 1666.1,1571.8 1672.1,1578.1 1678.1,1584.5 1684.1,1590.9 1690.1,1597.3 1696.1,1603.7 1702.1,1610.0 1708.1,1616.2 1714.1,1622.4 1720.1,1628.6 1726.1,1634.6 1732.1,1640.5 1738.1,1646.4 1744.1,1652.1 1750.1,1657.6 1756.1,1663.1 1762.1,1668.4 1768.1,1673.6 1774.1,1678.6 1780.1,1683.4 1786.1,1688.2 1792.1,1692.7 1798.1,1697.1 1804.1,1701.4 1810.1,1705.4 1816.1,1709.4 1822.1,1713.1 1828.1,1716.7 1834.1,1720.2 1840.1,1723.5 1846.1,1726.6 1852.1,1729.6 1858.1,1732.4 1864.1,1735.1 1870.1,1737.6 1876.1,1740.0 1882.1,1742.3 1888.1,1744.4 1894.1,1746.4 1900.1,1748.3 1906.1,1750.1 1912.1,1751.8 1918.1,1753.3 1924.1,1754.8 1930.1,1756.1 1936.1,1757.4 1942.1,1758.6 1948.1,1759.7 1954.1,1760.7 1960.1,1761.7 1966.1,1762.6 1972.1,1763.4 1978.1,1764.2 1984.1,1765.0 1990.1,1765.7 1996.1,1766.3 2002.1,1766.9 2008.1,1767.5 2014.1,1768.0 2020.1,1768.5 2026.1,1769.0 2032.1,1769.4 2038.1,1769.8 2044.1,1770.2 2050.1,1770.6 2056.1,1770.9 2062.1,1771.2 2068.1,1771.5 2074.1,1771.8 2080.1,1772.1 2086.1,1772.3 2092.1,1772.6 2098.1,1772.8 2104.1,1773.0 2110.1,1773.3 2116.1,1773.5 2122.1,1773.6 2128.1,1773.8 2134.1,1774.0 2140.1,1774.2 2146.1,1774.4 2152.1,1774.5 2158.1,1774.7 2164.1,1774.8 2170.1,1775.0 2176.1,1775.1 2182.1,1775.2 2188.1,1775.4 2194.1,1775.5 2200.1,1775.6 2206.1,1775.7 2212.1,1775.9 2218.1,1776.0 2224.1,1776.1 2230.1,1776.3 2236.1,1776.4 2242.1,1776.6 2248.1,1776.8 2254.1,1777.0 2260.1,1777.2 2266.1,1777.4 2272.1,1777.6 2278.1,1777.9 2284.1,1778.1 2290.1,1778.3 2296.1,1778.6 2302.1,1778.8 2308.1,1778.9 2314.1,1779.1 2320.1,1779.2 2326.1,1779.3 2332.1,1779.4 2338.1,1779.5 2344.1,1779.6 2350.1,1779.6 2356.1,1779.7 2362.1,1779.7 2368.1,1779.8" stroke="#FF0000"/>
<polyline points="136.1,1741.6 142.1,1741.3 148.1,1741.1 154.1,1740.8 160.1,1740.5 166.1,1740.2 172.1,1740.0 178.1,1739.7 184.1,1739.3 190.1,1739.0 196.1,1738.7 202.1,1738.4 208.1,1738.0 214.1,1737.7 220.1,1737.3 226.1,1736.9 232.1,1736.6 238.1,1736.2 244.1,1735.8 250.1,1735.4 256.1,1734.9 262.1,1734.5 268.1,1734.1 274.1,1733.6 280.1,1733.2 286.1,1732.7 292.1,1732.2 298.1,1731.8 304.1,1731.3 310.1,1730.8 316.1,1730.3 322.1,1729.8 328.1,1729.3 334.1,1728.8 340.1,1728.2 346.1,1727.7 352.1,1727.2 358.1,1726.7 364.1,1726.1 370.1,1725.6 376.1,1725.0 382.1,1724.5 388.1,1724.0 394.1,1723.4 400.1,1722.9 406.1,1722.4 412.1,1721.8 418.1,1721.3 424.1,1720.8 430.1,1720.2 436.1,1719.7 442.1,1719.2 448.1,1718.7 454.1,1718.2 460.1,1717.7 466.1,1717.2 472.1,1716.7 478.1,1716.2 484.1,1715.7 490.1,1715.2 496.1,1714.7 502.1,1714.3 508.1,1713.8 514.1,1713.3 520.1,1712.8 526.1,1712.4 532.1,1711.9 538.1,1711.5 544.1,1711.0 550.1,1710.6 556.1,1710.2 562.1,1709.7 568.1,1709.3 574.1,1708.9 580.1,1708.5 586.1,1708.1 592.1,1707.8 598.1,1707.4 604.1,1707.0 610.1,1706.7 616.1,1706.4 622.1,1706.1 628.1,1705.8 634.1,1705.5 640.1,1705.3 646.1,1705.1 652.1,1704.9 658.1,1704.7 664.1,1704.5 670.1,1704.4 676.1,1704.3 682.1,1704.2 688.1,1704.1 694.1,1704.1 700.1,1704.1 706.1,1704.1 712.1,1704.1 718.1,1704.2 724.1,1704.2 730.1,1704.4 736.1,1704.5 742.1,1704.6 748.1,1704.8 754.1,1705.0 760.1,1705.3 766.1,1705.5 772.1,1705.8 778.1,1706.1 784.1,1706.4 790.1,1706.8 796.1,1707.2 802.1,1707.6 808.1,1708.0 814.1,1708.4 820.1,1708.9 826.1,1709.4 832.1,1709.9 838.1,1710.4 844.1,1710.9 850.1,1711.5 856.1,1712.0 862.1,1712.6 868.1,1713.2 874.1,1713.8 880.1,1714.5 886.1,1715.1 892.1,1715.8 898.1,1716.5 904.1,1717.1 910.1,1717.8 916.1,1718.5 922.1,1719.3 928.1,1720.0 934.1,1720.7 940.1,1721.5 946.1,1722.2 952.1,1723.0 958.1,1723.7 964.1,1724.5 970.1,1725.2 976.1,1726.0 982.1,1726.8 988.1,1727.6 994.1,1728.3 1000.1,1729.1 1006.1,1729.9 1012.1,1730.7 1018.1,1731.4 1024.1,1732.2 1030.1,1733.0 1036.1,1733.7 1042.1,1734.5 1048.1,1735.3 1054.1,1736.0 1060.1,1736.7 1066.1,1737.5 1072.1,1738.2 1078.1,1738.9 1084.1,1739.7 1090.1,1740.4 1096.1,1741.1 1102.1,1741.7 1108.1,1742.4 1114.1,1743.1 1120.1,1743.7 1126.1,1744.4 1132.1,1745.0 1138.1,1745.6 1144.1,1746.3 1150.1,1746.9 1156.1,1747.5 1162.1,1748.1 1168.1,1748.6 1174.1,1749.2 1180.1,1749.8 1186.1,1750.3 1192.1,1750.8 1198.1,1751.4 1204.1,1751.9 1210.1,1752.4 1216.1,1752.9 1222.1,1753.4 1228.1,1753.9 1234.1,1754.4 1240.1,1754.9 1246.1,1755.3 1252.1,1755.8 1258.1,1756.2 1264.1,1756.7 1270.1,1757.1 1276.1,1757.6 1282.1,1758.0 1288.1,1758.4 1294.1,1758.8 1300.1,1759.2 1306.1,1759.6 1312.1,1760.0 1318.1,1760.4 1324.1,1760.7 1330.1,1761.1 1336.1,1761.5 1342.1,1761.8 1348.1,1762.2 1354.1,1762.5 1360.1,1762.9 1366.1,1763.2 1372.1,1763.5 1378.1,1763.9 1384.1,1764.2 1390.1,1764.5 1396.1,1764.9 1402.1,1765.2 1408.1,1765.5 1414.1,1765.9 1420.1,1766.2 1426.1,1766.6 1432.1,1766.9 1438.1,1767.2 1444.1,1767.6 1450.1,1767.9 1456.1,1768.2 1462.1,1768.5 1468.1,1768.9 1474.1,1769.2 1480.1,1769.5 1486.1,1769.7 1492.1,1770.0 1498.1,1770.3 1504.1,1770.6 1510.1,1770.8 1516.1,1771.1 1522.1,1771.3 1528.1,1771.5 1534.1,1771.8 1540.1,1772.0 1546.1,1772.2 1552.1,1772.5 1558.1,1772.7 1564.1,1772.9 1570.1,1773.1 1576.1,1773.4 1582.1,1773.6 1588.1,1773.9 1594.1,1774.1 1600.1,1774.4 1606.1,1774.6 1612.1,1774.9 1618.1,1775.2 1624.1,1775.4 1630.1,1775.7 1636.1,1776.0 1642.1,1776.2 1648.1,1776.5 1654.1,1776.8 1660.1,1777.0 1666.1,1777.3 1672.1,1777.5 1678.1,1777.8 1684.1,1778.0 1690.1,1778.2 1696.1,1778.4 1702.1,1778.6 1708.1,1778.9 1714.1,1779.0 1720.1,1779.2 1726.1,1779.4 1732.1,1779.6 1738.1,1779.8 1744.1,1780.0 1750.1,1780.2 1756.1,1780.4 1762.1,1780.6 1768.1,1780.8 1774.1,1781.0 1780.1,1781.2 1786.1,1781.3 1792.1,1781.5 1798.1,1781.7 1804.1,1781.9 1810.1,1782.0 1816.1,1782.2 1822.1,1782.3 1828.1,1782.4 1834.1,1782.6 1840.1,1782.7 1846.1,1782.8 1852.1,1782.8 1858.1,1782.9 1864.1,1783.0 1870.1,1783.0 1876.1,1783.0 1882.1,1783.1 1888.1,1783.1 1894.1,1783.1 1900.1,1783.1 1906.1,1783.2 1912.1,1783.2 1918.1,1783.2 1924.1,1783.2 1930.1,1783.3 1936.1,1783.3 1942.1,1783.3 1948.1,1783.3 1954.1,1783.3 1960.1,1783.3 1966.1,1783.4 1972.1,1783.4 1978.1,1783.4 1984.1,1783.4 1990.1,1783.4 1996.1,1783.4 2002.1,1783.5 2008.1,1783.5 2014.1,1783.5 2020.1,1783.5 2026.1,1783.5 2032.1,1783.5 2038.1,1783.5 2044.1,1783.5 2050.1,1783.5 2056.1,1783.6 2062.1,1783.6 2068.1,1783.6 2074.1,1783.6 2080.1,1783.6 2086.1,1783.6 2092.1,1783.6 2098.1,1783.6 2104.1,1783.7 2110.1,1783.7 2116.1,1783.7 2122.1,1783.7 2128.1,1783.7 2134.1,1783.8 2140.1,1783.8 2146.1,1783.8 2152.1,1783.8 2158.1,1783.8 2164.1,1783.8 2170.1,1783.8 2176.1,1783.8 2182.1,1783.9 2188.1,1783.9 2194.1,1783.9 2200.1,1783.9 2206.1,1783.9 2212.1,1783.9 2218.1,1783.9 2224.1,1783.9 2230.1,1783.9 2236.1,1783.9 2242.1,1783.9 2248.1,1783.9 2254.1,1783.9 2260.1,1783.9 2266.1,1783.9 2272.1,1784.0 2278.1,1784.0 2284.1,1784.0 2290.1,1784.0 2296.1,1784.0 2302.1,1784.0 2308.1,1784.0 2314.1,1784.0 2320.1,1784.0 2326.1,1784.0 2332.1,1784.0 2338.1,1784.0 2344.1,1784.0 2350.1,1784.0 2356.1,1784.0 2362.1,1784.0 2368.1,1784.0" stroke="#FF00FF"/>
<polyline points="136.1,1746.5 142.1,1746.5 148.1,1746.5 154.1,1746.5 160.1,1746.6 166.1,1746.6 172.1,1746.6 178.1,1746.6 184.1,1746.6 190.1,1746.7 196.1,1746.7 202.1,1746.7 208.1,1746.7 214.1,1746.8 220.1,1746.8 226.1,1746.8 232.1,1746.8 238.1,1746.9 244.1,1746.9 250.1,1746.9 256.1,1747.0 262.1,1747.0 268.1,1747.0 274.1,1747.1 280.1,1747.1 286.1,1747.1 292.1,1747.2 298.1,1747.2 304.1,1747.2 310.1,1747.3 316.1,1747.3 322.1,1747.3 328.1,1747.4 334.1,1747.4 340.1,1747.5 346.1,1747.5 352.1,1747.6 358.1,1747.6 364.1,1747.7 370.1,1747.7 376.1,1747.8 382.1,1747.8 388.1,1747.9 394.1,1748.0 400.1,1748.0 406.1,1748.2 412.1,1748.3 418.1,1748.6 424.1,1748.8 430.1,1749.0 436.1,1749.1 442.1,1749.2 448.1,1749.2 454.1,1749.3 460.1,1749.4 466.1,1749.4 472.1,1749.5 478.1,1749.6 484.1,1749.6 490.1,1749.7 496.1,1749.8 502.1,1749.8 508.1,1749.9 514.1,1750.0 520.1,1750.0 526.1,1750.1 532.1,1750.2 538.1,1750.2 544.1,1750.3 550.1,1750.4 556.1,1750.5 562.1,1750.5 568.1,1750.6 574.1,1750.7 580.1,1750.8 586.1,1750.9 592.1,1750.9 598.1,1751.0 604.1,1751.1 610.1,1751.2 616.1,1751.3 622.1,1751.4 628.1,1751.4 634.1,1751.5 640.1,1751.6 646.1,1751.7 652.1,1751.8 658.1,1751.9 664.1,1752.0 670.1,1752.1 676.1,1752.1 682.1,1752.2 688.1,1752.3 694.1,1752.4 700.1,1752.5 706.1,1752.6 712.1,1752.7 718.1,1752.8 724.1,1752.9 730.1,1753.0 736.1,1753.1 742.1,1753.1 748.1,1753.2 754.1,1753.3 760.1,1753.4 766.1,1753.5 772.1,1753.6 778.1,1753.7 784.1,1753.8 790.1,1753.9 796.1,1754.0 802.1,1754.1 808.1,1754.2 814.1,1754.3 820.1,1754.4 826.1,1754.6 832.1,1754.7 838.1,1754.8 844.1,1755.0 850.1,1755.1 856.1,1755.2 862.1,1755.4 868.1,1755.5 874.1,1755.6 880.1,1755.7 886.1,1755.8 892.1,1755.8 898.1,1755.9 904.1,1756.0 910.1,1756.1 916.1,1756.1 922.1,1756.2 928.1,1756.2 934.1,1756.3 940.1,1756.3 946.1,1756.3 952.1,1756.3 958.1,1756.3 964.1,1756.3 970.1,1756.3 976.1,1756.3 982.1,1756.2 988.1,1756.1 994.1,1756.0 1000.1,1755.9 1006.1,1755.7 1012.1,1755.5 1018.1,1755.3 1024.1,1755.1 1030.1,1754.8 1036.1,1754.5 1042.1,1754.2 1048.1,1753.8 1054.1,1753.3 1060.1,1752.9 1066.1,1752.3 1072.1,1751.8 1078.1,1751.1 1084.1,1750.4 1090.1,1749.7 1096.1,1748.9 1102.1,1748.0 1108.1,1747.0 1114.1,1745.9 1120.1,1744.8 1126.1,1743.6 1132.1,1742.2 1138.1,1740.8 1144.1,1739.2 1150.1,1737.6 1156.1,1735.8 1162.1,1733.9 1168.1,1731.9 1174.1,1729.7 1180.1,1727.5 1186.1,1725.0 1192.1,1722.5 1198.1,1719.7 1204.1,1716.9 1210.1,1713.9 1216.1,1710.7 1222.1,1707.4 1228.1,1703.9 1234.1,1700.3 1240.1,1696.6 1246.1,1692.6 1252.1,1688.6 1258.1,1684.4 1264.1,1680.0 1270.1,1675.5 1276.1,1670.8 1282.1,1666.1 1288.1,1661.2 1294.1,1656.1 1300.1,1651.0 1306.1,1645.7 1312.1,1640.4 1318.1,1634.9 1324.1,1629.4 1330.1,1623.8 1336.1,1618.1 1342.1,1612.3 1348.1,1606.6 1354.1,1600.7 1360.1,1594.9 1366.1,1589.1 1372.1,1583.2 1378.1,1577.4 1384.1,1571.6 1390.1,1565.9 1396.1,1560.3 1402.1,1554.7 1408.1,1549.3 1414.1,1544.0 1420.1,1538.8 1426.1,1533.8 1432.1,1529.1 1438.1,1524.5 1444.1,1520.2 1450.1,1516.1 1456.1,1512.3 1462.1,1508.8 1468.1,1505.5 1474.1,1502.6 1480.1,1500.0 1486.1,1497.7 1492.1,1495.7 1498.1,1494.1 1504.1,1492.8 1510.1,1491.9 1516.1,1491.3 1522.1,1491.0 1528.1,1491.1 1534.1,1491.5 1540.1,1492.3 1546.1,1493.5 1552.1,1495.0 1558.1,1496.8 1564.1,1499.0 1570.1,1501.5 1576.1,1504.4 1582.1,1507.5 1588.1,1511.0 1594.1,1514.8 1600.1,1518.9 1606.1,1523.2 1612.1,1527.8 1618.1,1532.6 1624.1,1537.7 1630.1,1543.0 1636.1,1548.5 1642.1,1554.1 1648.1,1559.9 1654.1,1565.9 1660.1,1571.9 1666.1,1578.1 1672.1,1584.3 1678.1,1590.6 1684.1,1596.9 1690.1,1603.3 1696.1,1609.6 1702.1,1615.9 1708.1,1622.3 1714.1,1628.5 1720.1,1634.7 1726.1,1640.9 1732.1,1646.9 1738.1,1652.9 1744.1,1658.7 1750.1,1664.5 1756.1,1670.1 1762.1,1675.5 1768.1,1680.9 1774.1,1686.1 1780.1,1691.1 1786.1,1696.0 1792.1,1700.7 1798.1,1705.2 1804.1,1709.6 1810.1,1713.9 1816.1,1717.9 1822.1,1721.8 1828.1,1725.6 1834.1,1729.2 1840.1,1732.6 1846.1,1735.8 1852.1,1738.9 1858.1,1741.8 1864.1,1744.6 1870.1,1747.3 1876.1,1749.8 1882.1,1752.1 1888.1,1754.4 1894.1,1756.5 1900.1,1758.5 1906.1,1760.4 1912.1,1762.2 1918.1,1763.8 1924.1,1765.4 1930.1,1766.9 1936.1,1768.3 1942.1,1769.6 1948.1,1770.8 1954.1,1772.0 1960.1,1773.0 1966.1,1774.0 1972.1,1774.9 1978.1,1775.8 1984.1,1776.5 1990.1,1777.2 1996.1,1777.9 2002.1,1778.5 2008.1,1779.0 2014.1,1779.5 2020.1,1780.0 2026.1,1780.4 2032.1,1780.7 2038.1,1781.1 2044.1,1781.4 2050.1,1781.6 2056.1,1781.9 2062.1,1782.1 2068.1,1782.3 2074.1,1782.5 2080.1,1782.7 2086.1,1782.8 2092.1,1783.0 2098.1,1783.1 2104.1,1783.2 2110.1,1783.3 2116.1,1783.4 2122.1,1783.5 2128.1,1783.6 2134.1,1783.7 2140.1,1783.7 2146.1,1783.8 2152.1,1783.8 2158.1,1783.9 2164.1,1783.9 2170.1,1784.0 2176.1,1784.0 2182.1,1784.1 2188.1,1784.1 2194.1,1784.1 2200.1,1784.1 2206.1,1784.1 2212.1,1784.1 2218.1,1784.1 2224.1,1784.1 2230.1,1784.0 2236.1,1783.9 2242.1,1783.9 2248.1,1783.8 2254.1,1783.8 2260.1,1783.7 2266.1,1783.7 2272.1,1783.7 2278.1,1783.7 2284.1,1783.7 2290.1,1783.7 2296.1,1783.7 2302.1,1783.7 2308.1,1783.7 2314.1,1783.7 2320.1,1783.7 2326.1,1783.7 2332.1,1783.8 2338.1,1783.8 2344.1,1783.8 2350.1,1783.8 2356.1,1783.8 2362.1,1783.8 2368.1,1783.8" stroke="#000080"/>
<polyline points="136.1,1746.1 142.1,1746.1 148.1,1746.1 154.1,1746.2 160.1,1746.2 166.1,1746.2 172.1,1746.3 178.1,1746.3 184.1,1746.4 190.1,1746.4 196.1,1746.4 202.1,1746.5 208.1,1746.5 214.1,1746.6 220.1,1746.6 226.1,1746.6 232.1,1746.7 238.1,1746.7 244.1,1746.8 250.1,1746.8 256.1,1746.9 262.1,1746.9 268.1,1747.0 274.1,1747.0 280.1,1747.1 286.1,1747.1 292.1,1747.1 298.1,1747.2 304.1,1747.2 310.1,1747.3 316.1,1747.3 322.1,1747.4 328.1,1747.5 334.1,1747.5 340.1,1747.6 346.1,1747.6 352.1,1747.7 358.1,1747.7 364.1,1747.8 370.1,1747.8 376.1,1747.9 382.1,1747.9 388.1,1748.0 394.1,1748.1 400.1,1748.1 406.1,1748.2 412.1,1748.2 418.1,1748.3 424.1,1748.4 430.1,1748.4 436.1,1748.5 442.1,1748.5 448.1,1748.6 454.1,1748.7 460.1,1748.7 466.1,1748.8 472.1,1748.9 478.1,1748.9 484.1,1749.0 490.1,1749.1 496.1,1749.1 502.1,1749.2 508.1,1749.3 514.1,1749.3 520.1,1749.4 526.1,1749.5 532.1,1749.5 538.1,1749.6 544.1,1749.7 550.1,1749.8 556.1,1749.8 562.1,1749.9 568.1,1750.0 574.1,1750.1 580.1,1750.1 586.1,1750.2 592.1,1750.3 598.1,1750.4 604.1,1750.4 610.1,1750.5 616.1,1750.6 622.1,1750.7 628.1,1750.8 634.1,1750.8 640.1,1750.9 646.1,1751.0 652.1,1751.1 658.1,1751.2 664.1,1751.3 670.1,1751.4 676.1,1751.4 682.1,1751.5 688.1,1751.6 694.1,1751.7 700.1,1751.8 706.1,1751.9 712.1,1752.0 718.1,1752.1 724.1,1752.1 730.1,1752.2 736.1,1752.3 742.1,1752.4 748.1,1752.5 754.1,1752.6 760.1,1752.7 766.1,1752.8 772.1,1752.9 778.1,1753.0 784.1,1753.1 790.1,1753.2 796.1,1753.3 802.1,1753.4 808.1,1753.5 814.1,1753.6 820.1,1753.7 826.1,1753.8 832.1,1753.9 838.1,1754.0 844.1,1754.1 850.1,1754.2 856.1,1754.3 862.1,1754.4 868.1,1754.5 874.1,1754.6 880.1,1754.7 886.1,1754.9 892.1,1755.0 898.1,1755.1 904.1,1755.2 910.1,1755.3 916.1,1755.4 922.1,1755.5 928.1,1755.6 934.1,1755.7 940.1,1755.9 946.1,1756.0 952.1,1756.1 958.1,1756.2 964.1,1756.3 970.1,1756.4 976.1,1756.6 982.1,1756.7 988.1,1756.8 994.1,1756.9 1000.1,1757.0 1006.1,1757.2 1012.1,1757.3 1018.1,1757.4 1024.1,1757.5 1030.1,1757.7 1036.1,1757.8 1042.1,1757.9 1048.1,1758.1 1054.1,1758.2 1060.1,1758.3 1066.1,1758.4 1072.1,1758.6 1078.1,1758.7 1084.1,1758.8 1090.1,1759.0 1096.1,1759.1 1102.1,1759.2 1108.1,1759.4 1114.1,1759.5 1120.1,1759.6 1126.1,1759.8 1132.1,1759.9 1138.1,1760.1 1144.1,1760.2 1150.1,1760.3 1156.1,1760.5 1162.1,1760.6 1168.1,1760.8 1174.1,1760.9 1180.1,1761.0 1186.1,1761.2 1192.1,1761.3 1198.1,1761.5 1204.1,1761.6 1210.1,1761.8 1216.1,1761.9 1222.1,1762.1 1228.1,1762.2 1234.1,1762.4 1240.1,1762.5 1246.1,1762.7 1252.1,1762.8 1258.1,1763.0 1264.1,1763.1 1270.1,1763.3 1276.1,1763.4 1282.1,1763.6 1288.1,1763.8 1294.1,1763.9 1300.1,1764.1 1306.1,1764.2 1312.1,1764.4 1318.1,1764.6 1324.1,1764.7 1330.1,1764.9 1336.1,1765.0 1342.1,1765.2 1348.1,1765.4 1354.1,1765.5 1360.1,1765.7 1366.1,1765.9 1372.1,1766.0 1378.1,1766.2 1384.1,1766.4 1390.1,1766.5 1396.1,1766.7 1402.1,1766.8 1408.1,1767.0 1414.1,1767.2 1420.1,1767.3 1426.1,1767.5 1432.1,1767.7 1438.1,1767.8 1444.1,1768.0 1450.1,1768.1 1456.1,1768.3 1462.1,1768.4 1468.1,1768.6 1474.1,1768.8 1480.1,1768.9 1486.1,1769.1 1492.1,1769.2 1498.1,1769.4 1504.1,1769.5 1510.1,1769.7 1516.1,1769.8 1522.1,1769.9 1528.1,1770.1 1534.1,1770.2 1540.1,1770.4 1546.1,1770.5 1552.1,1770.6 1558.1,1770.8 1564.1,1770.9 1570.1,1771.0 1576.1,1771.1 1582.1,1771.3 1588.1,1771.4 1594.1,1771.5 1600.1,1771.6 1606.1,1771.7 1612.1,1771.8 1618.1,1771.9 1624.1,1772.1 1630.1,1772.2 1636.1,1772.3 1642.1,1772.3 1648.1,1772.4 1654.1,1772.5 1660.1,1772.6 1666.1,1772.7 1672.1,1772.8 1678.1,1772.9 1684.1,1772.9 1690.1,1773.0 1696.1,1773.1 1702.1,1773.1 1708.1,1773.2 1714.1,1773.2 1720.1,1773.3 1726.1,1773.3 1732.1,1773.4 1738.1,1773.4 1744.1,1773.5 1750.1,1773.5 1756.1,1773.5 1762.1,1773.6 1768.1,1773.6 1774.1,1773.6 1780.1,1773.6 1786.1,1773.6 1792.1,1773.7 1798.1,1773.7 1804.1,1773.7 1810.1,1773.7 1816.1,1773.7 1822.1,1773.7 1828.1,1773.7 1834.1,1773.7 1840.1,1773.7 1846.1,1773.7 1852.1,1773.7 1858.1,1773.7 1864.1,1773.7 1870.1,1773.7 1876.1,1773.7 1882.1,1773.7 1888.1,1773.7 1894.1,1773.7 1900.1,1773.7 1906.1,1773.7 1912.1,1773.6 1918.1,1773.6 1924.1,1773.6 1930.1,1773.6 1936.1,1773.6 1942.1,1773.6 1948.1,1773.6 1954.1,1773.6 1960.1,1773.6 1966.1,1773.6 1972.1,1773.6 1978.1,1773.5 1984.1,1773.5 1990.1,1773.5 1996.1,1773.5 2002.1,1773.5 2008.1,1773.5 2014.1,1773.5 2020.1,1773.5 2026.1,1773.5 2032.1,1773.5 2038.1,1773.5 2044.1,1773.5 2050.1,1773.6 2056.1,1773.6 2062.1,1773.6 2068.1,1773.6 2074.1,1773.6 2080.1,1773.6 2086.1,1773.7 2092.1,1773.7 2098.1,1773.7 2104.1,1773.8 2110.1,1773.8 2116.1,1773.8 2122.1,1773.9 2128.1,1773.9 2134.1,1774.0 2140.1,1774.0 2146.1,1774.1 2152.1,1774.1 2158.1,1774.2 2164.1,1774.3 2170.1,1774.3 2176.1,1774.4 2182.1,1774.5 2188.1,1774.6 2194.1,1774.7 2200.1,1774.8 2206.1,1774.9 2212.1,1775.0 2218.1,1775.1 2224.1,1775.2 2230.1,1775.3 2236.1,1775.4 2242.1,1775.5 2248.1,1775.7 2254.1,1775.8 2260.1,1775.9 2266.1,1776.1 2272.1,1776.2 2278.1,1776.4 2284.1,1776.6 2290.1,1776.7 2296.1,1776.9 2302.1,1777.1 2308.1,1777.3 2314.1,1777.5 2320.1,1777.7 2326.1,1777.9 2332.1,1778.1 2338.1,1778.4 2344.1,1778.6 2350.1,1778.8 2356.1,1779.1 2362.1,1779.3 2368.1,1779.6" stroke="#8000FF"/>
</g>
<rect x="133.4" y="37.0" width="2230.8" height="1829.0" fill="none" stroke="#000" stroke-width="5" shape-rendering="crispEdges"/>
<g stroke="#000" stroke-width="5" shape-rendering="crispEdges">
<line x1="133.4" y1="1866.0" x2="133.4" y2="1892.0"/>
<line x1="257.3" y1="1866.0" x2="257.3" y2="1880.0"/>
<line x1="381.3" y1="1866.0" x2="381.3" y2="1892.0"/>
<line x1="505.2" y1="1866.0" x2="505.2" y2="1880.0"/>
<line x1="629.1" y1="1866.0" x2="629.1" y2="1892.0"/>
<line x1="753.1" y1="1866.0" x2="753.1" y2="1880.0"/>
<line x1="877.0" y1="1866.0" x2="877.0" y2="1892.0"/>
<line x1="1000.9" y1="1866.0" x2="1000.9" y2="1880.0"/>
<line x1="1124.9" y1="1866.0" x2="1124.9" y2="1892.0"/>
<line x1="1248.8" y1="1866.0" x2="1248.8" y2="1880.0"/>
<line x1="1372.7" y1="1866.0" x2="1372.7" y2="1892.0"/>
<line x1="1496.7" y1="1866.0" x2="1496.7" y2="1880.0"/>
<line x1="1620.6" y1="1866.0" x2="1620.6" y2="1892.0"/>
<line x1="1744.5" y1="1866.0" x2="1744.5" y2="1880.0"/>
<line x1="1868.5" y1="1866.0" x2="1868.5" y2="1892.0"/>
<line x1="1992.4" y1="1866.0" x2="1992.4" y2="1880.0"/>
<line x1="2116.3" y1="1866.0" x2="2116.3" y2="1892.0"/>
<line x1="2240.3" y1="1866.0" x2="2240.3" y2="1880.0"/>
<line x1="2364.2" y1="1866.0" x2="2364.2" y2="1892.0"/>
</g>
<g class="t" filter="url(#bin)">
<text x="133.4" y="1948.5" text-anchor="middle" font-size="58.5">792</text>
<text x="381.3" y="1948.5" text-anchor="middle" font-size="58.5">790</text>
<text x="629.1" y="1948.5" text-anchor="middle" font-size="58.5">788</text>
<text x="877.0" y="1948.5" text-anchor="middle" font-size="58.5">786</text>
<text x="1124.9" y="1948.5" text-anchor="middle" font-size="58.5">784</text>
<text x="1372.7" y="1948.5" text-anchor="middle" font-size="58.5">782</text>
<text x="1620.6" y="1948.5" text-anchor="middle" font-size="58.5">780</text>
<text x="1868.5" y="1948.5" text-anchor="middle" font-size="58.5">778</text>
<text x="2116.3" y="1948.5" text-anchor="middle" font-size="58.5">776</text>
<text x="2364.2" y="1948.5" text-anchor="middle" font-size="58.5">774</text>
<text x="1650.6" y="121" font-size="67">3CoO<tspan font-size="40" font-style="italic" dy="26">x</tspan><tspan dy="-26">/mpg-C</tspan><tspan font-size="40" dy="26">3</tspan><tspan dy="-26">N</tspan><tspan font-size="40" dy="26">4</tspan><tspan dy="-26">-400R</tspan></text>
<text x="1681.8" y="603.6" font-size="67">3CoO<tspan font-size="40" font-style="italic" dy="26">x</tspan><tspan dy="-26">/mpg-C</tspan><tspan font-size="40" dy="26">3</tspan><tspan dy="-26">N</tspan><tspan font-size="40" dy="26">4</tspan><tspan dy="-26">-450</tspan></text>
<text x="1687.2" y="1059.4" font-size="67">3CoO<tspan font-size="40" font-style="italic" dy="26">x</tspan><tspan dy="-26">/mpg-C</tspan><tspan font-size="40" dy="26">3</tspan><tspan dy="-26">N</tspan><tspan font-size="40" dy="26">4</tspan><tspan dy="-26">-400</tspan></text>
<text x="1696.3" y="1497" font-size="67">3CoO<tspan font-size="40" font-style="italic" dy="26">x</tspan><tspan dy="-26">/mpg-C</tspan><tspan font-size="40" dy="26">3</tspan><tspan dy="-26">N</tspan><tspan font-size="40" dy="26">4</tspan><tspan dy="-26">-350</tspan></text>
<text x="486.5" y="210.3" font-size="67">shake-up</text>
<text transform="translate(877.5,180.8) scale(1,1.045)" font-size="67.5">Co (II)</text>
<text transform="translate(1441,280.8) scale(1,1.045)" font-size="67.5">Co (III)</text>
<text transform="translate(2015,399.8) scale(1,1.045)" font-size="67">Co<tspan font-size="40" dy="-35.7">0</tspan></text>
<text x="1250" y="2054.8" text-anchor="middle" font-size="67">Binding energy (eV)</text>
<text transform="translate(67.7,935.8) rotate(-90)" text-anchor="middle" font-size="57">Intensity (a.u.)</text>
</g>
</svg>
</body></html>
